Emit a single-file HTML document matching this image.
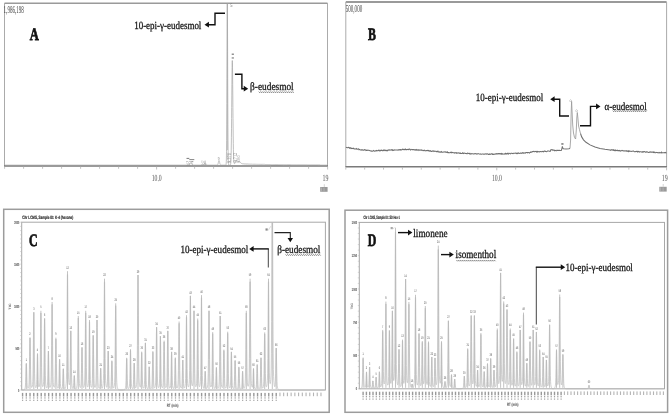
<!DOCTYPE html>
<html><head><meta charset="utf-8"><style>
html,body{margin:0;padding:0;background:#fff;}
body{width:669px;height:415px;overflow:hidden;}
svg{display:block;will-change:transform;text-rendering:geometricPrecision;}
</style></head><body>
<svg width="669" height="415" viewBox="0 0 669 415">
<rect width="669" height="415" fill="#fff"/>
<g id="A">
<line x1="4.50" y1="3.30" x2="327.50" y2="3.30" stroke="#9a9a9a" stroke-width="1.5"/>
<line x1="4.50" y1="3.00" x2="4.50" y2="166.00" stroke="#ababab" stroke-width="1.0"/>
<line x1="327.50" y1="3.00" x2="327.50" y2="166.00" stroke="#ababab" stroke-width="1.0"/>
<line x1="4.00" y1="165.90" x2="328.00" y2="165.90" stroke="#7a7a7a" stroke-width="1.5"/>
<line x1="4.60" y1="166.20" x2="4.60" y2="168.80" stroke="#a8a8a8" stroke-width="0.7"/>
<line x1="23.60" y1="166.20" x2="23.60" y2="168.80" stroke="#a8a8a8" stroke-width="0.7"/>
<line x1="42.60" y1="166.20" x2="42.60" y2="168.80" stroke="#a8a8a8" stroke-width="0.7"/>
<line x1="61.60" y1="166.20" x2="61.60" y2="168.80" stroke="#a8a8a8" stroke-width="0.7"/>
<line x1="80.60" y1="166.20" x2="80.60" y2="168.80" stroke="#a8a8a8" stroke-width="0.7"/>
<line x1="99.60" y1="166.20" x2="99.60" y2="168.80" stroke="#a8a8a8" stroke-width="0.7"/>
<line x1="118.60" y1="166.20" x2="118.60" y2="168.80" stroke="#a8a8a8" stroke-width="0.7"/>
<line x1="137.60" y1="166.20" x2="137.60" y2="168.80" stroke="#a8a8a8" stroke-width="0.7"/>
<line x1="156.60" y1="166.20" x2="156.60" y2="169.50" stroke="#a8a8a8" stroke-width="0.7"/>
<line x1="175.60" y1="166.20" x2="175.60" y2="168.80" stroke="#a8a8a8" stroke-width="0.7"/>
<line x1="194.60" y1="166.20" x2="194.60" y2="168.80" stroke="#a8a8a8" stroke-width="0.7"/>
<line x1="213.60" y1="166.20" x2="213.60" y2="168.80" stroke="#a8a8a8" stroke-width="0.7"/>
<line x1="232.60" y1="166.20" x2="232.60" y2="168.80" stroke="#a8a8a8" stroke-width="0.7"/>
<line x1="251.60" y1="166.20" x2="251.60" y2="168.80" stroke="#a8a8a8" stroke-width="0.7"/>
<line x1="270.60" y1="166.20" x2="270.60" y2="168.80" stroke="#a8a8a8" stroke-width="0.7"/>
<line x1="289.60" y1="166.20" x2="289.60" y2="168.80" stroke="#a8a8a8" stroke-width="0.7"/>
<line x1="308.60" y1="166.20" x2="308.60" y2="168.80" stroke="#a8a8a8" stroke-width="0.7"/>
<line x1="327.60" y1="166.20" x2="327.60" y2="169.50" stroke="#a8a8a8" stroke-width="0.7"/>
<text x="0" y="0" transform="translate(3.60,12.60) scale(0.12000,0.25)" font-family="'Liberation Serif', serif" font-size="42" font-weight="normal" fill="#444" text-anchor="start" >1,986,198</text>
<text x="0" y="0" transform="translate(29.80,40.00) scale(0.18000,0.25)" font-family="'Liberation Serif', serif" font-size="70" font-weight="bold" fill="#111" text-anchor="start" stroke="#111" stroke-width="3">A</text>
<text x="0" y="0" transform="translate(151.70,180.80) scale(0.15000,0.25)" font-family="'Liberation Serif', serif" font-size="38" font-weight="normal" fill="#555" text-anchor="start" >10.0</text>
<text x="0" y="0" transform="translate(322.50,180.80) scale(0.15500,0.25)" font-family="'Liberation Serif', serif" font-size="38" font-weight="normal" fill="#555" text-anchor="start" >19</text>
<rect x="320.2" y="187.0" width="7.4" height="4.8" fill="#9a9a9a"/>
<line x1="324.30" y1="184.20" x2="324.30" y2="187.00" stroke="#c4c4c4" stroke-width="0.7"/>
<line x1="321.50" y1="187.60" x2="321.50" y2="191.40" stroke="#c8c8c8" stroke-width="0.5"/>
<line x1="324.00" y1="187.60" x2="324.00" y2="191.40" stroke="#c8c8c8" stroke-width="0.5"/>
<path d="M5.00,165.10 L5.10,165.10 L5.20,165.10 L5.30,165.10 L5.40,165.10 L5.50,165.10 L5.60,165.10 L5.70,165.10 L5.80,165.10 L5.90,165.10 L6.00,165.10 L6.10,165.10 L6.20,165.10 L6.30,165.10 L6.40,165.10 L6.50,165.10 L6.60,165.10 L6.70,165.10 L6.80,165.10 L6.90,165.10 L7.00,165.10 L7.10,165.10 L7.20,165.10 L7.30,165.10 L7.40,165.10 L7.50,165.10 L7.60,165.10 L7.70,165.10 L7.80,165.10 L7.90,165.10 L8.00,165.10 L8.10,165.10 L8.20,165.10 L8.30,165.10 L8.40,165.10 L8.50,165.10 L8.60,165.10 L8.70,165.10 L8.80,165.10 L8.90,165.10 L9.00,165.10 L9.10,165.10 L9.20,165.10 L9.30,165.10 L9.40,165.10 L9.50,165.10 L9.60,165.10 L9.70,165.10 L9.80,165.10 L9.90,165.10 L10.00,165.10 L10.10,165.10 L10.20,165.10 L10.30,165.10 L10.40,165.10 L10.50,165.10 L10.60,165.10 L10.70,165.10 L10.80,165.10 L10.90,165.10 L11.00,165.10 L11.10,165.10 L11.20,165.10 L11.30,165.10 L11.40,165.10 L11.50,165.10 L11.60,165.10 L11.70,165.10 L11.80,165.10 L11.90,165.10 L12.00,165.10 L12.10,165.10 L12.20,165.10 L12.30,165.10 L12.40,165.10 L12.50,165.10 L12.60,165.10 L12.70,165.10 L12.80,165.10 L12.90,165.10 L13.00,165.10 L13.10,165.10 L13.20,165.10 L13.30,165.10 L13.40,165.10 L13.50,165.10 L13.60,165.10 L13.70,165.10 L13.80,165.10 L13.90,165.10 L14.00,165.10 L14.10,165.10 L14.20,165.10 L14.30,165.10 L14.40,165.10 L14.50,165.10 L14.60,165.10 L14.70,165.10 L14.80,165.10 L14.90,165.10 L15.00,165.10 L15.10,165.10 L15.20,165.10 L15.30,165.10 L15.40,165.10 L15.50,165.10 L15.60,165.10 L15.70,165.10 L15.80,165.10 L15.90,165.10 L16.00,165.10 L16.10,165.10 L16.20,165.10 L16.30,165.10 L16.40,165.10 L16.50,165.10 L16.60,165.10 L16.70,165.10 L16.80,165.10 L16.90,165.10 L17.00,165.10 L17.10,165.10 L17.20,165.10 L17.30,165.10 L17.40,165.10 L17.50,165.10 L17.60,165.10 L17.70,165.10 L17.80,165.10 L17.90,165.10 L18.00,165.10 L18.10,165.10 L18.20,165.10 L18.30,165.10 L18.40,165.10 L18.50,165.10 L18.60,165.10 L18.70,165.10 L18.80,165.10 L18.90,165.10 L19.00,165.10 L19.10,165.10 L19.20,165.10 L19.30,165.10 L19.40,165.10 L19.50,165.10 L19.60,165.10 L19.70,165.10 L19.80,165.10 L19.90,165.10 L20.00,165.10 L20.10,165.10 L20.20,165.10 L20.30,165.10 L20.40,165.10 L20.50,165.10 L20.60,165.10 L20.70,165.10 L20.80,165.10 L20.90,165.10 L21.00,165.10 L21.10,165.10 L21.20,165.10 L21.30,165.10 L21.40,165.10 L21.50,165.10 L21.60,165.10 L21.70,165.10 L21.80,165.10 L21.90,165.10 L22.00,165.10 L22.10,165.10 L22.20,165.10 L22.30,165.10 L22.40,165.10 L22.50,165.10 L22.60,165.10 L22.70,165.10 L22.80,165.10 L22.90,165.10 L23.00,165.10 L23.10,165.10 L23.20,165.10 L23.30,165.10 L23.40,165.10 L23.50,165.10 L23.60,165.10 L23.70,165.10 L23.80,165.10 L23.90,165.10 L24.00,165.10 L24.10,165.10 L24.20,165.10 L24.30,165.10 L24.40,165.10 L24.50,165.10 L24.60,165.10 L24.70,165.10 L24.80,165.10 L24.90,165.10 L25.00,165.10 L25.10,165.10 L25.20,165.10 L25.30,165.10 L25.40,165.10 L25.50,165.10 L25.60,165.10 L25.70,165.10 L25.80,165.10 L25.90,165.10 L26.00,165.10 L26.10,165.10 L26.20,165.10 L26.30,165.10 L26.40,165.10 L26.50,165.10 L26.60,165.10 L26.70,165.10 L26.80,165.10 L26.90,165.10 L27.00,165.10 L27.10,165.10 L27.20,165.10 L27.30,165.10 L27.40,165.10 L27.50,165.10 L27.60,165.10 L27.70,165.10 L27.80,165.10 L27.90,165.10 L28.00,165.10 L28.10,165.10 L28.20,165.10 L28.30,165.10 L28.40,165.10 L28.50,165.10 L28.60,165.10 L28.70,165.10 L28.80,165.10 L28.90,165.10 L29.00,165.10 L29.10,165.10 L29.20,165.10 L29.30,165.10 L29.40,165.10 L29.50,165.10 L29.60,165.10 L29.70,165.10 L29.80,165.10 L29.90,165.10 L30.00,165.10 L30.10,165.10 L30.20,165.10 L30.30,165.10 L30.40,165.10 L30.50,165.10 L30.60,165.10 L30.70,165.10 L30.80,165.10 L30.90,165.10 L31.00,165.10 L31.10,165.10 L31.20,165.10 L31.30,165.10 L31.40,165.10 L31.50,165.10 L31.60,165.10 L31.70,165.10 L31.80,165.10 L31.90,165.10 L32.00,165.10 L32.10,165.10 L32.20,165.10 L32.30,165.10 L32.40,165.10 L32.50,165.10 L32.60,165.10 L32.70,165.10 L32.80,165.10 L32.90,165.10 L33.00,165.10 L33.10,165.10 L33.20,165.10 L33.30,165.10 L33.40,165.10 L33.50,165.10 L33.60,165.10 L33.70,165.10 L33.80,165.10 L33.90,165.10 L34.00,165.10 L34.10,165.10 L34.20,165.10 L34.30,165.10 L34.40,165.10 L34.50,165.10 L34.60,165.10 L34.70,165.10 L34.80,165.10 L34.90,165.10 L35.00,165.10 L35.10,165.10 L35.20,165.10 L35.30,165.10 L35.40,165.10 L35.50,165.10 L35.60,165.10 L35.70,165.10 L35.80,165.10 L35.90,165.10 L36.00,165.10 L36.10,165.10 L36.20,165.10 L36.30,165.10 L36.40,165.10 L36.50,165.10 L36.60,165.10 L36.70,165.10 L36.80,165.10 L36.90,165.10 L37.00,165.10 L37.10,165.10 L37.20,165.10 L37.30,165.10 L37.40,165.10 L37.50,165.10 L37.60,165.10 L37.70,165.10 L37.80,165.10 L37.90,165.10 L38.00,165.10 L38.10,165.10 L38.20,165.10 L38.30,165.10 L38.40,165.10 L38.50,165.10 L38.60,165.10 L38.70,165.10 L38.80,165.10 L38.90,165.10 L39.00,165.10 L39.10,165.10 L39.20,165.10 L39.30,165.10 L39.40,165.10 L39.50,165.10 L39.60,165.10 L39.70,165.10 L39.80,165.10 L39.90,165.10 L40.00,165.10 L40.10,165.10 L40.20,165.10 L40.30,165.10 L40.40,165.10 L40.50,165.10 L40.60,165.10 L40.70,165.10 L40.80,165.10 L40.90,165.10 L41.00,165.10 L41.10,165.10 L41.20,165.10 L41.30,165.10 L41.40,165.10 L41.50,165.10 L41.60,165.10 L41.70,165.10 L41.80,165.10 L41.90,165.10 L42.00,165.10 L42.10,165.10 L42.20,165.10 L42.30,165.10 L42.40,165.10 L42.50,165.10 L42.60,165.10 L42.70,165.10 L42.80,165.10 L42.90,165.10 L43.00,165.10 L43.10,165.10 L43.20,165.10 L43.30,165.10 L43.40,165.10 L43.50,165.10 L43.60,165.10 L43.70,165.10 L43.80,165.10 L43.90,165.10 L44.00,165.10 L44.10,165.10 L44.20,165.10 L44.30,165.10 L44.40,165.10 L44.50,165.10 L44.60,165.10 L44.70,165.10 L44.80,165.10 L44.90,165.10 L45.00,165.10 L45.10,165.10 L45.20,165.10 L45.30,165.10 L45.40,165.10 L45.50,165.10 L45.60,165.10 L45.70,165.10 L45.80,165.10 L45.90,165.10 L46.00,165.10 L46.10,165.10 L46.20,165.10 L46.30,165.10 L46.40,165.10 L46.50,165.10 L46.60,165.10 L46.70,165.10 L46.80,165.10 L46.90,165.10 L47.00,165.10 L47.10,165.10 L47.20,165.10 L47.30,165.10 L47.40,165.10 L47.50,165.10 L47.60,165.10 L47.70,165.10 L47.80,165.10 L47.90,165.10 L48.00,165.10 L48.10,165.10 L48.20,165.10 L48.30,165.10 L48.40,165.10 L48.50,165.10 L48.60,165.10 L48.70,165.10 L48.80,165.10 L48.90,165.10 L49.00,165.10 L49.10,165.10 L49.20,165.10 L49.30,165.10 L49.40,165.10 L49.50,165.10 L49.60,165.10 L49.70,165.10 L49.80,165.10 L49.90,165.10 L50.00,165.10 L50.10,165.10 L50.20,165.10 L50.30,165.10 L50.40,165.10 L50.50,165.10 L50.60,165.10 L50.70,165.10 L50.80,165.10 L50.90,165.10 L51.00,165.10 L51.10,165.10 L51.20,165.10 L51.30,165.10 L51.40,165.10 L51.50,165.10 L51.60,165.10 L51.70,165.10 L51.80,165.10 L51.90,165.10 L52.00,165.10 L52.10,165.10 L52.20,165.10 L52.30,165.10 L52.40,165.10 L52.50,165.10 L52.60,165.10 L52.70,165.10 L52.80,165.10 L52.90,165.10 L53.00,165.10 L53.10,165.10 L53.20,165.10 L53.30,165.10 L53.40,165.10 L53.50,165.10 L53.60,165.10 L53.70,165.10 L53.80,165.10 L53.90,165.10 L54.00,165.10 L54.10,165.10 L54.20,165.10 L54.30,165.10 L54.40,165.10 L54.50,165.10 L54.60,165.10 L54.70,165.10 L54.80,165.10 L54.90,165.10 L55.00,165.10 L55.10,165.10 L55.20,165.10 L55.30,165.10 L55.40,165.10 L55.50,165.10 L55.60,165.10 L55.70,165.10 L55.80,165.10 L55.90,165.10 L56.00,165.10 L56.10,165.10 L56.20,165.10 L56.30,165.10 L56.40,165.10 L56.50,165.10 L56.60,165.10 L56.70,165.10 L56.80,165.10 L56.90,165.10 L57.00,165.10 L57.10,165.10 L57.20,165.10 L57.30,165.10 L57.40,165.10 L57.50,165.10 L57.60,165.10 L57.70,165.10 L57.80,165.10 L57.90,165.10 L58.00,165.10 L58.10,165.10 L58.20,165.10 L58.30,165.10 L58.40,165.10 L58.50,165.10 L58.60,165.10 L58.70,165.10 L58.80,165.10 L58.90,165.10 L59.00,165.10 L59.10,165.10 L59.20,165.10 L59.30,165.10 L59.40,165.10 L59.50,165.10 L59.60,165.10 L59.70,165.10 L59.80,165.10 L59.90,165.10 L60.00,165.10 L60.10,165.10 L60.20,165.10 L60.30,165.10 L60.40,165.10 L60.50,165.10 L60.60,165.10 L60.70,165.10 L60.80,165.10 L60.90,165.10 L61.00,165.10 L61.10,165.10 L61.20,165.10 L61.30,165.10 L61.40,165.10 L61.50,165.10 L61.60,165.10 L61.70,165.10 L61.80,165.10 L61.90,165.10 L62.00,165.10 L62.10,165.10 L62.20,165.10 L62.30,165.10 L62.40,165.10 L62.50,165.10 L62.60,165.10 L62.70,165.10 L62.80,165.10 L62.90,165.10 L63.00,165.10 L63.10,165.10 L63.20,165.10 L63.30,165.10 L63.40,165.10 L63.50,165.10 L63.60,165.10 L63.70,165.10 L63.80,165.10 L63.90,165.10 L64.00,165.10 L64.10,165.10 L64.20,165.10 L64.30,165.10 L64.40,165.10 L64.50,165.10 L64.60,165.10 L64.70,165.10 L64.80,165.10 L64.90,165.10 L65.00,165.10 L65.10,165.10 L65.20,165.10 L65.30,165.10 L65.40,165.10 L65.50,165.10 L65.60,165.10 L65.70,165.10 L65.80,165.10 L65.90,165.10 L66.00,165.10 L66.10,165.10 L66.20,165.10 L66.30,165.10 L66.40,165.10 L66.50,165.10 L66.60,165.10 L66.70,165.10 L66.80,165.10 L66.90,165.10 L67.00,165.10 L67.10,165.10 L67.20,165.10 L67.30,165.10 L67.40,165.10 L67.50,165.10 L67.60,165.10 L67.70,165.10 L67.80,165.10 L67.90,165.10 L68.00,165.10 L68.10,165.10 L68.20,165.10 L68.30,165.10 L68.40,165.10 L68.50,165.10 L68.60,165.10 L68.70,165.10 L68.80,165.10 L68.90,165.10 L69.00,165.10 L69.10,165.10 L69.20,165.10 L69.30,165.10 L69.40,165.10 L69.50,165.10 L69.60,165.10 L69.70,165.10 L69.80,165.10 L69.90,165.10 L70.00,165.10 L70.10,165.10 L70.20,165.10 L70.30,165.10 L70.40,165.10 L70.50,165.10 L70.60,165.10 L70.70,165.10 L70.80,165.10 L70.90,165.10 L71.00,165.10 L71.10,165.10 L71.20,165.10 L71.30,165.10 L71.40,165.10 L71.50,165.10 L71.60,165.10 L71.70,165.10 L71.80,165.10 L71.90,165.10 L72.00,165.10 L72.10,165.10 L72.20,165.10 L72.30,165.10 L72.40,165.10 L72.50,165.10 L72.60,165.10 L72.70,165.10 L72.80,165.10 L72.90,165.10 L73.00,165.10 L73.10,165.10 L73.20,165.10 L73.30,165.10 L73.40,165.10 L73.50,165.10 L73.60,165.10 L73.70,165.10 L73.80,165.10 L73.90,165.10 L74.00,165.10 L74.10,165.10 L74.20,165.10 L74.30,165.10 L74.40,165.10 L74.50,165.10 L74.60,165.10 L74.70,165.10 L74.80,165.10 L74.90,165.10 L75.00,165.10 L75.10,165.10 L75.20,165.10 L75.30,165.10 L75.40,165.10 L75.50,165.10 L75.60,165.10 L75.70,165.10 L75.80,165.10 L75.90,165.10 L76.00,165.10 L76.10,165.10 L76.20,165.10 L76.30,165.10 L76.40,165.10 L76.50,165.10 L76.60,165.10 L76.70,165.10 L76.80,165.10 L76.90,165.10 L77.00,165.10 L77.10,165.10 L77.20,165.10 L77.30,165.10 L77.40,165.10 L77.50,165.10 L77.60,165.10 L77.70,165.10 L77.80,165.10 L77.90,165.10 L78.00,165.10 L78.10,165.10 L78.20,165.10 L78.30,165.10 L78.40,165.10 L78.50,165.10 L78.60,165.10 L78.70,165.10 L78.80,165.10 L78.90,165.10 L79.00,165.10 L79.10,165.10 L79.20,165.10 L79.30,165.10 L79.40,165.10 L79.50,165.10 L79.60,165.10 L79.70,165.10 L79.80,165.10 L79.90,165.10 L80.00,165.10 L80.10,165.10 L80.20,165.10 L80.30,165.10 L80.40,165.10 L80.50,165.10 L80.60,165.10 L80.70,165.10 L80.80,165.10 L80.90,165.10 L81.00,165.10 L81.10,165.10 L81.20,165.10 L81.30,165.10 L81.40,165.10 L81.50,165.10 L81.60,165.10 L81.70,165.10 L81.80,165.10 L81.90,165.10 L82.00,165.10 L82.10,165.10 L82.20,165.10 L82.30,165.10 L82.40,165.10 L82.50,165.10 L82.60,165.10 L82.70,165.10 L82.80,165.10 L82.90,165.10 L83.00,165.10 L83.10,165.10 L83.20,165.10 L83.30,165.10 L83.40,165.10 L83.50,165.10 L83.60,165.10 L83.70,165.10 L83.80,165.10 L83.90,165.10 L84.00,165.10 L84.10,165.10 L84.20,165.10 L84.30,165.10 L84.40,165.10 L84.50,165.10 L84.60,165.10 L84.70,165.10 L84.80,165.10 L84.90,165.10 L85.00,165.10 L85.10,165.10 L85.20,165.10 L85.30,165.10 L85.40,165.10 L85.50,165.10 L85.60,165.10 L85.70,165.10 L85.80,165.10 L85.90,165.10 L86.00,165.10 L86.10,165.10 L86.20,165.10 L86.30,165.10 L86.40,165.10 L86.50,165.10 L86.60,165.10 L86.70,165.10 L86.80,165.10 L86.90,165.10 L87.00,165.10 L87.10,165.10 L87.20,165.10 L87.30,165.10 L87.40,165.10 L87.50,165.10 L87.60,165.10 L87.70,165.10 L87.80,165.10 L87.90,165.10 L88.00,165.10 L88.10,165.10 L88.20,165.10 L88.30,165.10 L88.40,165.10 L88.50,165.10 L88.60,165.10 L88.70,165.10 L88.80,165.10 L88.90,165.10 L89.00,165.10 L89.10,165.10 L89.20,165.10 L89.30,165.10 L89.40,165.10 L89.50,165.10 L89.60,165.10 L89.70,165.10 L89.80,165.10 L89.90,165.10 L90.00,165.10 L90.10,165.10 L90.20,165.10 L90.30,165.10 L90.40,165.10 L90.50,165.10 L90.60,165.10 L90.70,165.10 L90.80,165.10 L90.90,165.10 L91.00,165.10 L91.10,165.10 L91.20,165.10 L91.30,165.10 L91.40,165.10 L91.50,165.10 L91.60,165.10 L91.70,165.10 L91.80,165.10 L91.90,165.10 L92.00,165.10 L92.10,165.10 L92.20,165.10 L92.30,165.10 L92.40,165.10 L92.50,165.10 L92.60,165.10 L92.70,165.10 L92.80,165.10 L92.90,165.10 L93.00,165.10 L93.10,165.10 L93.20,165.10 L93.30,165.10 L93.40,165.10 L93.50,165.10 L93.60,165.10 L93.70,165.10 L93.80,165.10 L93.90,165.10 L94.00,165.10 L94.10,165.10 L94.20,165.10 L94.30,165.10 L94.40,165.10 L94.50,165.10 L94.60,165.10 L94.70,165.10 L94.80,165.10 L94.90,165.10 L95.00,165.10 L95.10,165.10 L95.20,165.10 L95.30,165.10 L95.40,165.10 L95.50,165.10 L95.60,165.10 L95.70,165.10 L95.80,165.10 L95.90,165.10 L96.00,165.10 L96.10,165.10 L96.20,165.10 L96.30,165.10 L96.40,165.10 L96.50,165.10 L96.60,165.10 L96.70,165.10 L96.80,165.10 L96.90,165.10 L97.00,165.10 L97.10,165.10 L97.20,165.10 L97.30,165.10 L97.40,165.10 L97.50,165.10 L97.60,165.10 L97.70,165.10 L97.80,165.10 L97.90,165.10 L98.00,165.10 L98.10,165.10 L98.20,165.10 L98.30,165.10 L98.40,165.10 L98.50,165.10 L98.60,165.10 L98.70,165.10 L98.80,165.10 L98.90,165.10 L99.00,165.10 L99.10,165.10 L99.20,165.10 L99.30,165.10 L99.40,165.10 L99.50,165.10 L99.60,165.10 L99.70,165.10 L99.80,165.10 L99.90,165.10 L100.00,165.10 L100.10,165.10 L100.20,165.10 L100.30,165.10 L100.40,165.10 L100.50,165.10 L100.60,165.10 L100.70,165.10 L100.80,165.10 L100.90,165.10 L101.00,165.10 L101.10,165.10 L101.20,165.10 L101.30,165.10 L101.40,165.10 L101.50,165.10 L101.60,165.10 L101.70,165.10 L101.80,165.10 L101.90,165.10 L102.00,165.10 L102.10,165.10 L102.20,165.10 L102.30,165.10 L102.40,165.10 L102.50,165.10 L102.60,165.10 L102.70,165.10 L102.80,165.10 L102.90,165.10 L103.00,165.10 L103.10,165.10 L103.20,165.10 L103.30,165.10 L103.40,165.10 L103.50,165.10 L103.60,165.10 L103.70,165.10 L103.80,165.10 L103.90,165.10 L104.00,165.10 L104.10,165.10 L104.20,165.10 L104.30,165.10 L104.40,165.10 L104.50,165.10 L104.60,165.10 L104.70,165.10 L104.80,165.10 L104.90,165.10 L105.00,165.10 L105.10,165.10 L105.20,165.10 L105.30,165.10 L105.40,165.10 L105.50,165.10 L105.60,165.10 L105.70,165.10 L105.80,165.10 L105.90,165.10 L106.00,165.10 L106.10,165.10 L106.20,165.10 L106.30,165.10 L106.40,165.10 L106.50,165.10 L106.60,165.10 L106.70,165.10 L106.80,165.10 L106.90,165.10 L107.00,165.10 L107.10,165.10 L107.20,165.10 L107.30,165.10 L107.40,165.10 L107.50,165.10 L107.60,165.10 L107.70,165.10 L107.80,165.10 L107.90,165.10 L108.00,165.10 L108.10,165.10 L108.20,165.10 L108.30,165.10 L108.40,165.10 L108.50,165.10 L108.60,165.10 L108.70,165.10 L108.80,165.10 L108.90,165.10 L109.00,165.10 L109.10,165.10 L109.20,165.10 L109.30,165.10 L109.40,165.10 L109.50,165.10 L109.60,165.10 L109.70,165.10 L109.80,165.10 L109.90,165.10 L110.00,165.10 L110.10,165.10 L110.20,165.10 L110.30,165.10 L110.40,165.10 L110.50,165.10 L110.60,165.10 L110.70,165.10 L110.80,165.10 L110.90,165.10 L111.00,165.10 L111.10,165.10 L111.20,165.10 L111.30,165.10 L111.40,165.10 L111.50,165.10 L111.60,165.10 L111.70,165.10 L111.80,165.10 L111.90,165.10 L112.00,165.10 L112.10,165.10 L112.20,165.10 L112.30,165.10 L112.40,165.10 L112.50,165.10 L112.60,165.10 L112.70,165.10 L112.80,165.10 L112.90,165.10 L113.00,165.10 L113.10,165.10 L113.20,165.10 L113.30,165.10 L113.40,165.10 L113.50,165.10 L113.60,165.10 L113.70,165.10 L113.80,165.10 L113.90,165.10 L114.00,165.10 L114.10,165.10 L114.20,165.10 L114.30,165.10 L114.40,165.10 L114.50,165.10 L114.60,165.10 L114.70,165.10 L114.80,165.10 L114.90,165.10 L115.00,165.10 L115.10,165.10 L115.20,165.10 L115.30,165.10 L115.40,165.10 L115.50,165.10 L115.60,165.10 L115.70,165.10 L115.80,165.10 L115.90,165.10 L116.00,165.10 L116.10,165.10 L116.20,165.10 L116.30,165.10 L116.40,165.10 L116.50,165.10 L116.60,165.10 L116.70,165.10 L116.80,165.10 L116.90,165.10 L117.00,165.10 L117.10,165.10 L117.20,165.10 L117.30,165.10 L117.40,165.10 L117.50,165.10 L117.60,165.10 L117.70,165.10 L117.80,165.10 L117.90,165.10 L118.00,165.10 L118.10,165.10 L118.20,165.10 L118.30,165.10 L118.40,165.10 L118.50,165.10 L118.60,165.10 L118.70,165.10 L118.80,165.10 L118.90,165.10 L119.00,165.10 L119.10,165.10 L119.20,165.10 L119.30,165.10 L119.40,165.10 L119.50,165.10 L119.60,165.10 L119.70,165.10 L119.80,165.10 L119.90,165.10 L120.00,165.10 L120.10,165.10 L120.20,165.10 L120.30,165.10 L120.40,165.10 L120.50,165.10 L120.60,165.10 L120.70,165.10 L120.80,165.10 L120.90,165.10 L121.00,165.10 L121.10,165.10 L121.20,165.10 L121.30,165.10 L121.40,165.10 L121.50,165.10 L121.60,165.10 L121.70,165.10 L121.80,165.10 L121.90,165.10 L122.00,165.10 L122.10,165.10 L122.20,165.10 L122.30,165.10 L122.40,165.10 L122.50,165.10 L122.60,165.10 L122.70,165.10 L122.80,165.10 L122.90,165.10 L123.00,165.10 L123.10,165.10 L123.20,165.10 L123.30,165.10 L123.40,165.10 L123.50,165.10 L123.60,165.10 L123.70,165.10 L123.80,165.10 L123.90,165.10 L124.00,165.10 L124.10,165.10 L124.20,165.10 L124.30,165.10 L124.40,165.10 L124.50,165.10 L124.60,165.10 L124.70,165.10 L124.80,165.10 L124.90,165.10 L125.00,165.10 L125.10,165.10 L125.20,165.10 L125.30,165.10 L125.40,165.10 L125.50,165.10 L125.60,165.10 L125.70,165.10 L125.80,165.10 L125.90,165.10 L126.00,165.10 L126.10,165.10 L126.20,165.10 L126.30,165.10 L126.40,165.10 L126.50,165.10 L126.60,165.10 L126.70,165.10 L126.80,165.10 L126.90,165.10 L127.00,165.10 L127.10,165.10 L127.20,165.10 L127.30,165.10 L127.40,165.10 L127.50,165.10 L127.60,165.10 L127.70,165.10 L127.80,165.10 L127.90,165.10 L128.00,165.10 L128.10,165.10 L128.20,165.10 L128.30,165.10 L128.40,165.10 L128.50,165.10 L128.60,165.10 L128.70,165.10 L128.80,165.10 L128.90,165.10 L129.00,165.10 L129.10,165.10 L129.20,165.10 L129.30,165.10 L129.40,165.10 L129.50,165.10 L129.60,165.10 L129.70,165.10 L129.80,165.10 L129.90,165.10 L130.00,165.10 L130.10,165.10 L130.20,165.10 L130.30,165.10 L130.40,165.10 L130.50,165.10 L130.60,165.10 L130.70,165.10 L130.80,165.10 L130.90,165.10 L131.00,165.10 L131.10,165.10 L131.20,165.10 L131.30,165.10 L131.40,165.10 L131.50,165.10 L131.60,165.10 L131.70,165.10 L131.80,165.10 L131.90,165.10 L132.00,165.10 L132.10,165.10 L132.20,165.10 L132.30,165.10 L132.40,165.10 L132.50,165.10 L132.60,165.10 L132.70,165.10 L132.80,165.10 L132.90,165.10 L133.00,165.10 L133.10,165.10 L133.20,165.10 L133.30,165.10 L133.40,165.10 L133.50,165.10 L133.60,165.10 L133.70,165.10 L133.80,165.10 L133.90,165.10 L134.00,165.10 L134.10,165.10 L134.20,165.10 L134.30,165.10 L134.40,165.10 L134.50,165.10 L134.60,165.10 L134.70,165.10 L134.80,165.10 L134.90,165.10 L135.00,165.10 L135.10,165.10 L135.20,165.10 L135.30,165.10 L135.40,165.10 L135.50,165.10 L135.60,165.10 L135.70,165.10 L135.80,165.10 L135.90,165.10 L136.00,165.10 L136.10,165.10 L136.20,165.10 L136.30,165.10 L136.40,165.10 L136.50,165.10 L136.60,165.10 L136.70,165.10 L136.80,165.10 L136.90,165.10 L137.00,165.10 L137.10,165.10 L137.20,165.10 L137.30,165.10 L137.40,165.10 L137.50,165.10 L137.60,165.10 L137.70,165.10 L137.80,165.10 L137.90,165.10 L138.00,165.10 L138.10,165.10 L138.20,165.10 L138.30,165.10 L138.40,165.10 L138.50,165.10 L138.60,165.10 L138.70,165.10 L138.80,165.10 L138.90,165.10 L139.00,165.10 L139.10,165.10 L139.20,165.10 L139.30,165.10 L139.40,165.10 L139.50,165.10 L139.60,165.10 L139.70,165.10 L139.80,165.10 L139.90,165.10 L140.00,165.10 L140.10,165.10 L140.20,165.10 L140.30,165.10 L140.40,165.10 L140.50,165.10 L140.60,165.10 L140.70,165.10 L140.80,165.10 L140.90,165.10 L141.00,165.10 L141.10,165.10 L141.20,165.10 L141.30,165.10 L141.40,165.10 L141.50,165.10 L141.60,165.10 L141.70,165.10 L141.80,165.10 L141.90,165.10 L142.00,165.10 L142.10,165.10 L142.20,165.10 L142.30,165.10 L142.40,165.10 L142.50,165.10 L142.60,165.10 L142.70,165.10 L142.80,165.10 L142.90,165.10 L143.00,165.10 L143.10,165.10 L143.20,165.10 L143.30,165.10 L143.40,165.10 L143.50,165.10 L143.60,165.10 L143.70,165.10 L143.80,165.10 L143.90,165.10 L144.00,165.10 L144.10,165.10 L144.20,165.10 L144.30,165.10 L144.40,165.10 L144.50,165.10 L144.60,165.10 L144.70,165.10 L144.80,165.10 L144.90,165.10 L145.00,165.10 L145.10,165.10 L145.20,165.10 L145.30,165.10 L145.40,165.10 L145.50,165.10 L145.60,165.10 L145.70,165.10 L145.80,165.10 L145.90,165.10 L146.00,165.10 L146.10,165.10 L146.20,165.10 L146.30,165.10 L146.40,165.10 L146.50,165.10 L146.60,165.10 L146.70,165.10 L146.80,165.10 L146.90,165.10 L147.00,165.10 L147.10,165.10 L147.20,165.10 L147.30,165.10 L147.40,165.10 L147.50,165.10 L147.60,165.10 L147.70,165.10 L147.80,165.10 L147.90,165.10 L148.00,165.10 L148.10,165.10 L148.20,165.10 L148.30,165.10 L148.40,165.10 L148.50,165.10 L148.60,165.10 L148.70,165.10 L148.80,165.10 L148.90,165.10 L149.00,165.10 L149.10,165.10 L149.20,165.10 L149.30,165.10 L149.40,165.10 L149.50,165.10 L149.60,165.10 L149.70,165.10 L149.80,165.10 L149.90,165.10 L150.00,165.10 L150.10,165.10 L150.20,165.10 L150.30,165.10 L150.40,165.10 L150.50,165.10 L150.60,165.10 L150.70,165.10 L150.80,165.10 L150.90,165.10 L151.00,165.10 L151.10,165.10 L151.20,165.10 L151.30,165.10 L151.40,165.10 L151.50,165.10 L151.60,165.10 L151.70,165.10 L151.80,165.10 L151.90,165.10 L152.00,165.10 L152.10,165.10 L152.20,165.10 L152.30,165.10 L152.40,165.10 L152.50,165.10 L152.60,165.10 L152.70,165.10 L152.80,165.10 L152.90,165.10 L153.00,165.10 L153.10,165.10 L153.20,165.10 L153.30,165.10 L153.40,165.10 L153.50,165.10 L153.60,165.10 L153.70,165.10 L153.80,165.10 L153.90,165.10 L154.00,165.10 L154.10,165.10 L154.20,165.10 L154.30,165.10 L154.40,165.10 L154.50,165.10 L154.60,165.10 L154.70,165.10 L154.80,165.10 L154.90,165.10 L155.00,165.10 L155.10,165.10 L155.20,165.10 L155.30,165.10 L155.40,165.10 L155.50,165.10 L155.60,165.10 L155.70,165.10 L155.80,165.10 L155.90,165.10 L156.00,165.10 L156.10,165.10 L156.20,165.10 L156.30,165.10 L156.40,165.10 L156.50,165.10 L156.60,165.10 L156.70,165.10 L156.80,165.10 L156.90,165.10 L157.00,165.10 L157.10,165.10 L157.20,165.10 L157.30,165.10 L157.40,165.10 L157.50,165.10 L157.60,165.10 L157.70,165.10 L157.80,165.10 L157.90,165.10 L158.00,165.10 L158.10,165.10 L158.20,165.10 L158.30,165.10 L158.40,165.10 L158.50,165.10 L158.60,165.10 L158.70,165.10 L158.80,165.10 L158.90,165.10 L159.00,165.10 L159.10,165.10 L159.20,165.10 L159.30,165.10 L159.40,165.10 L159.50,165.10 L159.60,165.10 L159.70,165.10 L159.80,165.10 L159.90,165.10 L160.00,165.10 L160.10,165.10 L160.20,165.10 L160.30,165.10 L160.40,165.10 L160.50,165.10 L160.60,165.10 L160.70,165.10 L160.80,165.10 L160.90,165.10 L161.00,165.10 L161.10,165.10 L161.20,165.10 L161.30,165.10 L161.40,165.10 L161.50,165.10 L161.60,165.10 L161.70,165.10 L161.80,165.10 L161.90,165.10 L162.00,165.10 L162.10,165.10 L162.20,165.10 L162.30,165.10 L162.40,165.10 L162.50,165.10 L162.60,165.10 L162.70,165.10 L162.80,165.10 L162.90,165.10 L163.00,165.10 L163.10,165.10 L163.20,165.10 L163.30,165.10 L163.40,165.10 L163.50,165.10 L163.60,165.10 L163.70,165.10 L163.80,165.10 L163.90,165.10 L164.00,165.10 L164.10,165.10 L164.20,165.10 L164.30,165.10 L164.40,165.10 L164.50,165.10 L164.60,165.10 L164.70,165.10 L164.80,165.10 L164.90,165.10 L165.00,165.10 L165.10,165.10 L165.20,165.10 L165.30,165.10 L165.40,165.10 L165.50,165.10 L165.60,165.10 L165.70,165.10 L165.80,165.10 L165.90,165.10 L166.00,165.10 L166.10,165.10 L166.20,165.10 L166.30,165.10 L166.40,165.10 L166.50,165.10 L166.60,165.10 L166.70,165.10 L166.80,165.10 L166.90,165.10 L167.00,165.10 L167.10,165.10 L167.20,165.10 L167.30,165.10 L167.40,165.10 L167.50,165.10 L167.60,165.10 L167.70,165.10 L167.80,165.10 L167.90,165.10 L168.00,165.10 L168.10,165.10 L168.20,165.10 L168.30,165.10 L168.40,165.10 L168.50,165.10 L168.60,165.10 L168.70,165.10 L168.80,165.10 L168.90,165.10 L169.00,165.10 L169.10,165.10 L169.20,165.10 L169.30,165.10 L169.40,165.10 L169.50,165.10 L169.60,165.10 L169.70,165.10 L169.80,165.10 L169.90,165.10 L170.00,165.10 L170.10,165.10 L170.20,165.10 L170.30,165.10 L170.40,165.10 L170.50,165.10 L170.60,165.10 L170.70,165.10 L170.80,165.10 L170.90,165.10 L171.00,165.10 L171.10,165.10 L171.20,165.10 L171.30,165.10 L171.40,165.10 L171.50,165.10 L171.60,165.10 L171.70,165.10 L171.80,165.10 L171.90,165.10 L172.00,165.10 L172.10,165.10 L172.20,165.10 L172.30,165.10 L172.40,165.10 L172.50,165.10 L172.60,165.10 L172.70,165.10 L172.80,165.10 L172.90,165.10 L173.00,165.10 L173.10,165.10 L173.20,165.10 L173.30,165.10 L173.40,165.10 L173.50,165.10 L173.60,165.10 L173.70,165.10 L173.80,165.10 L173.90,165.10 L174.00,165.10 L174.10,165.10 L174.20,165.10 L174.30,165.10 L174.40,165.10 L174.50,165.10 L174.60,165.10 L174.70,165.10 L174.80,165.10 L174.90,165.10 L175.00,165.10 L175.10,165.10 L175.20,165.10 L175.30,165.10 L175.40,165.10 L175.50,165.10 L175.60,165.10 L175.70,165.10 L175.80,165.10 L175.90,165.10 L176.00,165.10 L176.10,165.10 L176.20,165.10 L176.30,165.10 L176.40,165.10 L176.50,165.10 L176.60,165.10 L176.70,165.10 L176.80,165.10 L176.90,165.10 L177.00,165.10 L177.10,165.10 L177.20,165.10 L177.30,165.10 L177.40,165.10 L177.50,165.10 L177.60,165.10 L177.70,165.10 L177.80,165.10 L177.90,165.10 L178.00,165.10 L178.10,165.10 L178.20,165.10 L178.30,165.10 L178.40,165.10 L178.50,165.10 L178.60,165.10 L178.70,165.10 L178.80,165.10 L178.90,165.10 L179.00,165.10 L179.10,165.10 L179.20,165.10 L179.30,165.10 L179.40,165.10 L179.50,165.10 L179.60,165.10 L179.70,165.10 L179.80,165.10 L179.90,165.10 L180.00,165.10 L180.10,165.10 L180.20,165.10 L180.30,165.10 L180.40,165.10 L180.50,165.10 L180.60,165.10 L180.70,165.10 L180.80,165.10 L180.90,165.10 L181.00,165.10 L181.10,165.10 L181.20,165.10 L181.30,165.10 L181.40,165.10 L181.50,165.10 L181.60,165.10 L181.70,165.10 L181.80,165.10 L181.90,165.10 L182.00,165.10 L182.10,165.10 L182.20,165.10 L182.30,165.10 L182.40,165.10 L182.50,165.10 L182.60,165.10 L182.70,165.10 L182.80,165.10 L182.90,165.10 L183.00,165.10 L183.10,165.10 L183.20,165.10 L183.30,165.10 L183.40,165.10 L183.50,165.10 L183.60,165.10 L183.70,165.10 L183.80,165.10 L183.90,165.10 L184.00,165.10 L184.10,165.10 L184.20,165.10 L184.30,165.10 L184.40,165.10 L184.50,165.10 L184.60,165.10 L184.70,165.10 L184.80,165.10 L184.90,165.10 L185.00,165.10 L185.10,165.10 L185.20,165.10 L185.30,165.10 L185.40,165.10 L185.50,165.10 L185.60,165.10 L185.70,165.10 L185.80,165.10 L185.90,165.10 L186.00,165.10 L186.10,165.10 L186.20,165.10 L186.30,165.10 L186.40,165.10 L186.50,165.10 L186.60,165.10 L186.70,165.10 L186.80,165.10 L186.90,165.10 L187.00,165.10 L187.10,165.10 L187.20,165.10 L187.30,165.10 L187.40,165.10 L187.50,165.10 L187.60,165.10 L187.70,165.10 L187.80,165.10 L187.90,165.10 L188.00,165.10 L188.10,165.10 L188.20,165.09 L188.30,165.09 L188.40,165.09 L188.50,165.08 L188.60,165.07 L188.70,165.06 L188.80,165.04 L188.90,165.02 L189.00,164.99 L189.10,164.95 L189.20,164.89 L189.30,164.83 L189.40,164.75 L189.50,164.65 L189.60,164.54 L189.70,164.41 L189.80,164.26 L189.90,164.09 L190.00,163.91 L190.10,163.72 L190.20,163.52 L190.30,163.33 L190.40,163.14 L190.50,162.96 L190.60,162.81 L190.70,162.68 L190.80,162.58 L190.90,162.52 L191.00,162.50 L191.10,162.52 L191.20,162.58 L191.30,162.68 L191.40,162.81 L191.50,162.96 L191.60,163.14 L191.70,163.33 L191.80,163.52 L191.90,163.72 L192.00,163.91 L192.10,164.09 L192.20,164.26 L192.30,164.41 L192.40,164.54 L192.50,164.65 L192.60,164.75 L192.70,164.83 L192.80,164.89 L192.90,164.95 L193.00,164.99 L193.10,165.02 L193.20,165.04 L193.30,165.06 L193.40,165.07 L193.50,165.08 L193.60,165.09 L193.70,165.09 L193.80,165.09 L193.90,165.10 L194.00,165.10 L194.10,165.10 L194.20,165.10 L194.30,165.10 L194.40,165.10 L194.50,165.10 L194.60,165.10 L194.70,165.10 L194.80,165.10 L194.90,165.10 L195.00,165.10 L195.10,165.10 L195.20,165.10 L195.30,165.10 L195.40,165.10 L195.50,165.10 L195.60,165.10 L195.70,165.10 L195.80,165.10 L195.90,165.10 L196.00,165.10 L196.10,165.10 L196.20,165.10 L196.30,165.10 L196.40,165.10 L196.50,165.10 L196.60,165.10 L196.70,165.10 L196.80,165.10 L196.90,165.10 L197.00,165.10 L197.10,165.10 L197.20,165.10 L197.30,165.10 L197.40,165.10 L197.50,165.10 L197.60,165.10 L197.70,165.10 L197.80,165.10 L197.90,165.10 L198.00,165.10 L198.10,165.10 L198.20,165.10 L198.30,165.10 L198.40,165.10 L198.50,165.10 L198.60,165.10 L198.70,165.10 L198.80,165.10 L198.90,165.10 L199.00,165.10 L199.10,165.10 L199.20,165.10 L199.30,165.10 L199.40,165.10 L199.50,165.10 L199.60,165.10 L199.70,165.10 L199.80,165.10 L199.90,165.10 L200.00,165.10 L200.10,165.10 L200.20,165.10 L200.30,165.10 L200.40,165.10 L200.50,165.10 L200.60,165.10 L200.70,165.10 L200.80,165.10 L200.90,165.10 L201.00,165.10 L201.10,165.10 L201.20,165.10 L201.30,165.10 L201.40,165.10 L201.50,165.10 L201.60,165.10 L201.70,165.10 L201.80,165.10 L201.90,165.10 L202.00,165.10 L202.10,165.10 L202.20,165.10 L202.30,165.09 L202.40,165.09 L202.50,165.09 L202.60,165.08 L202.70,165.07 L202.80,165.06 L202.90,165.05 L203.00,165.03 L203.10,165.00 L203.20,164.97 L203.30,164.93 L203.40,164.88 L203.50,164.82 L203.60,164.75 L203.70,164.67 L203.80,164.58 L203.90,164.48 L204.00,164.37 L204.10,164.25 L204.20,164.13 L204.30,164.01 L204.40,163.89 L204.50,163.78 L204.60,163.69 L204.70,163.61 L204.80,163.55 L204.90,163.51 L205.00,163.50 L205.10,163.51 L205.20,163.55 L205.30,163.61 L205.40,163.69 L205.50,163.78 L205.60,163.89 L205.70,164.01 L205.80,164.13 L205.90,164.25 L206.00,164.37 L206.10,164.48 L206.20,164.58 L206.30,164.67 L206.40,164.75 L206.50,164.82 L206.60,164.88 L206.70,164.93 L206.80,164.97 L206.90,165.00 L207.00,165.03 L207.10,165.05 L207.20,165.06 L207.30,165.07 L207.40,165.08 L207.50,165.09 L207.60,165.09 L207.70,165.09 L207.80,165.10 L207.90,165.10 L208.00,165.10 L208.10,165.10 L208.20,165.10 L208.30,165.10 L208.40,165.10 L208.50,165.10 L208.60,165.10 L208.70,165.10 L208.80,165.10 L208.90,165.10 L209.00,165.10 L209.10,165.10 L209.20,165.10 L209.30,165.10 L209.40,165.10 L209.50,165.10 L209.60,165.10 L209.70,165.10 L209.80,165.10 L209.90,165.10 L210.00,165.10 L210.10,165.10 L210.20,165.10 L210.30,165.10 L210.40,165.10 L210.50,165.10 L210.60,165.10 L210.70,165.10 L210.80,165.10 L210.90,165.10 L211.00,165.10 L211.10,165.10 L211.20,165.10 L211.30,165.10 L211.40,165.10 L211.50,165.10 L211.60,165.10 L211.70,165.10 L211.80,165.10 L211.90,165.10 L212.00,165.10 L212.10,165.10 L212.20,165.10 L212.30,165.10 L212.40,165.10 L212.50,165.10 L212.60,165.10 L212.70,165.10 L212.80,165.10 L212.90,165.10 L213.00,165.10 L213.10,165.10 L213.20,165.10 L213.30,165.10 L213.40,165.10 L213.50,165.10 L213.60,165.10 L213.70,165.10 L213.80,165.10 L213.90,165.10 L214.00,165.10 L214.10,165.10 L214.20,165.10 L214.30,165.10 L214.40,165.10 L214.50,165.10 L214.60,165.10 L214.70,165.10 L214.80,165.10 L214.90,165.10 L215.00,165.10 L215.10,165.10 L215.20,165.10 L215.30,165.10 L215.40,165.10 L215.50,165.10 L215.60,165.10 L215.70,165.10 L215.80,165.10 L215.90,165.10 L216.00,165.10 L216.10,165.10 L216.20,165.10 L216.30,165.10 L216.40,165.10 L216.50,165.10 L216.60,165.10 L216.70,165.10 L216.80,165.09 L216.90,165.09 L217.00,165.08 L217.10,165.07 L217.20,165.05 L217.30,165.02 L217.40,164.97 L217.50,164.90 L217.60,164.80 L217.70,164.66 L217.80,164.48 L217.90,164.24 L218.00,163.95 L218.10,163.61 L218.20,163.21 L218.30,162.77 L218.40,162.31 L218.50,161.85 L218.60,161.42 L218.70,161.04 L218.80,160.75 L218.90,160.56 L219.00,160.50 L219.10,160.56 L219.20,160.75 L219.30,161.04 L219.40,161.42 L219.50,161.85 L219.60,162.31 L219.70,162.77 L219.80,163.21 L219.90,163.61 L220.00,163.95 L220.10,164.24 L220.20,164.48 L220.30,164.66 L220.40,164.80 L220.50,164.90 L220.60,164.97 L220.70,165.02 L220.80,165.05 L220.90,165.07 L221.00,165.08 L221.10,165.09 L221.20,165.09 L221.30,165.10 L221.40,165.10 L221.50,165.10 L221.60,165.10 L221.70,165.10 L221.80,165.10 L221.90,165.10 L222.00,165.10 L222.10,165.10 L222.20,165.10 L222.30,165.10 L222.40,165.10 L222.50,165.10 L222.60,165.10 L222.70,165.10 L222.80,165.10 L222.90,165.10 L223.00,165.10 L223.10,165.10 L223.20,165.10 L223.30,165.10 L223.40,165.10 L223.50,165.10 L223.60,165.10 L223.70,165.10 L223.80,165.10 L223.90,165.10 L224.00,165.10 L224.10,165.10 L224.20,165.10 L224.30,165.10 L224.40,165.10 L224.50,165.10 L224.60,165.10 L224.70,165.10 L224.80,165.10 L224.90,165.10 L225.00,165.10 L225.10,165.10 L225.20,165.10 L225.30,165.10 L225.40,165.10 L225.50,165.10 L225.60,165.10 L225.70,165.09 L225.80,165.07 L225.90,165.02 L226.00,164.86 L226.10,164.48 L226.20,163.59 L226.30,161.70 L226.40,158.02 L226.50,151.46 L226.60,140.77 L226.70,124.93 L226.80,103.69 L226.90,78.20 L227.00,51.26 L227.10,27.04 L227.20,10.10 L227.30,4.00 L227.40,10.10 L227.50,27.04 L227.60,51.26 L227.70,78.20 L227.80,103.69 L227.90,124.93 L228.00,140.77 L228.10,151.46 L228.20,158.02 L228.30,161.70 L228.40,163.59 L228.50,164.48 L228.60,164.86 L228.70,165.02 L228.80,165.07 L228.90,165.09 L229.00,165.10 L229.10,165.10 L229.20,165.10 L229.30,165.10 L229.40,165.10 L229.50,165.10 L229.60,165.10 L229.70,165.10 L229.80,165.10 L229.90,165.09 L230.00,165.08 L230.10,165.06 L230.20,165.03 L230.30,164.96 L230.40,164.83 L230.50,164.61 L230.60,164.22 L230.70,163.58 L230.80,162.56 L230.90,161.00 L231.00,158.70 L231.10,155.42 L231.20,150.94 L231.30,145.07 L231.40,137.68 L231.50,128.78 L231.60,118.56 L231.70,107.41 L231.80,95.91 L231.90,84.81 L232.00,74.96 L232.10,67.19 L232.20,62.21 L232.30,60.50 L232.40,62.21 L232.50,67.19 L232.60,74.96 L232.70,84.81 L232.80,95.91 L232.90,107.41 L233.00,118.56 L233.10,127.02 L233.20,135.95 L233.30,143.37 L233.40,149.28 L233.50,153.79 L233.60,157.10 L233.70,159.43 L233.80,161.02 L233.90,162.06 L234.00,162.72 L234.10,163.12 L234.20,163.36 L234.30,163.49 L234.40,163.55 L234.50,163.57 L234.60,163.56 L234.70,163.52 L234.80,163.46 L234.90,163.37 L235.00,163.26 L235.10,163.13 L235.20,162.96 L235.30,162.78 L235.40,162.56 L235.50,162.33 L235.60,162.08 L235.70,161.82 L235.80,161.55 L235.90,161.29 L236.00,161.05 L236.10,160.79 L236.20,160.56 L236.30,160.38 L236.40,160.24 L236.50,160.15 L236.60,160.10 L236.70,160.11 L236.80,160.16 L236.90,160.25 L237.00,160.36 L237.10,160.50 L237.20,160.65 L237.30,160.81 L237.40,160.95 L237.50,161.09 L237.60,161.20 L237.70,161.29 L237.80,161.36 L237.90,161.40 L238.00,161.43 L238.10,161.42 L238.20,161.41 L238.30,161.37 L238.40,161.33 L238.50,161.29 L238.60,161.24 L238.70,161.19 L238.80,161.16 L238.90,161.13 L239.00,161.11 L239.10,161.14 L239.20,161.18 L239.30,161.24 L239.40,161.30 L239.50,161.39 L239.60,161.48 L239.70,161.58 L239.80,161.69 L239.90,161.81 L240.00,161.93 L240.10,162.06 L240.20,162.18 L240.30,162.31 L240.40,162.44 L240.50,162.56 L240.60,162.68 L240.70,162.79 L240.80,162.89 L240.90,162.99 L241.00,163.09 L241.10,163.17 L241.20,163.25 L241.30,163.32 L241.40,163.39 L241.50,163.44 L241.60,163.50 L241.70,163.54 L241.80,163.58 L241.90,163.62 L242.00,163.65 L242.10,163.68 L242.20,163.70 L242.30,163.72 L242.40,163.74 L242.50,163.76 L242.60,163.77 L242.70,163.79 L242.80,163.80 L242.90,163.81 L243.00,163.82 L243.10,163.83 L243.20,163.84 L243.30,163.84 L243.40,163.85 L243.50,163.86 L243.60,163.87 L243.70,163.87 L243.80,163.88 L243.90,163.89 L244.00,163.89 L244.10,163.90 L244.20,163.91 L244.30,163.91 L244.40,163.92 L244.50,163.92 L244.60,163.93 L244.70,163.94 L244.80,163.94 L244.90,163.95 L245.00,163.95 L245.10,163.96 L245.20,163.96 L245.30,163.97 L245.40,163.97 L245.50,163.98 L245.60,163.98 L245.70,163.99 L245.80,163.99 L245.90,164.00 L246.00,164.00 L246.10,164.01 L246.20,164.01 L246.30,164.02 L246.40,164.02 L246.50,164.03 L246.60,164.03 L246.70,164.04 L246.80,164.04 L246.90,164.04 L247.00,164.05 L247.10,164.05 L247.20,164.06 L247.30,164.06 L247.40,164.07 L247.50,164.07 L247.60,164.07 L247.70,164.08 L247.80,164.08 L247.90,164.09 L248.00,164.09 L248.10,164.09 L248.20,164.10 L248.30,164.10 L248.40,164.10 L248.50,164.11 L248.60,164.11 L248.70,164.12 L248.80,164.12 L248.90,164.12 L249.00,164.13 L249.10,164.13 L249.20,164.13 L249.30,164.14 L249.40,164.14 L249.50,164.14 L249.60,164.15 L249.70,164.15 L249.80,164.15 L249.90,164.16 L250.00,164.16 L250.10,164.16 L250.20,164.17 L250.30,164.17 L250.40,164.17 L250.50,164.17 L250.60,164.18 L250.70,164.18 L250.80,164.18 L250.90,164.19 L251.00,164.19 L251.10,164.19 L251.20,164.20 L251.30,164.20 L251.40,164.20 L251.50,164.20 L251.60,164.21 L251.70,164.21 L251.80,164.21 L251.90,164.21 L252.00,164.22 L252.10,164.22 L252.20,164.22 L252.30,164.23 L252.40,164.23 L252.50,164.23 L252.60,164.23 L252.70,164.24 L252.80,164.24 L252.90,164.24 L253.00,164.24 L253.10,164.25 L253.20,164.25 L253.30,164.25 L253.40,164.25 L253.50,164.26 L253.60,164.26 L253.70,164.26 L253.80,164.26 L253.90,164.26 L254.00,164.27 L254.10,164.27 L254.20,164.27 L254.30,164.27 L254.40,164.28 L254.50,164.28 L254.60,164.28 L254.70,164.28 L254.80,164.29 L254.90,164.29 L255.00,164.29 L255.10,164.29 L255.20,164.29 L255.30,164.30 L255.40,164.30 L255.50,164.30 L255.60,164.30 L255.70,164.30 L255.80,164.31 L255.90,164.31 L256.00,164.31 L256.10,164.31 L256.20,164.32 L256.30,164.32 L256.40,164.32 L256.50,164.32 L256.60,164.32 L256.70,164.33 L256.80,164.33 L256.90,164.33 L257.00,164.33 L257.10,164.33 L257.20,164.34 L257.30,164.34 L257.40,164.34 L257.50,164.34 L257.60,164.34 L257.70,164.34 L257.80,164.35 L257.90,164.35 L258.00,164.35 L258.10,164.35 L258.20,164.35 L258.30,164.36 L258.40,164.36 L258.50,164.36 L258.60,164.36 L258.70,164.36 L258.80,164.37 L258.90,164.37 L259.00,164.37 L259.10,164.37 L259.20,164.37 L259.30,164.37 L259.40,164.38 L259.50,164.38 L259.60,164.38 L259.70,164.38 L259.80,164.38 L259.90,164.38 L260.00,164.39 L260.10,164.39 L260.20,164.39 L260.30,164.39 L260.40,164.39 L260.50,164.40 L260.60,164.40 L260.70,164.40 L260.80,164.40 L260.90,164.40 L261.00,164.40 L261.10,164.41 L261.20,164.41 L261.30,164.41 L261.40,164.41 L261.50,164.41 L261.60,164.41 L261.70,164.42 L261.80,164.42 L261.90,164.42 L262.00,164.42 L262.10,164.42 L262.20,164.42 L262.30,164.42 L262.40,164.43 L262.50,164.43 L262.60,164.43 L262.70,164.43 L262.80,164.43 L262.90,164.43 L263.00,164.44 L263.10,164.44 L263.20,164.44 L263.30,164.44 L263.40,164.44 L263.50,164.44 L263.60,164.44 L263.70,164.45 L263.80,164.45 L263.90,164.45 L264.00,164.45 L264.10,164.45 L264.20,164.45 L264.30,164.46 L264.40,164.46 L264.50,164.46 L264.60,164.46 L264.70,164.46 L264.80,164.46 L264.90,164.46 L265.00,164.47 L265.10,164.47 L265.20,164.47 L265.30,164.47 L265.40,164.47 L265.50,164.47 L265.60,164.47 L265.70,164.48 L265.80,164.48 L265.90,164.48 L266.00,164.48 L266.10,164.48 L266.20,164.48 L266.30,164.48 L266.40,164.49 L266.50,164.49 L266.60,164.49 L266.70,164.49 L266.80,164.49 L266.90,164.49 L267.00,164.49 L267.10,164.50 L267.20,164.50 L267.30,164.50 L267.40,164.50 L267.50,164.50 L267.60,164.50 L267.70,164.50 L267.80,164.51 L267.90,164.51 L268.00,164.51 L268.10,164.51 L268.20,164.51 L268.30,164.51 L268.40,164.51 L268.50,164.51 L268.60,164.52 L268.70,164.52 L268.80,164.52 L268.90,164.52 L269.00,164.52 L269.10,164.52 L269.20,164.52 L269.30,164.53 L269.40,164.53 L269.50,164.53 L269.60,164.53 L269.70,164.53 L269.80,164.53 L269.90,164.53 L270.00,164.53 L270.10,164.54 L270.20,164.54 L270.30,164.54 L270.40,164.54 L270.50,164.54 L270.60,164.54 L270.70,164.54 L270.80,164.54 L270.90,164.55 L271.00,164.55 L271.10,164.55 L271.20,164.55 L271.30,164.55 L271.40,164.55 L271.50,164.55 L271.60,164.55 L271.70,164.56 L271.80,164.56 L271.90,164.56 L272.00,164.56 L272.10,164.56 L272.20,164.56 L272.30,164.56 L272.40,164.56 L272.50,164.57 L272.60,164.57 L272.70,164.57 L272.80,164.57 L272.90,164.57 L273.00,164.57 L273.10,164.57 L273.20,164.57 L273.30,164.57 L273.40,164.58 L273.50,164.58 L273.60,164.58 L273.70,164.58 L273.80,164.58 L273.90,164.58 L274.00,164.58 L274.10,164.58 L274.20,164.59 L274.30,164.59 L274.40,164.59 L274.50,164.59 L274.60,164.59 L274.70,164.59 L274.80,164.59 L274.90,164.59 L275.00,164.59 L275.10,164.60 L275.20,164.60 L275.30,164.60 L275.40,164.60 L275.50,164.60 L275.60,164.60 L275.70,164.60 L275.80,164.60 L275.90,164.60 L276.00,164.61 L276.10,164.61 L276.20,164.61 L276.30,164.61 L276.40,164.61 L276.50,164.61 L276.60,164.61 L276.70,164.61 L276.80,164.61 L276.90,164.62 L277.00,164.62 L277.10,164.62 L277.20,164.62 L277.30,164.62 L277.40,164.62 L277.50,164.62 L277.60,164.62 L277.70,164.62 L277.80,164.62 L277.90,164.63 L278.00,164.63 L278.10,164.63 L278.20,164.63 L278.30,164.63 L278.40,164.63 L278.50,164.63 L278.60,164.63 L278.70,164.63 L278.80,164.64 L278.90,164.64 L279.00,164.64 L279.10,164.64 L279.20,164.64 L279.30,164.64 L279.40,164.64 L279.50,164.64 L279.60,164.64 L279.70,164.64 L279.80,164.65 L279.90,164.65 L280.00,164.65 L280.10,164.65 L280.20,164.65 L280.30,164.65 L280.40,164.65 L280.50,164.65 L280.60,164.65 L280.70,164.65 L280.80,164.66 L280.90,164.66 L281.00,164.66 L281.10,164.66 L281.20,164.66 L281.30,164.66 L281.40,164.66 L281.50,164.66 L281.60,164.66 L281.70,164.66 L281.80,164.67 L281.90,164.67 L282.00,164.67 L282.10,164.67 L282.20,164.67 L282.30,164.67 L282.40,164.67 L282.50,164.67 L282.60,164.67 L282.70,164.67 L282.80,164.67 L282.90,164.68 L283.00,164.68 L283.10,164.68 L283.20,164.68 L283.30,164.68 L283.40,164.68 L283.50,164.68 L283.60,164.68 L283.70,164.68 L283.80,164.68 L283.90,164.69 L284.00,164.69 L284.10,164.69 L284.20,164.69 L284.30,164.69 L284.40,164.69 L284.50,164.69 L284.60,164.69 L284.70,164.69 L284.80,164.69 L284.90,164.69 L285.00,164.70 L285.10,164.70 L285.20,164.70 L285.30,164.70 L285.40,164.70 L285.50,164.70 L285.60,164.70 L285.70,164.70 L285.80,164.70 L285.90,164.70 L286.00,164.70 L286.10,164.71 L286.20,164.71 L286.30,164.71 L286.40,164.71 L286.50,164.71 L286.60,164.71 L286.70,164.71 L286.80,164.71 L286.90,164.71 L287.00,164.71 L287.10,164.71 L287.20,164.71 L287.30,164.72 L287.40,164.72 L287.50,164.72 L287.60,164.72 L287.70,164.72 L287.80,164.72 L287.90,164.72 L288.00,164.72 L288.10,164.72 L288.20,164.72 L288.30,164.72 L288.40,164.72 L288.50,164.73 L288.60,164.73 L288.70,164.73 L288.80,164.73 L288.90,164.73 L289.00,164.73 L289.10,164.73 L289.20,164.73 L289.30,164.73 L289.40,164.73 L289.50,164.73 L289.60,164.73 L289.70,164.74 L289.80,164.74 L289.90,164.74 L290.00,164.74 L290.10,164.74 L290.20,164.74 L290.30,164.74 L290.40,164.74 L290.50,164.74 L290.60,164.74 L290.70,164.74 L290.80,164.74 L290.90,164.75 L291.00,164.75 L291.10,164.75 L291.20,164.75 L291.30,164.75 L291.40,164.75 L291.50,164.75 L291.60,164.75 L291.70,164.75 L291.80,164.75 L291.90,164.75 L292.00,164.75 L292.10,164.75 L292.20,164.76 L292.30,164.76 L292.40,164.76 L292.50,164.76 L292.60,164.76 L292.70,164.76 L292.80,164.76 L292.90,164.76 L293.00,164.76 L293.10,164.76 L293.20,164.76 L293.30,164.76 L293.40,164.76 L293.50,164.76 L293.60,164.77 L293.70,164.77 L293.80,164.77 L293.90,164.77 L294.00,164.77 L294.10,164.77 L294.20,164.77 L294.30,164.77 L294.40,164.77 L294.50,164.77 L294.60,164.77 L294.70,164.77 L294.80,164.77 L294.90,164.78 L295.00,164.78 L295.10,164.78 L295.20,164.78 L295.30,164.78 L295.40,164.78 L295.50,164.78 L295.60,164.78 L295.70,164.78 L295.80,164.78 L295.90,164.78 L296.00,164.78 L296.10,164.78 L296.20,164.78 L296.30,164.79 L296.40,164.79 L296.50,164.79 L296.60,164.79 L296.70,164.79 L296.80,164.79 L296.90,164.79 L297.00,164.79 L297.10,164.79 L297.20,164.79 L297.30,164.79 L297.40,164.79 L297.50,164.79 L297.60,164.79 L297.70,164.79 L297.80,164.80 L297.90,164.80 L298.00,164.80 L298.10,164.80 L298.20,164.80 L298.30,164.80 L298.40,164.80 L298.50,164.80 L298.60,164.80 L298.70,164.80 L298.80,164.80 L298.90,164.80 L299.00,164.80 L299.10,164.80 L299.20,164.80 L299.30,164.81 L299.40,164.81 L299.50,164.81 L299.60,164.81 L299.70,164.81 L299.80,164.81 L299.90,164.81 L300.00,164.81 L300.10,164.81 L300.20,164.81 L300.30,164.81 L300.40,164.81 L300.50,164.81 L300.60,164.81 L300.70,164.81 L300.80,164.82 L300.90,164.82 L301.00,164.82 L301.10,164.82 L301.20,164.82 L301.30,164.82 L301.40,164.82 L301.50,164.82 L301.60,164.82 L301.70,164.82 L301.80,164.82 L301.90,164.82 L302.00,164.82 L302.10,164.82 L302.20,164.82 L302.30,164.82 L302.40,164.83 L302.50,164.83 L302.60,164.83 L302.70,164.83 L302.80,164.83 L302.90,164.83 L303.00,164.83 L303.10,164.83 L303.20,164.83 L303.30,164.83 L303.40,164.83 L303.50,164.83 L303.60,164.83 L303.70,164.83 L303.80,164.83 L303.90,164.83 L304.00,164.83 L304.10,164.84 L304.20,164.84 L304.30,164.84 L304.40,164.84 L304.50,164.84 L304.60,164.84 L304.70,164.84 L304.80,164.84 L304.90,164.84 L305.00,164.84 L305.10,164.84 L305.20,164.84 L305.30,164.84 L305.40,164.84 L305.50,164.84 L305.60,164.84 L305.70,164.84 L305.80,164.85 L305.90,164.85 L306.00,164.85 L306.10,164.85 L306.20,164.85 L306.30,164.85 L306.40,164.85 L306.50,164.85 L306.60,164.85 L306.70,164.85 L306.80,164.85 L306.90,164.85 L307.00,164.85 L307.10,164.85 L307.20,164.85 L307.30,164.85 L307.40,164.85 L307.50,164.85 L307.60,164.86 L307.70,164.86 L307.80,164.86 L307.90,164.86 L308.00,164.86 L308.10,164.86 L308.20,164.86 L308.30,164.86 L308.40,164.86 L308.50,164.86 L308.60,164.86 L308.70,164.86 L308.80,164.86 L308.90,164.86 L309.00,164.86 L309.10,164.86 L309.20,164.86 L309.30,164.86 L309.40,164.86 L309.50,164.87 L309.60,164.87 L309.70,164.87 L309.80,164.87 L309.90,164.87 L310.00,164.87 L310.10,164.87 L310.20,164.87 L310.30,164.87 L310.40,164.87 L310.50,164.87 L310.60,164.87 L310.70,164.87 L310.80,164.87 L310.90,164.87 L311.00,164.87 L311.10,164.87 L311.20,164.87 L311.30,164.87 L311.40,164.87 L311.50,164.88 L311.60,164.88 L311.70,164.88 L311.80,164.88 L311.90,164.88 L312.00,164.88 L312.10,164.88 L312.20,164.88 L312.30,164.88 L312.40,164.88 L312.50,164.88 L312.60,164.88 L312.70,164.88 L312.80,164.88 L312.90,164.88 L313.00,164.88 L313.10,164.88 L313.20,164.88 L313.30,164.88 L313.40,164.88 L313.50,164.89 L313.60,164.89 L313.70,164.89 L313.80,164.89 L313.90,164.89 L314.00,164.89 L314.10,164.89 L314.20,164.89 L314.30,164.89 L314.40,164.89 L314.50,164.89 L314.60,164.89 L314.70,164.89 L314.80,164.89 L314.90,164.89 L315.00,164.89 L315.10,164.89 L315.20,164.89 L315.30,164.89 L315.40,164.89 L315.50,164.89 L315.60,164.89 L315.70,164.90 L315.80,164.90 L315.90,164.90 L316.00,164.90 L316.10,164.90 L316.20,164.90 L316.30,164.90 L316.40,164.90 L316.50,164.90 L316.60,164.90 L316.70,164.90 L316.80,164.90 L316.90,164.90 L317.00,164.90 L317.10,164.90 L317.20,164.90 L317.30,164.90 L317.40,164.90 L317.50,164.90 L317.60,164.90 L317.70,164.90 L317.80,164.90 L317.90,164.91 L318.00,164.91 L318.10,164.91 L318.20,164.91 L318.30,164.91 L318.40,164.91 L318.50,164.91 L318.60,164.91 L318.70,164.91 L318.80,164.91 L318.90,164.91 L319.00,164.91 L319.10,164.91 L319.20,164.91 L319.30,164.91 L319.40,164.91 L319.50,164.91 L319.60,164.91 L319.70,164.91 L319.80,164.91 L319.90,164.91 L320.00,165.10 L320.10,165.10 L320.20,165.10 L320.30,165.10 L320.40,165.10 L320.50,165.10 L320.60,165.10 L320.70,165.10 L320.80,165.10 L320.90,165.10 L321.00,165.10 L321.10,165.10 L321.20,165.10 L321.30,165.10 L321.40,165.10 L321.50,165.10 L321.60,165.10 L321.70,165.10 L321.80,165.10 L321.90,165.10 L322.00,165.10 L322.10,165.10 L322.20,165.10 L322.30,165.10 L322.40,165.10 L322.50,165.10 L322.60,165.10 L322.70,165.10 L322.80,165.10 L322.90,165.10 L323.00,165.10 L323.10,165.10 L323.20,165.10 L323.30,165.10 L323.40,165.10 L323.50,165.10 L323.60,165.10 L323.70,165.10 L323.80,165.10 L323.90,165.10 L324.00,165.10 L324.10,165.10 L324.20,165.10 L324.30,165.10 L324.40,165.10 L324.50,165.10 L324.60,165.10 L324.70,165.10 L324.80,165.10 L324.90,165.10 L325.00,165.10 L325.10,165.10 L325.20,165.10 L325.30,165.10 L325.40,165.10 L325.50,165.10 L325.60,165.10 L325.70,165.10 L325.80,165.10 L325.90,165.10 L326.00,165.10 L326.10,165.10 L326.20,165.10 L326.30,165.10 L326.40,165.10 L326.50,165.10 L326.60,165.10 L326.70,165.10 L326.80,165.10 L326.90,165.10 L327.00,165.10" fill="none" stroke="#a4a4a4" stroke-width="0.7"/>
<line x1="227.45" y1="3.50" x2="227.45" y2="150.00" stroke="#a6a6a6" stroke-width="0.6"/>
<text x="0" y="0" transform="translate(230.30,7.20) scale(0.20000,0.25)" font-family="'Liberation Serif', serif" font-size="22" font-weight="normal" fill="#555" text-anchor="start" >5</text>
<text x="0" y="0" transform="translate(186.20,165.60) scale(0.10500,0.25)" font-family="'Liberation Serif', serif" font-size="30" font-weight="normal" fill="#8a8a8a" text-anchor="start" >5.677</text>
<line x1="186.50" y1="158.40" x2="189.30" y2="158.40" stroke="#666" stroke-width="0.9"/>
<line x1="189.30" y1="159.60" x2="194.30" y2="159.60" stroke="#777" stroke-width="0.9"/>
<text x="0" y="0" transform="translate(201.20,165.40) scale(0.11250,0.25)" font-family="'Liberation Serif', serif" font-size="26" font-weight="normal" fill="#8a8a8a" text-anchor="start" >5.96</text>
<text x="0" y="0" transform="translate(217.70,160.40) scale(0.20000,0.25)" font-family="'Liberation Serif', serif" font-size="18" font-weight="normal" fill="#777" text-anchor="start" >9</text>
<text x="0" y="0" transform="translate(231.10,163.00) rotate(-90) scale(1,1.3)" font-family="'Liberation Serif', serif" font-size="4.4" fill="#808080">9.370</text>
<text x="0" y="0" transform="translate(237.20,162.60) rotate(-90) scale(1,1.3)" font-family="'Liberation Serif', serif" font-size="4.4" fill="#8a8a8a">9.712</text>
<text x="0" y="0" transform="translate(239.60,163.00) rotate(-90) scale(1,1.0)" font-family="'Liberation Serif', serif" font-size="4.4" fill="#999">9.80</text>
<rect x="231.7" y="53.6" width="2.2" height="1.2" fill="#777"/>
<rect x="231.7" y="57.3" width="2.2" height="1.3" fill="#888"/>
<text x="0" y="0" transform="translate(134.17,28.50) scale(0.20375,0.25)" font-family="'Liberation Serif', serif" font-size="44" font-weight="normal" fill="#111" text-anchor="start" stroke="#222" stroke-width="1.2">10-epi-γ-eudesmol</text>
<polyline points="225.00,13.20 215.00,13.20 215.00,24.70 207.50,24.70" fill="none" stroke="#111" stroke-width="1.4" />
<polygon points="204.50,24.70 208.92,21.81 208.92,27.59" fill="#111"/>
<text x="0" y="0" transform="translate(250.05,90.40) scale(0.21225,0.25)" font-family="'Liberation Serif', serif" font-size="44" font-weight="normal" fill="#111" text-anchor="start" stroke="#222" stroke-width="1.2">β-eudesmol</text>
<polyline points="258.70,91.70 259.70,92.70 260.70,91.70 261.70,92.70 262.70,91.70 263.70,92.70 264.70,91.70 265.70,92.70 266.70,91.70 267.70,92.70 268.70,91.70 269.70,92.70 270.70,91.70 271.70,92.70 272.70,91.70 273.70,92.70 274.70,91.70 275.70,92.70 276.70,91.70 277.70,92.70 278.70,91.70 279.70,92.70 280.70,91.70 281.70,92.70 282.70,91.70 283.70,92.70 284.70,91.70 285.70,92.70 286.70,91.70 287.70,92.70 288.70,91.70 289.70,92.70 290.70,91.70 291.70,92.70 292.70,91.70 293.70,92.70" fill="none" stroke="#7a7a7a" stroke-width="0.95" />
<polyline points="234.90,74.20 241.90,74.20 241.90,88.70 245.50,88.70" fill="none" stroke="#111" stroke-width="1.4" />
<polygon points="248.20,88.70 243.78,85.81 243.78,91.59" fill="#111"/>
</g>
<g id="B">
<line x1="345.80" y1="2.00" x2="666.60" y2="2.00" stroke="#9a9a9a" stroke-width="1.8"/>
<line x1="345.80" y1="2.00" x2="345.80" y2="167.00" stroke="#ababab" stroke-width="1.0"/>
<line x1="666.60" y1="2.00" x2="666.60" y2="167.00" stroke="#ababab" stroke-width="1.0"/>
<line x1="345.50" y1="166.80" x2="667.00" y2="166.80" stroke="#7a7a7a" stroke-width="1.5"/>
<line x1="345.80" y1="167.40" x2="345.80" y2="169.60" stroke="#a8a8a8" stroke-width="0.7"/>
<line x1="364.67" y1="167.40" x2="364.67" y2="169.60" stroke="#a8a8a8" stroke-width="0.7"/>
<line x1="383.54" y1="167.40" x2="383.54" y2="169.60" stroke="#a8a8a8" stroke-width="0.7"/>
<line x1="402.41" y1="167.40" x2="402.41" y2="169.60" stroke="#a8a8a8" stroke-width="0.7"/>
<line x1="421.28" y1="167.40" x2="421.28" y2="169.60" stroke="#a8a8a8" stroke-width="0.7"/>
<line x1="440.15" y1="167.40" x2="440.15" y2="169.60" stroke="#a8a8a8" stroke-width="0.7"/>
<line x1="459.02" y1="167.40" x2="459.02" y2="169.60" stroke="#a8a8a8" stroke-width="0.7"/>
<line x1="477.89" y1="167.40" x2="477.89" y2="169.60" stroke="#a8a8a8" stroke-width="0.7"/>
<line x1="496.76" y1="167.40" x2="496.76" y2="170.30" stroke="#a8a8a8" stroke-width="0.7"/>
<line x1="515.63" y1="167.40" x2="515.63" y2="169.60" stroke="#a8a8a8" stroke-width="0.7"/>
<line x1="534.50" y1="167.40" x2="534.50" y2="169.60" stroke="#a8a8a8" stroke-width="0.7"/>
<line x1="553.37" y1="167.40" x2="553.37" y2="169.60" stroke="#a8a8a8" stroke-width="0.7"/>
<line x1="572.24" y1="167.40" x2="572.24" y2="169.60" stroke="#a8a8a8" stroke-width="0.7"/>
<line x1="591.11" y1="167.40" x2="591.11" y2="169.60" stroke="#a8a8a8" stroke-width="0.7"/>
<line x1="609.98" y1="167.40" x2="609.98" y2="169.60" stroke="#a8a8a8" stroke-width="0.7"/>
<line x1="628.85" y1="167.40" x2="628.85" y2="169.60" stroke="#a8a8a8" stroke-width="0.7"/>
<line x1="647.72" y1="167.40" x2="647.72" y2="169.60" stroke="#a8a8a8" stroke-width="0.7"/>
<line x1="666.59" y1="167.40" x2="666.59" y2="170.30" stroke="#a8a8a8" stroke-width="0.7"/>
<text x="0" y="0" transform="translate(345.80,11.80) scale(0.12000,0.25)" font-family="'Liberation Serif', serif" font-size="42" font-weight="normal" fill="#444" text-anchor="start" >500,000</text>
<text x="0" y="0" transform="translate(368.00,39.70) scale(0.17000,0.25)" font-family="'Liberation Serif', serif" font-size="70" font-weight="bold" fill="#111" text-anchor="start" stroke="#111" stroke-width="3">B</text>
<text x="0" y="0" transform="translate(491.90,181.00) scale(0.15000,0.25)" font-family="'Liberation Serif', serif" font-size="38" font-weight="normal" fill="#555" text-anchor="start" >10.0</text>
<text x="0" y="0" transform="translate(661.70,181.20) scale(0.15500,0.25)" font-family="'Liberation Serif', serif" font-size="38" font-weight="normal" fill="#555" text-anchor="start" >19</text>
<rect x="659.3" y="186.8" width="7.4" height="4.8" fill="#9a9a9a"/>
<line x1="663.20" y1="184.00" x2="663.20" y2="186.80" stroke="#c4c4c4" stroke-width="0.7"/>
<line x1="660.60" y1="187.40" x2="660.60" y2="191.20" stroke="#c8c8c8" stroke-width="0.5"/>
<line x1="663.10" y1="187.40" x2="663.10" y2="191.20" stroke="#c8c8c8" stroke-width="0.5"/>
<path d="M346.00,147.16 L346.50,147.51 L347.00,147.43 L347.50,147.72 L348.00,147.81 L348.50,147.38 L349.00,147.41 L349.50,148.23 L350.00,147.78 L350.50,147.84 L351.00,148.60 L351.50,148.20 L352.00,148.60 L352.50,148.35 L353.00,148.58 L353.50,148.21 L354.00,148.72 L354.50,149.01 L355.00,148.77 L355.50,149.04 L356.00,149.05 L356.50,148.58 L357.00,149.28 L357.50,149.21 L358.00,149.02 L358.50,148.85 L359.00,149.68 L359.50,149.40 L360.00,149.70 L360.50,149.90 L361.00,149.80 L361.50,150.04 L362.00,149.62 L362.50,150.04 L363.00,149.78 L363.50,150.27 L364.00,150.27 L364.50,149.63 L365.00,149.71 L365.50,149.84 L366.00,150.57 L366.50,150.15 L367.00,150.37 L367.50,150.13 L368.00,150.37 L368.50,150.32 L369.00,150.34 L369.50,150.61 L370.00,150.66 L370.50,151.00 L371.00,150.86 L371.50,151.13 L372.00,151.12 L372.50,151.23 L373.00,150.92 L373.50,150.45 L374.00,151.06 L374.50,151.13 L375.00,151.06 L375.50,150.75 L376.00,150.86 L376.50,150.39 L377.00,150.93 L377.50,150.68 L378.00,150.41 L378.50,150.19 L379.00,150.89 L379.50,150.99 L380.00,150.16 L380.50,150.79 L381.00,150.42 L381.50,150.17 L382.00,150.28 L382.50,150.69 L383.00,150.77 L383.50,150.01 L384.00,150.50 L384.50,149.97 L385.00,150.56 L385.50,150.20 L386.00,150.68 L386.50,150.75 L387.00,150.30 L387.50,150.73 L388.00,150.10 L388.50,149.87 L389.00,150.32 L389.50,149.79 L390.00,149.93 L390.50,150.09 L391.00,150.25 L391.50,149.82 L392.00,149.70 L392.50,150.42 L393.00,149.90 L393.50,150.46 L394.00,150.38 L394.50,149.89 L395.00,149.94 L395.50,149.97 L396.00,150.06 L396.50,150.00 L397.00,149.94 L397.50,149.97 L398.00,150.24 L398.50,149.83 L399.00,149.74 L399.50,149.98 L400.00,149.52 L400.50,149.55 L401.00,150.14 L401.50,149.71 L402.00,149.71 L402.50,149.20 L403.00,149.55 L403.50,149.67 L404.00,149.15 L404.50,149.66 L405.00,149.65 L405.50,149.12 L406.00,149.60 L406.50,149.44 L407.00,149.61 L407.50,149.29 L408.00,149.59 L408.50,149.65 L409.00,149.03 L409.50,149.10 L410.00,149.69 L410.50,149.98 L411.00,149.37 L411.50,149.59 L412.00,149.74 L412.50,149.53 L413.00,149.60 L413.50,149.59 L414.00,149.67 L414.50,149.91 L415.00,149.67 L415.50,149.77 L416.00,150.16 L416.50,149.52 L417.00,150.04 L417.50,150.23 L418.00,149.88 L418.50,149.83 L419.00,150.39 L419.50,149.91 L420.00,149.90 L420.50,150.15 L421.00,150.42 L421.50,149.92 L422.00,150.15 L422.50,150.19 L423.00,150.67 L423.50,150.35 L424.00,150.76 L424.50,150.17 L425.00,150.35 L425.50,150.68 L426.00,150.93 L426.50,150.59 L427.00,150.43 L427.50,150.38 L428.00,150.79 L428.50,150.53 L429.00,151.12 L429.50,151.19 L430.00,150.65 L430.50,150.78 L431.00,151.30 L431.50,151.19 L432.00,151.38 L432.50,151.01 L433.00,150.86 L433.50,151.05 L434.00,151.54 L434.50,151.12 L435.00,151.23 L435.50,151.34 L436.00,151.38 L436.50,151.42 L437.00,151.92 L437.50,151.27 L438.00,151.18 L438.50,152.07 L439.00,152.06 L439.50,152.19 L440.00,151.74 L440.50,152.24 L441.00,152.25 L441.50,151.65 L442.00,152.15 L442.50,152.27 L443.00,152.15 L443.50,152.05 L444.00,151.88 L444.50,151.96 L445.00,151.89 L445.50,151.78 L446.00,152.28 L446.50,152.04 L447.00,152.55 L447.50,151.89 L448.00,152.70 L448.50,152.54 L449.00,152.78 L449.50,152.79 L450.00,152.83 L450.50,152.57 L451.00,152.10 L451.50,152.79 L452.00,152.30 L452.50,152.45 L453.00,152.81 L453.50,152.72 L454.00,152.66 L454.50,153.16 L455.00,152.90 L455.50,152.69 L456.00,152.64 L456.50,153.23 L457.00,152.91 L457.50,153.22 L458.00,152.87 L458.50,152.76 L459.00,153.10 L459.50,153.39 L460.00,152.84 L460.50,153.43 L461.00,153.58 L461.50,153.51 L462.00,153.56 L462.50,152.86 L463.00,153.45 L463.50,153.69 L464.00,152.99 L464.50,153.23 L465.00,153.26 L465.50,153.52 L466.00,153.46 L466.50,153.54 L467.00,153.85 L467.50,153.18 L468.00,153.27 L468.50,153.36 L469.00,153.40 L469.50,153.38 L470.00,154.23 L470.50,154.13 L471.00,153.45 L471.50,153.83 L472.00,153.67 L472.50,153.68 L473.00,153.73 L473.50,154.00 L474.00,153.96 L474.50,153.76 L475.00,153.62 L475.50,153.76 L476.00,153.58 L476.50,153.98 L477.00,154.13 L477.50,153.84 L478.00,153.58 L478.50,153.68 L479.00,153.87 L479.50,154.08 L480.00,154.25 L480.50,153.90 L481.00,154.29 L481.50,154.14 L482.00,153.98 L482.50,153.94 L483.00,154.06 L483.50,154.25 L484.00,154.01 L484.50,154.26 L485.00,154.06 L485.50,153.86 L486.00,154.12 L486.50,154.26 L487.00,153.69 L487.50,154.00 L488.00,153.99 L488.50,154.40 L489.00,154.44 L489.50,153.93 L490.00,154.39 L490.50,154.29 L491.00,153.81 L491.50,153.98 L492.00,153.67 L492.50,154.28 L493.00,154.14 L493.50,154.34 L494.00,154.24 L494.50,154.12 L495.00,154.18 L495.50,154.02 L496.00,153.60 L496.50,154.03 L497.00,153.49 L497.50,153.61 L498.00,154.17 L498.50,153.51 L499.00,153.55 L499.50,153.55 L500.00,154.24 L500.50,153.59 L501.00,153.44 L501.50,154.16 L502.00,153.49 L502.50,154.13 L503.00,153.96 L503.50,154.09 L504.00,154.17 L504.50,153.82 L505.00,154.00 L505.50,153.30 L506.00,153.94 L506.50,153.69 L507.00,153.86 L507.50,153.30 L508.00,153.86 L508.50,154.01 L509.00,153.21 L509.50,153.43 L510.00,153.62 L510.50,153.85 L511.00,153.30 L511.50,153.23 L512.00,153.27 L512.50,153.59 L513.00,153.69 L513.50,153.35 L514.00,153.31 L514.50,153.32 L515.00,153.27 L515.50,153.30 L516.00,152.97 L516.50,153.32 L517.00,153.72 L517.50,153.19 L518.00,153.46 L518.50,152.91 L519.00,153.36 L519.50,153.39 L520.00,153.29 L520.50,153.12 L521.00,153.07 L521.50,153.18 L522.00,153.38 L522.50,152.68 L523.00,152.61 L523.50,153.17 L524.00,153.29 L524.50,152.91 L525.00,152.82 L525.50,153.04 L526.00,152.53 L526.50,152.58 L527.00,152.49 L527.50,152.81 L528.00,152.54 L528.50,152.44 L529.00,152.83 L529.50,153.03 L530.00,152.42 L530.50,152.43 L531.00,151.82 L531.50,152.20 L532.00,151.93 L532.50,151.63 L533.00,151.56 L533.50,151.36 L534.00,151.75 L534.50,151.64 L535.00,151.43 L535.50,151.58 L536.00,151.53 L536.50,151.91 L537.00,151.32 L537.50,152.06 L538.00,151.58 L538.50,151.67 L539.00,151.53 L539.50,151.84 L540.00,151.80 L540.50,151.54 L541.00,151.45 L541.50,151.65 L542.00,151.75 L542.50,151.32 L543.00,151.60 L543.50,151.78 L544.00,151.31 L544.50,151.08 L545.00,151.06 L545.50,151.49 L546.00,151.44 L546.50,151.68 L547.00,151.58 L547.50,151.02 L548.00,150.96 L548.50,151.01 L549.00,150.94 L549.50,151.39 L550.00,151.52 L550.50,150.88 L551.00,149.62 L551.50,149.69 L552.00,149.51 L552.50,149.92 L553.00,150.51 L553.50,149.98 L554.00,150.03 L554.50,150.75 L555.00,150.31 L555.50,150.42 L556.00,150.67 L556.50,150.73 L557.00,150.11 L557.50,150.38 L558.00,150.44 L558.50,150.46 L559.00,150.19 L559.50,150.50 L560.00,150.40 L561.50,150.20 L562.00,148.00 L562.35,146.30 L562.70,147.90 L563.40,148.80 L566.00,148.90 L569.00,148.80 L570.00,148.30" fill="none" stroke="#707070" stroke-width="1.05"/>
<path d="M570.00,148.30 L570.60,140.00 L571.10,115.00 L571.60,101.50 L572.10,112.00 L572.70,125.00 L573.50,133.00 L574.50,137.50 L575.60,139.00 L576.30,130.00 L576.80,118.00 L577.30,112.50 L577.90,118.00 L578.60,126.00 L579.50,129.70 L580.50,133.50" fill="none" stroke="#9a9a9a" stroke-width="0.85"/>
<path d="M580.50,133.50 L581.70,136.90 L583.50,139.80 L586.00,142.30 L590.00,144.90 L595.00,147.00 L600.00,148.50 L605.00,149.30 L610.00,149.90 L610.50,150.34 L611.00,149.87 L611.50,150.04 L612.00,149.70 L612.50,149.87 L613.00,150.26 L613.50,149.80 L614.00,150.53 L614.50,150.58 L615.00,149.89 L615.50,150.68 L616.00,150.21 L616.50,150.60 L617.00,150.62 L617.50,150.24 L618.00,150.62 L618.50,150.63 L619.00,150.81 L619.50,150.35 L620.00,150.83 L620.50,151.05 L621.00,150.82 L621.50,150.72 L622.00,150.37 L622.50,150.74 L623.00,150.65 L623.50,151.01 L624.00,151.00 L624.50,150.93 L625.00,150.61 L625.50,151.06 L626.00,151.08 L626.50,150.70 L627.00,151.37 L627.50,151.19 L628.00,150.74 L628.50,151.50 L629.00,150.82 L629.50,151.02 L630.00,151.40 L630.50,151.32 L631.00,151.31 L631.50,151.42 L632.00,151.28 L632.50,151.18 L633.00,151.09 L633.50,151.02 L634.00,151.63 L634.50,151.70 L635.00,151.54 L635.50,151.75 L636.00,151.43 L636.50,151.38 L637.00,151.52 L637.50,151.99 L638.00,151.27 L638.50,151.71 L639.00,151.51 L639.50,152.01 L640.00,151.67 L640.50,151.67 L641.00,151.75 L641.50,151.90 L642.00,152.12 L642.50,151.76 L643.00,152.23 L643.50,151.59 L644.00,151.75 L644.50,151.61 L645.00,151.64 L645.50,152.26 L646.00,152.24 L646.50,151.77 L647.00,151.79 L647.50,152.01 L648.00,152.33 L648.50,152.41 L649.00,152.37 L649.50,152.25 L650.00,151.87 L650.50,152.11 L651.00,151.95 L651.50,152.27 L652.00,152.32 L652.50,152.01 L653.00,152.08 L653.50,152.57 L654.00,151.92 L654.50,152.63 L655.00,152.73 L655.50,152.80 L656.00,152.31 L656.50,152.48 L657.00,152.53 L657.50,152.59 L658.00,152.92 L658.50,152.68 L659.00,152.35 L659.50,152.87 L660.00,152.55 L660.50,152.68 L661.00,152.81 L661.50,152.18 L662.00,152.89 L662.50,152.81 L663.00,152.68 L663.50,152.73 L664.00,152.69 L664.50,152.47 L665.00,152.79 L665.50,152.36 L666.00,152.80 L666.50,152.93" fill="none" stroke="#707070" stroke-width="1.05"/>
<text x="0" y="0" transform="translate(569.50,102.30) scale(0.22500,0.25)" font-family="'Liberation Serif', serif" font-size="20" font-weight="normal" fill="#888" text-anchor="start" >o</text>
<rect x="561.3" y="143.2" width="2.2" height="1.5" fill="#777"/>
<text x="0" y="0" transform="translate(575.50,112.30) scale(0.22500,0.25)" font-family="'Liberation Serif', serif" font-size="20" font-weight="normal" fill="#888" text-anchor="start" >o</text>
<text x="0" y="0" transform="translate(475.87,101.00) scale(0.20405,0.25)" font-family="'Liberation Serif', serif" font-size="44" font-weight="normal" fill="#111" text-anchor="start" stroke="#222" stroke-width="1.2">10-epi-γ-eudesmol</text>
<polyline points="569.00,116.00 559.70,116.00 559.70,99.20 553.00,99.20" fill="none" stroke="#111" stroke-width="1.4" />
<polygon points="550.20,99.20 554.62,96.31 554.62,102.09" fill="#111"/>
<text x="0" y="0" transform="translate(604.40,109.50) scale(0.20588,0.25)" font-family="'Liberation Serif', serif" font-size="44" font-weight="normal" fill="#111" text-anchor="start" stroke="#222" stroke-width="1.2">α-eudesmol</text>
<polyline points="612.70,110.70 613.70,111.70 614.70,110.70 615.70,111.70 616.70,110.70 617.70,111.70 618.70,110.70 619.70,111.70 620.70,110.70 621.70,111.70 622.70,110.70 623.70,111.70 624.70,110.70 625.70,111.70 626.70,110.70 627.70,111.70 628.70,110.70 629.70,111.70 630.70,110.70 631.70,111.70 632.70,110.70 633.70,111.70 634.70,110.70 635.70,111.70 636.70,110.70 637.70,111.70 638.70,110.70 639.70,111.70 640.70,110.70 641.70,111.70 642.70,110.70 643.70,111.70 644.70,110.70 645.70,111.70 646.70,110.70" fill="none" stroke="#7a7a7a" stroke-width="0.95" />
<polyline points="580.00,125.80 590.50,125.80 590.50,106.40 597.50,106.40" fill="none" stroke="#111" stroke-width="1.4" />
<polygon points="600.50,106.40 596.08,103.51 596.08,109.29" fill="#111"/>
</g>
<g id="C">
<rect x="3.7" y="209.3" width="325.5" height="203.0" fill="none" stroke="#9c9c9c" stroke-width="1.5"/>
<rect x="21.7" y="222.2" width="303.7" height="167.8" fill="none" stroke="#a8a8a8" stroke-width="1"/>
<text x="0" y="0" transform="translate(22.30,219.20) scale(0.15750,0.25)" font-family="'Liberation Sans', sans-serif" font-size="19.2" font-weight="bold" fill="#222" text-anchor="start" stroke="#222" stroke-width="0.6">Chr LCMS, Sample ID: K-4 (hexane)</text>
<text x="0" y="0" transform="translate(19.40,223.70) scale(0.13750,0.25)" font-family="'Liberation Sans', sans-serif" font-size="16.8" font-weight="bold" fill="#666" text-anchor="end" stroke="#666" stroke-width="0.5">2000</text>
<text x="0" y="0" transform="translate(19.40,265.70) scale(0.13750,0.25)" font-family="'Liberation Sans', sans-serif" font-size="16.8" font-weight="bold" fill="#666" text-anchor="end" stroke="#666" stroke-width="0.5">1500</text>
<text x="0" y="0" transform="translate(19.40,307.60) scale(0.13750,0.25)" font-family="'Liberation Sans', sans-serif" font-size="16.8" font-weight="bold" fill="#666" text-anchor="end" stroke="#666" stroke-width="0.5">1000</text>
<text x="0" y="0" transform="translate(19.40,349.50) scale(0.13750,0.25)" font-family="'Liberation Sans', sans-serif" font-size="16.8" font-weight="bold" fill="#666" text-anchor="end" stroke="#666" stroke-width="0.5">500</text>
<text x="0" y="0" transform="translate(19.40,391.50) scale(0.13750,0.25)" font-family="'Liberation Sans', sans-serif" font-size="16.8" font-weight="bold" fill="#666" text-anchor="end" stroke="#666" stroke-width="0.5">0</text>
<line x1="20.20" y1="390.00" x2="21.70" y2="390.00" stroke="#bbbbbb" stroke-width="0.6"/>
<line x1="20.20" y1="385.81" x2="21.70" y2="385.81" stroke="#bbbbbb" stroke-width="0.6"/>
<line x1="20.20" y1="381.61" x2="21.70" y2="381.61" stroke="#bbbbbb" stroke-width="0.6"/>
<line x1="20.20" y1="377.42" x2="21.70" y2="377.42" stroke="#bbbbbb" stroke-width="0.6"/>
<line x1="20.20" y1="373.22" x2="21.70" y2="373.22" stroke="#bbbbbb" stroke-width="0.6"/>
<line x1="20.20" y1="369.02" x2="21.70" y2="369.02" stroke="#bbbbbb" stroke-width="0.6"/>
<line x1="20.20" y1="364.83" x2="21.70" y2="364.83" stroke="#bbbbbb" stroke-width="0.6"/>
<line x1="20.20" y1="360.63" x2="21.70" y2="360.63" stroke="#bbbbbb" stroke-width="0.6"/>
<line x1="20.20" y1="356.44" x2="21.70" y2="356.44" stroke="#bbbbbb" stroke-width="0.6"/>
<line x1="20.20" y1="352.25" x2="21.70" y2="352.25" stroke="#bbbbbb" stroke-width="0.6"/>
<line x1="20.20" y1="348.05" x2="21.70" y2="348.05" stroke="#bbbbbb" stroke-width="0.6"/>
<line x1="20.20" y1="343.86" x2="21.70" y2="343.86" stroke="#bbbbbb" stroke-width="0.6"/>
<line x1="20.20" y1="339.66" x2="21.70" y2="339.66" stroke="#bbbbbb" stroke-width="0.6"/>
<line x1="20.20" y1="335.46" x2="21.70" y2="335.46" stroke="#bbbbbb" stroke-width="0.6"/>
<line x1="20.20" y1="331.27" x2="21.70" y2="331.27" stroke="#bbbbbb" stroke-width="0.6"/>
<line x1="20.20" y1="327.07" x2="21.70" y2="327.07" stroke="#bbbbbb" stroke-width="0.6"/>
<line x1="20.20" y1="322.88" x2="21.70" y2="322.88" stroke="#bbbbbb" stroke-width="0.6"/>
<line x1="20.20" y1="318.69" x2="21.70" y2="318.69" stroke="#bbbbbb" stroke-width="0.6"/>
<line x1="20.20" y1="314.49" x2="21.70" y2="314.49" stroke="#bbbbbb" stroke-width="0.6"/>
<line x1="20.20" y1="310.29" x2="21.70" y2="310.29" stroke="#bbbbbb" stroke-width="0.6"/>
<line x1="20.20" y1="306.10" x2="21.70" y2="306.10" stroke="#bbbbbb" stroke-width="0.6"/>
<line x1="20.20" y1="301.90" x2="21.70" y2="301.90" stroke="#bbbbbb" stroke-width="0.6"/>
<line x1="20.20" y1="297.71" x2="21.70" y2="297.71" stroke="#bbbbbb" stroke-width="0.6"/>
<line x1="20.20" y1="293.51" x2="21.70" y2="293.51" stroke="#bbbbbb" stroke-width="0.6"/>
<line x1="20.20" y1="289.32" x2="21.70" y2="289.32" stroke="#bbbbbb" stroke-width="0.6"/>
<line x1="20.20" y1="285.12" x2="21.70" y2="285.12" stroke="#bbbbbb" stroke-width="0.6"/>
<line x1="20.20" y1="280.93" x2="21.70" y2="280.93" stroke="#bbbbbb" stroke-width="0.6"/>
<line x1="20.20" y1="276.74" x2="21.70" y2="276.74" stroke="#bbbbbb" stroke-width="0.6"/>
<line x1="20.20" y1="272.54" x2="21.70" y2="272.54" stroke="#bbbbbb" stroke-width="0.6"/>
<line x1="20.20" y1="268.34" x2="21.70" y2="268.34" stroke="#bbbbbb" stroke-width="0.6"/>
<line x1="20.20" y1="264.15" x2="21.70" y2="264.15" stroke="#bbbbbb" stroke-width="0.6"/>
<line x1="20.20" y1="259.95" x2="21.70" y2="259.95" stroke="#bbbbbb" stroke-width="0.6"/>
<line x1="20.20" y1="255.76" x2="21.70" y2="255.76" stroke="#bbbbbb" stroke-width="0.6"/>
<line x1="20.20" y1="251.56" x2="21.70" y2="251.56" stroke="#bbbbbb" stroke-width="0.6"/>
<line x1="20.20" y1="247.37" x2="21.70" y2="247.37" stroke="#bbbbbb" stroke-width="0.6"/>
<line x1="20.20" y1="243.18" x2="21.70" y2="243.18" stroke="#bbbbbb" stroke-width="0.6"/>
<line x1="20.20" y1="238.98" x2="21.70" y2="238.98" stroke="#bbbbbb" stroke-width="0.6"/>
<line x1="20.20" y1="234.78" x2="21.70" y2="234.78" stroke="#bbbbbb" stroke-width="0.6"/>
<line x1="20.20" y1="230.59" x2="21.70" y2="230.59" stroke="#bbbbbb" stroke-width="0.6"/>
<line x1="20.20" y1="226.39" x2="21.70" y2="226.39" stroke="#bbbbbb" stroke-width="0.6"/>
<line x1="20.20" y1="222.20" x2="21.70" y2="222.20" stroke="#bbbbbb" stroke-width="0.6"/>
<rect x="21.87" y="392.90" width="1.4" height="3.6" fill="#999"/>
<rect x="21.97" y="397.40" width="1.2" height="1.1" fill="#8c8c8c"/>
<rect x="21.97" y="399.70" width="1.2" height="1.2" fill="#a0a0a0"/>
<rect x="25.60" y="392.90" width="1.4" height="3.6" fill="#999"/>
<rect x="25.70" y="397.40" width="1.2" height="1.1" fill="#8c8c8c"/>
<rect x="25.70" y="399.70" width="1.2" height="1.2" fill="#a0a0a0"/>
<rect x="29.33" y="392.90" width="1.4" height="3.6" fill="#999"/>
<rect x="29.43" y="397.40" width="1.2" height="1.1" fill="#8c8c8c"/>
<rect x="29.43" y="399.70" width="1.2" height="1.2" fill="#a0a0a0"/>
<rect x="33.06" y="392.90" width="1.4" height="3.6" fill="#999"/>
<rect x="33.16" y="397.40" width="1.2" height="1.1" fill="#8c8c8c"/>
<rect x="33.16" y="399.70" width="1.2" height="1.2" fill="#a0a0a0"/>
<rect x="36.79" y="392.90" width="1.4" height="3.6" fill="#999"/>
<rect x="36.89" y="397.40" width="1.2" height="1.1" fill="#8c8c8c"/>
<rect x="36.89" y="399.70" width="1.2" height="1.2" fill="#a0a0a0"/>
<rect x="40.52" y="392.90" width="1.4" height="3.6" fill="#999"/>
<rect x="40.62" y="397.40" width="1.2" height="1.1" fill="#8c8c8c"/>
<rect x="40.62" y="399.70" width="1.2" height="1.2" fill="#a0a0a0"/>
<rect x="44.25" y="392.90" width="1.4" height="3.6" fill="#999"/>
<rect x="44.35" y="397.40" width="1.2" height="1.1" fill="#8c8c8c"/>
<rect x="44.35" y="399.70" width="1.2" height="1.2" fill="#a0a0a0"/>
<rect x="47.98" y="392.90" width="1.4" height="3.6" fill="#999"/>
<rect x="48.08" y="397.40" width="1.2" height="1.1" fill="#8c8c8c"/>
<rect x="48.08" y="399.70" width="1.2" height="1.2" fill="#a0a0a0"/>
<rect x="51.71" y="392.90" width="1.4" height="3.6" fill="#999"/>
<rect x="51.81" y="397.40" width="1.2" height="1.1" fill="#8c8c8c"/>
<rect x="51.81" y="399.70" width="1.2" height="1.2" fill="#a0a0a0"/>
<rect x="55.44" y="392.90" width="1.4" height="3.6" fill="#999"/>
<rect x="55.54" y="397.40" width="1.2" height="1.1" fill="#8c8c8c"/>
<rect x="55.54" y="399.70" width="1.2" height="1.2" fill="#a0a0a0"/>
<rect x="59.17" y="392.90" width="1.4" height="3.6" fill="#999"/>
<rect x="59.27" y="397.40" width="1.2" height="1.1" fill="#8c8c8c"/>
<rect x="59.27" y="399.70" width="1.2" height="1.2" fill="#a0a0a0"/>
<rect x="62.90" y="392.90" width="1.4" height="3.6" fill="#999"/>
<rect x="63.00" y="397.40" width="1.2" height="1.1" fill="#8c8c8c"/>
<rect x="63.00" y="399.70" width="1.2" height="1.2" fill="#a0a0a0"/>
<rect x="66.63" y="392.90" width="1.4" height="3.6" fill="#999"/>
<rect x="66.73" y="397.40" width="1.2" height="1.1" fill="#8c8c8c"/>
<rect x="66.73" y="399.70" width="1.2" height="1.2" fill="#a0a0a0"/>
<rect x="70.36" y="392.90" width="1.4" height="3.6" fill="#999"/>
<rect x="70.46" y="397.40" width="1.2" height="1.1" fill="#8c8c8c"/>
<rect x="70.46" y="399.70" width="1.2" height="1.2" fill="#a0a0a0"/>
<rect x="74.09" y="392.90" width="1.4" height="3.6" fill="#999"/>
<rect x="74.19" y="397.40" width="1.2" height="1.1" fill="#8c8c8c"/>
<rect x="74.19" y="399.70" width="1.2" height="1.2" fill="#a0a0a0"/>
<rect x="77.82" y="392.90" width="1.4" height="3.6" fill="#999"/>
<rect x="77.92" y="397.40" width="1.2" height="1.1" fill="#8c8c8c"/>
<rect x="77.92" y="399.70" width="1.2" height="1.2" fill="#a0a0a0"/>
<rect x="81.55" y="392.90" width="1.4" height="3.6" fill="#999"/>
<rect x="81.65" y="397.40" width="1.2" height="1.1" fill="#8c8c8c"/>
<rect x="81.65" y="399.70" width="1.2" height="1.2" fill="#a0a0a0"/>
<rect x="85.28" y="392.90" width="1.4" height="3.6" fill="#999"/>
<rect x="85.38" y="397.40" width="1.2" height="1.1" fill="#8c8c8c"/>
<rect x="85.38" y="399.70" width="1.2" height="1.2" fill="#a0a0a0"/>
<rect x="89.01" y="392.90" width="1.4" height="3.6" fill="#999"/>
<rect x="89.11" y="397.40" width="1.2" height="1.1" fill="#8c8c8c"/>
<rect x="89.11" y="399.70" width="1.2" height="1.2" fill="#a0a0a0"/>
<rect x="92.74" y="392.90" width="1.4" height="3.6" fill="#999"/>
<rect x="92.84" y="397.40" width="1.2" height="1.1" fill="#8c8c8c"/>
<rect x="92.84" y="399.70" width="1.2" height="1.2" fill="#a0a0a0"/>
<rect x="96.47" y="392.90" width="1.4" height="3.6" fill="#999"/>
<rect x="96.57" y="397.40" width="1.2" height="1.1" fill="#8c8c8c"/>
<rect x="96.57" y="399.70" width="1.2" height="1.2" fill="#a0a0a0"/>
<rect x="100.20" y="392.90" width="1.4" height="3.6" fill="#999"/>
<rect x="100.30" y="397.40" width="1.2" height="1.1" fill="#8c8c8c"/>
<rect x="100.30" y="399.70" width="1.2" height="1.2" fill="#a0a0a0"/>
<rect x="103.93" y="392.90" width="1.4" height="3.6" fill="#999"/>
<rect x="104.03" y="397.40" width="1.2" height="1.1" fill="#8c8c8c"/>
<rect x="104.03" y="399.70" width="1.2" height="1.2" fill="#a0a0a0"/>
<rect x="107.66" y="392.90" width="1.4" height="3.6" fill="#999"/>
<rect x="107.76" y="397.40" width="1.2" height="1.1" fill="#8c8c8c"/>
<rect x="107.76" y="399.70" width="1.2" height="1.2" fill="#a0a0a0"/>
<rect x="111.39" y="392.90" width="1.4" height="3.6" fill="#999"/>
<rect x="111.49" y="397.40" width="1.2" height="1.1" fill="#8c8c8c"/>
<rect x="111.49" y="399.70" width="1.2" height="1.2" fill="#a0a0a0"/>
<rect x="115.12" y="392.90" width="1.4" height="3.6" fill="#999"/>
<rect x="115.22" y="397.40" width="1.2" height="1.1" fill="#8c8c8c"/>
<rect x="115.22" y="399.70" width="1.2" height="1.2" fill="#a0a0a0"/>
<rect x="118.85" y="392.90" width="1.4" height="3.6" fill="#999"/>
<rect x="118.95" y="397.40" width="1.2" height="1.1" fill="#8c8c8c"/>
<rect x="118.95" y="399.70" width="1.2" height="1.2" fill="#a0a0a0"/>
<rect x="122.58" y="392.90" width="1.4" height="3.6" fill="#999"/>
<rect x="122.68" y="397.40" width="1.2" height="1.1" fill="#8c8c8c"/>
<rect x="122.68" y="399.70" width="1.2" height="1.2" fill="#a0a0a0"/>
<rect x="126.31" y="392.90" width="1.4" height="3.6" fill="#999"/>
<rect x="126.41" y="397.40" width="1.2" height="1.1" fill="#8c8c8c"/>
<rect x="126.41" y="399.70" width="1.2" height="1.2" fill="#a0a0a0"/>
<rect x="130.04" y="392.90" width="1.4" height="3.6" fill="#999"/>
<rect x="130.14" y="397.40" width="1.2" height="1.1" fill="#8c8c8c"/>
<rect x="130.14" y="399.70" width="1.2" height="1.2" fill="#a0a0a0"/>
<rect x="133.77" y="392.90" width="1.4" height="3.6" fill="#999"/>
<rect x="133.87" y="397.40" width="1.2" height="1.1" fill="#8c8c8c"/>
<rect x="133.87" y="399.70" width="1.2" height="1.2" fill="#a0a0a0"/>
<rect x="137.50" y="392.90" width="1.4" height="3.6" fill="#999"/>
<rect x="137.60" y="397.40" width="1.2" height="1.1" fill="#8c8c8c"/>
<rect x="137.60" y="399.70" width="1.2" height="1.2" fill="#a0a0a0"/>
<rect x="141.23" y="392.90" width="1.4" height="3.6" fill="#999"/>
<rect x="141.33" y="397.40" width="1.2" height="1.1" fill="#8c8c8c"/>
<rect x="141.33" y="399.70" width="1.2" height="1.2" fill="#a0a0a0"/>
<rect x="144.96" y="392.90" width="1.4" height="3.6" fill="#999"/>
<rect x="145.06" y="397.40" width="1.2" height="1.1" fill="#8c8c8c"/>
<rect x="145.06" y="399.70" width="1.2" height="1.2" fill="#a0a0a0"/>
<rect x="148.69" y="392.90" width="1.4" height="3.6" fill="#999"/>
<rect x="148.79" y="397.40" width="1.2" height="1.1" fill="#8c8c8c"/>
<rect x="148.79" y="399.70" width="1.2" height="1.2" fill="#a0a0a0"/>
<rect x="152.42" y="392.90" width="1.4" height="3.6" fill="#999"/>
<rect x="152.52" y="397.40" width="1.2" height="1.1" fill="#8c8c8c"/>
<rect x="152.52" y="399.70" width="1.2" height="1.2" fill="#a0a0a0"/>
<rect x="156.15" y="392.90" width="1.4" height="3.6" fill="#999"/>
<rect x="156.25" y="397.40" width="1.2" height="1.1" fill="#8c8c8c"/>
<rect x="156.25" y="399.70" width="1.2" height="1.2" fill="#a0a0a0"/>
<rect x="159.88" y="392.90" width="1.4" height="3.6" fill="#999"/>
<rect x="159.98" y="397.40" width="1.2" height="1.1" fill="#8c8c8c"/>
<rect x="159.98" y="399.70" width="1.2" height="1.2" fill="#a0a0a0"/>
<rect x="163.61" y="392.90" width="1.4" height="3.6" fill="#999"/>
<rect x="163.71" y="397.40" width="1.2" height="1.1" fill="#8c8c8c"/>
<rect x="163.71" y="399.70" width="1.2" height="1.2" fill="#a0a0a0"/>
<rect x="167.34" y="392.90" width="1.4" height="3.6" fill="#999"/>
<rect x="167.44" y="397.40" width="1.2" height="1.1" fill="#8c8c8c"/>
<rect x="167.44" y="399.70" width="1.2" height="1.2" fill="#a0a0a0"/>
<rect x="171.07" y="392.90" width="1.4" height="3.6" fill="#999"/>
<rect x="171.17" y="397.40" width="1.2" height="1.1" fill="#8c8c8c"/>
<rect x="171.17" y="399.70" width="1.2" height="1.2" fill="#a0a0a0"/>
<rect x="174.80" y="392.90" width="1.4" height="3.6" fill="#999"/>
<rect x="174.90" y="397.40" width="1.2" height="1.1" fill="#8c8c8c"/>
<rect x="174.90" y="399.70" width="1.2" height="1.2" fill="#a0a0a0"/>
<rect x="178.53" y="392.90" width="1.4" height="3.6" fill="#999"/>
<rect x="178.63" y="397.40" width="1.2" height="1.1" fill="#8c8c8c"/>
<rect x="178.63" y="399.70" width="1.2" height="1.2" fill="#a0a0a0"/>
<rect x="182.26" y="392.90" width="1.4" height="3.6" fill="#999"/>
<rect x="182.36" y="397.40" width="1.2" height="1.1" fill="#8c8c8c"/>
<rect x="182.36" y="399.70" width="1.2" height="1.2" fill="#a0a0a0"/>
<rect x="185.99" y="392.90" width="1.4" height="3.6" fill="#999"/>
<rect x="186.09" y="397.40" width="1.2" height="1.1" fill="#8c8c8c"/>
<rect x="186.09" y="399.70" width="1.2" height="1.2" fill="#a0a0a0"/>
<rect x="189.72" y="392.90" width="1.4" height="3.6" fill="#999"/>
<rect x="189.82" y="397.40" width="1.2" height="1.1" fill="#8c8c8c"/>
<rect x="189.82" y="399.70" width="1.2" height="1.2" fill="#a0a0a0"/>
<rect x="193.45" y="392.90" width="1.4" height="3.6" fill="#999"/>
<rect x="193.55" y="397.40" width="1.2" height="1.1" fill="#8c8c8c"/>
<rect x="193.55" y="399.70" width="1.2" height="1.2" fill="#a0a0a0"/>
<rect x="197.18" y="392.90" width="1.4" height="3.6" fill="#999"/>
<rect x="197.28" y="397.40" width="1.2" height="1.1" fill="#8c8c8c"/>
<rect x="197.28" y="399.70" width="1.2" height="1.2" fill="#a0a0a0"/>
<rect x="200.91" y="392.90" width="1.4" height="3.6" fill="#999"/>
<rect x="201.01" y="397.40" width="1.2" height="1.1" fill="#8c8c8c"/>
<rect x="201.01" y="399.70" width="1.2" height="1.2" fill="#a0a0a0"/>
<rect x="204.64" y="392.90" width="1.4" height="3.6" fill="#999"/>
<rect x="204.74" y="397.40" width="1.2" height="1.1" fill="#8c8c8c"/>
<rect x="204.74" y="399.70" width="1.2" height="1.2" fill="#a0a0a0"/>
<rect x="208.37" y="392.90" width="1.4" height="3.6" fill="#999"/>
<rect x="208.47" y="397.40" width="1.2" height="1.1" fill="#8c8c8c"/>
<rect x="208.47" y="399.70" width="1.2" height="1.2" fill="#a0a0a0"/>
<rect x="212.10" y="392.90" width="1.4" height="3.6" fill="#999"/>
<rect x="212.20" y="397.40" width="1.2" height="1.1" fill="#8c8c8c"/>
<rect x="212.20" y="399.70" width="1.2" height="1.2" fill="#a0a0a0"/>
<rect x="215.83" y="392.90" width="1.4" height="3.6" fill="#999"/>
<rect x="215.93" y="397.40" width="1.2" height="1.1" fill="#8c8c8c"/>
<rect x="215.93" y="399.70" width="1.2" height="1.2" fill="#a0a0a0"/>
<rect x="219.56" y="392.90" width="1.4" height="3.6" fill="#999"/>
<rect x="219.66" y="397.40" width="1.2" height="1.1" fill="#8c8c8c"/>
<rect x="219.66" y="399.70" width="1.2" height="1.2" fill="#a0a0a0"/>
<rect x="223.29" y="392.90" width="1.4" height="3.6" fill="#999"/>
<rect x="223.39" y="397.40" width="1.2" height="1.1" fill="#8c8c8c"/>
<rect x="223.39" y="399.70" width="1.2" height="1.2" fill="#a0a0a0"/>
<rect x="227.02" y="392.90" width="1.4" height="3.6" fill="#999"/>
<rect x="227.12" y="397.40" width="1.2" height="1.1" fill="#8c8c8c"/>
<rect x="227.12" y="399.70" width="1.2" height="1.2" fill="#a0a0a0"/>
<rect x="230.75" y="392.90" width="1.4" height="3.6" fill="#999"/>
<rect x="230.85" y="397.40" width="1.2" height="1.1" fill="#8c8c8c"/>
<rect x="230.85" y="399.70" width="1.2" height="1.2" fill="#a0a0a0"/>
<rect x="234.48" y="392.90" width="1.4" height="3.6" fill="#999"/>
<rect x="234.58" y="397.40" width="1.2" height="1.1" fill="#8c8c8c"/>
<rect x="234.58" y="399.70" width="1.2" height="1.2" fill="#a0a0a0"/>
<rect x="238.21" y="392.90" width="1.4" height="3.6" fill="#999"/>
<rect x="238.31" y="397.40" width="1.2" height="1.1" fill="#8c8c8c"/>
<rect x="238.31" y="399.70" width="1.2" height="1.2" fill="#a0a0a0"/>
<rect x="241.94" y="392.90" width="1.4" height="3.6" fill="#999"/>
<rect x="242.04" y="397.40" width="1.2" height="1.1" fill="#8c8c8c"/>
<rect x="242.04" y="399.70" width="1.2" height="1.2" fill="#a0a0a0"/>
<rect x="245.67" y="392.90" width="1.4" height="3.6" fill="#999"/>
<rect x="245.77" y="397.40" width="1.2" height="1.1" fill="#8c8c8c"/>
<rect x="245.77" y="399.70" width="1.2" height="1.2" fill="#a0a0a0"/>
<rect x="249.40" y="392.90" width="1.4" height="3.6" fill="#999"/>
<rect x="249.50" y="397.40" width="1.2" height="1.1" fill="#8c8c8c"/>
<rect x="249.50" y="399.70" width="1.2" height="1.2" fill="#a0a0a0"/>
<rect x="253.13" y="392.90" width="1.4" height="3.6" fill="#999"/>
<rect x="253.23" y="397.40" width="1.2" height="1.1" fill="#8c8c8c"/>
<rect x="253.23" y="399.70" width="1.2" height="1.2" fill="#a0a0a0"/>
<rect x="256.86" y="392.90" width="1.4" height="3.6" fill="#999"/>
<rect x="256.96" y="397.40" width="1.2" height="1.1" fill="#8c8c8c"/>
<rect x="256.96" y="399.70" width="1.2" height="1.2" fill="#a0a0a0"/>
<rect x="260.59" y="392.90" width="1.4" height="3.6" fill="#999"/>
<rect x="260.69" y="397.40" width="1.2" height="1.1" fill="#8c8c8c"/>
<rect x="260.69" y="399.70" width="1.2" height="1.2" fill="#a0a0a0"/>
<rect x="264.32" y="392.90" width="1.4" height="3.6" fill="#999"/>
<rect x="264.42" y="397.40" width="1.2" height="1.1" fill="#8c8c8c"/>
<rect x="264.42" y="399.70" width="1.2" height="1.2" fill="#a0a0a0"/>
<rect x="268.05" y="392.90" width="1.4" height="3.6" fill="#999"/>
<rect x="268.15" y="397.40" width="1.2" height="1.1" fill="#8c8c8c"/>
<rect x="268.15" y="399.70" width="1.2" height="1.2" fill="#a0a0a0"/>
<rect x="271.78" y="392.90" width="1.4" height="3.6" fill="#999"/>
<rect x="271.88" y="397.40" width="1.2" height="1.1" fill="#8c8c8c"/>
<rect x="271.88" y="399.70" width="1.2" height="1.2" fill="#a0a0a0"/>
<rect x="275.51" y="392.90" width="1.4" height="3.6" fill="#999"/>
<rect x="275.61" y="397.40" width="1.2" height="1.1" fill="#8c8c8c"/>
<rect x="275.61" y="399.70" width="1.2" height="1.2" fill="#a0a0a0"/>
<rect x="279.39" y="392.60" width="1.1" height="3.6" fill="#b4b4b4"/>
<rect x="283.12" y="392.60" width="1.1" height="3.6" fill="#b4b4b4"/>
<rect x="286.85" y="392.60" width="1.1" height="3.6" fill="#b4b4b4"/>
<rect x="290.58" y="392.60" width="1.1" height="3.6" fill="#b4b4b4"/>
<rect x="294.31" y="392.60" width="1.1" height="3.6" fill="#b4b4b4"/>
<rect x="298.04" y="392.60" width="1.1" height="3.6" fill="#b4b4b4"/>
<rect x="301.77" y="392.60" width="1.1" height="3.6" fill="#b4b4b4"/>
<rect x="305.50" y="392.60" width="1.1" height="3.6" fill="#b4b4b4"/>
<rect x="309.23" y="392.60" width="1.1" height="3.6" fill="#b4b4b4"/>
<rect x="312.96" y="392.60" width="1.1" height="3.6" fill="#b4b4b4"/>
<rect x="316.69" y="392.60" width="1.1" height="3.6" fill="#b4b4b4"/>
<rect x="320.42" y="392.60" width="1.1" height="3.6" fill="#b4b4b4"/>
<text x="0" y="0" transform="translate(11.20,303.30) rotate(-90) scale(1.1,0.9)" font-family="'Liberation Sans', sans-serif" font-size="3.6" font-weight="bold" fill="#666" text-anchor="end">TIC</text>
<text x="0" y="0" transform="translate(166.80,407.00) scale(0.15500,0.25)" font-family="'Liberation Sans', sans-serif" font-size="18.4" font-weight="bold" fill="#444" text-anchor="start" >RT (min)</text>
<path d="M22.20,390.00 L22.40,390.00 L22.60,390.00 L22.80,389.99 L23.00,389.99 L23.20,389.97 L23.40,389.95 L23.60,389.92 L23.80,389.86 L24.00,389.77 L24.20,389.64 L24.40,389.47 L24.60,389.24 L24.80,388.93 L25.00,388.49 L25.20,387.70 L25.40,385.96 L25.60,382.35 L25.80,376.31 L26.00,369.04 L26.20,363.84 L26.40,363.83 L26.60,369.03 L26.80,376.28 L27.00,382.28 L27.20,385.84 L27.40,387.48 L27.60,388.14 L27.80,388.37 L28.00,388.39 L28.20,388.22 L28.40,387.88 L28.60,387.31 L28.80,386.29 L29.00,384.09 L29.20,379.17 L29.40,369.79 L29.60,356.28 L29.80,343.22 L30.00,337.69 L30.20,343.22 L30.40,356.26 L30.60,369.76 L30.80,379.11 L31.00,383.99 L31.20,386.12 L31.40,387.02 L31.60,387.41 L31.80,387.49 L32.00,387.30 L32.20,386.83 L32.40,386.00 L32.60,384.49 L32.80,381.22 L33.00,373.91 L33.20,359.98 L33.40,339.90 L33.60,320.51 L33.80,312.29 L34.00,320.51 L34.20,339.90 L34.40,359.98 L34.60,373.91 L34.80,381.23 L35.00,384.51 L35.20,386.04 L35.40,386.90 L35.60,387.43 L35.80,387.70 L36.00,387.71 L36.20,387.42 L36.40,386.54 L36.60,384.31 L36.80,379.46 L37.00,371.27 L37.20,361.37 L37.40,354.28 L37.60,354.27 L37.80,361.33 L38.00,371.18 L38.20,379.32 L38.40,384.08 L38.60,386.18 L38.80,386.90 L39.00,386.98 L39.20,386.71 L39.40,386.13 L39.60,385.08 L39.80,382.91 L40.00,377.92 L40.20,367.37 L40.40,349.64 L40.60,328.27 L40.80,312.97 L41.00,312.97 L41.20,328.27 L41.40,349.65 L41.60,367.39 L41.80,377.95 L42.00,382.93 L42.20,385.08 L42.40,386.09 L42.60,386.59 L42.80,386.74 L43.00,386.55 L43.20,385.97 L43.40,384.71 L43.60,381.78 L43.80,375.11 L44.00,362.33 L44.20,343.88 L44.40,326.04 L44.60,318.49 L44.80,326.05 L45.00,343.90 L45.20,362.38 L45.40,375.20 L45.60,381.94 L45.80,384.97 L46.00,386.38 L46.20,387.18 L46.40,387.67 L46.60,387.91 L46.80,387.93 L47.00,387.69 L47.20,387.06 L47.40,385.49 L47.60,381.88 L47.80,374.94 L48.00,364.90 L48.20,355.20 L48.40,351.08 L48.60,355.19 L48.80,364.88 L49.00,374.90 L49.20,381.82 L49.40,385.39 L49.60,386.88 L49.80,387.42 L50.00,387.53 L50.20,387.34 L50.40,386.87 L50.60,386.09 L50.80,384.81 L51.00,382.31 L51.20,376.70 L51.40,364.93 L51.60,345.20 L51.80,321.43 L52.00,304.42 L52.20,304.43 L52.40,321.43 L52.60,345.20 L52.80,364.94 L53.00,376.70 L53.20,382.30 L53.40,384.79 L53.60,386.06 L53.80,386.81 L54.00,387.23 L54.20,387.35 L54.40,387.17 L54.60,386.61 L54.80,385.25 L55.00,381.99 L55.20,375.05 L55.40,363.34 L55.60,349.24 L55.80,339.13 L56.00,339.14 L56.20,349.25 L56.40,363.37 L56.60,375.09 L56.80,382.08 L57.00,385.40 L57.20,386.86 L57.40,387.59 L57.60,388.02 L57.80,388.24 L58.00,388.27 L58.20,388.11 L58.40,387.63 L58.60,386.41 L58.80,383.57 L59.00,378.10 L59.20,370.19 L59.40,362.53 L59.60,359.29 L59.80,362.54 L60.00,370.20 L60.20,378.13 L60.40,383.63 L60.60,386.51 L60.80,387.79 L61.00,388.38 L61.20,388.68 L61.40,388.85 L61.60,388.89 L61.80,388.82 L62.00,388.59 L62.20,388.03 L62.40,386.70 L62.60,383.85 L62.80,379.04 L63.00,373.24 L63.20,369.09 L63.40,369.09 L63.60,373.24 L63.80,379.05 L64.00,383.86 L64.20,386.71 L64.40,388.04 L64.60,388.58 L64.80,388.77 L65.00,388.76 L65.20,388.56 L65.40,388.14 L65.60,387.47 L65.80,386.51 L66.00,385.21 L66.20,383.31 L66.40,379.81 L66.60,372.16 L66.80,356.22 L67.00,329.55 L67.20,297.45 L67.40,274.47 L67.60,274.44 L67.80,297.38 L68.00,329.41 L68.20,355.99 L68.40,371.78 L68.60,379.20 L68.80,382.38 L69.00,383.87 L69.20,384.64 L69.40,384.88 L69.60,384.40 L69.80,382.40 L70.00,377.19 L70.20,366.82 L70.40,351.70 L70.60,337.03 L70.80,330.83 L71.00,337.11 L71.20,351.88 L71.40,367.16 L71.60,377.76 L71.80,383.34 L72.00,385.85 L72.20,387.03 L72.40,387.72 L72.60,388.18 L72.80,388.46 L73.00,388.55 L73.20,388.35 L73.40,387.57 L73.60,385.71 L73.80,382.49 L74.00,378.58 L74.20,375.78 L74.40,375.79 L74.60,378.61 L74.80,382.55 L75.00,385.81 L75.20,387.74 L75.40,388.62 L75.60,388.95 L75.80,389.03 L76.00,388.95 L76.20,388.73 L76.40,388.35 L76.60,387.77 L76.80,386.98 L77.00,385.81 L77.20,383.64 L77.40,378.88 L77.60,368.96 L77.80,352.34 L78.00,332.35 L78.20,318.04 L78.40,318.04 L78.60,332.34 L78.80,352.32 L79.00,368.91 L79.20,378.79 L79.40,383.49 L79.60,385.57 L79.80,386.60 L80.00,387.21 L80.20,387.53 L80.40,387.59 L80.60,387.37 L80.80,386.71 L81.00,385.02 L81.20,381.08 L81.40,373.49 L81.60,362.50 L81.80,351.88 L82.00,347.38 L82.20,351.88 L82.40,362.50 L82.60,373.48 L82.80,381.07 L83.00,385.00 L83.20,386.68 L83.40,387.32 L83.60,387.52 L83.80,387.42 L84.00,387.06 L84.20,386.40 L84.40,385.28 L84.60,383.05 L84.80,378.01 L85.00,367.43 L85.20,349.67 L85.40,328.29 L85.60,312.98 L85.80,312.98 L86.00,328.28 L86.20,349.67 L86.40,367.42 L86.60,377.99 L86.80,383.00 L87.00,385.19 L87.20,386.26 L87.40,386.82 L87.60,387.05 L87.80,386.96 L88.00,386.54 L88.20,385.66 L88.40,383.76 L88.60,379.35 L88.80,370.03 L89.00,354.34 L89.20,335.45 L89.40,321.92 L89.60,321.92 L89.80,335.45 L90.00,354.34 L90.20,370.03 L90.40,379.37 L90.60,383.79 L90.80,385.71 L91.00,386.64 L91.20,387.13 L91.40,387.32 L91.60,387.24 L91.80,386.84 L92.00,385.91 L92.20,383.70 L92.40,378.61 L92.60,368.86 L92.80,354.77 L93.00,341.15 L93.20,335.38 L93.40,341.16 L93.60,354.78 L93.80,368.88 L94.00,378.65 L94.20,383.75 L94.40,385.99 L94.60,386.96 L94.80,387.42 L95.00,387.56 L95.20,387.45 L95.40,387.06 L95.60,386.34 L95.80,385.00 L96.00,382.07 L96.20,375.49 L96.40,362.95 L96.60,344.86 L96.80,327.39 L97.00,319.99 L97.20,327.40 L97.40,344.87 L97.60,362.96 L97.80,375.52 L98.00,382.13 L98.20,385.11 L98.40,386.53 L98.60,387.35 L98.80,387.90 L99.00,388.24 L99.20,388.38 L99.40,388.30 L99.60,387.83 L99.80,386.53 L100.00,383.65 L100.20,378.76 L100.40,372.83 L100.60,368.59 L100.80,368.59 L101.00,372.83 L101.20,378.75 L101.40,383.64 L101.60,386.50 L101.80,387.77 L102.00,388.18 L102.20,388.18 L102.40,387.90 L102.60,387.37 L102.80,386.55 L103.00,385.39 L103.20,383.65 L103.40,380.41 L103.60,373.26 L103.80,358.34 L104.00,333.36 L104.20,303.29 L104.40,281.77 L104.60,281.77 L104.80,303.28 L105.00,333.34 L105.20,358.31 L105.40,373.21 L105.60,380.32 L105.80,383.50 L106.00,385.16 L106.20,386.21 L106.40,386.88 L106.60,387.22 L106.80,387.22 L107.00,386.76 L107.20,385.32 L107.40,381.78 L107.60,374.88 L107.80,364.87 L108.00,355.18 L108.20,351.08 L108.40,355.20 L108.60,364.91 L108.80,374.96 L109.00,381.92 L109.20,385.57 L109.40,387.19 L109.60,387.92 L109.80,388.30 L110.00,388.49 L110.20,388.53 L110.40,388.41 L110.60,388.09 L110.80,387.32 L111.00,385.48 L111.20,381.56 L111.40,374.96 L111.60,367.00 L111.80,361.30 L112.00,361.30 L112.20,367.00 L112.40,374.94 L112.60,381.53 L112.80,385.42 L113.00,387.20 L113.20,387.89 L113.40,388.09 L113.60,388.02 L113.80,387.71 L114.00,387.15 L114.20,386.30 L114.40,384.99 L114.60,382.49 L114.80,376.94 L115.00,365.33 L115.20,345.87 L115.40,322.45 L115.60,305.70 L115.80,305.70 L116.00,322.46 L116.20,345.89 L116.40,365.36 L116.60,376.99 L116.80,382.58 L117.00,385.14 L117.20,386.55 L117.40,387.54 L117.60,388.29 L117.80,388.85 L118.00,389.26 L118.20,389.54 L118.40,389.73 L118.60,389.84 L118.80,389.91 L119.00,389.96 L119.20,389.98 L119.40,389.99 L119.60,389.99 L119.80,390.00 L120.00,390.00 L120.20,390.00 L120.40,390.00 L120.60,390.00 L120.80,390.00 L121.00,390.00 L121.20,390.00 L121.40,390.00 L121.60,390.00 L121.80,390.00 L122.00,390.00 L122.20,390.00 L122.40,390.00 L122.60,390.00 L122.80,390.00 L123.00,390.00 L123.20,389.99 L123.40,389.98 L123.60,389.97 L123.80,389.94 L124.00,389.90 L124.20,389.83 L124.40,389.73 L124.60,389.57 L124.80,389.36 L125.00,389.09 L125.20,388.72 L125.40,388.20 L125.60,387.24 L125.80,385.17 L126.00,380.85 L126.20,373.62 L126.40,364.92 L126.60,358.69 L126.80,358.69 L127.00,364.91 L127.20,373.60 L127.40,380.81 L127.60,385.10 L127.80,387.12 L128.00,387.98 L128.20,388.37 L128.40,388.55 L128.60,388.56 L128.80,388.42 L129.00,388.10 L129.20,387.54 L129.40,386.41 L129.60,383.82 L129.80,378.37 L130.00,369.22 L130.20,358.21 L130.40,350.32 L130.60,350.32 L130.80,358.21 L131.00,369.22 L131.20,378.37 L131.40,383.81 L131.60,386.40 L131.80,387.53 L132.00,388.09 L132.20,388.40 L132.40,388.55 L132.60,388.55 L132.80,388.39 L133.00,387.95 L133.20,386.87 L133.40,384.38 L133.60,379.58 L133.80,372.64 L134.00,365.93 L134.20,363.08 L134.40,365.92 L134.60,372.62 L134.80,379.54 L135.00,384.30 L135.20,386.73 L135.40,387.70 L135.60,387.96 L135.80,387.87 L136.00,387.49 L136.20,386.83 L136.40,385.84 L136.60,384.42 L136.80,382.05 L137.00,377.12 L137.20,366.25 L137.40,345.60 L137.60,315.87 L137.80,287.16 L138.00,274.99 L138.20,287.15 L138.40,315.86 L138.60,345.58 L138.80,366.21 L139.00,377.06 L139.20,381.96 L139.40,384.27 L139.60,385.62 L139.80,386.51 L140.00,387.04 L140.20,387.25 L140.40,387.07 L140.60,386.24 L140.80,383.96 L141.00,378.93 L141.20,370.38 L141.40,360.04 L141.60,352.64 L141.80,352.64 L142.00,360.07 L142.20,370.43 L142.40,379.02 L142.60,384.13 L142.80,386.52 L143.00,387.53 L143.20,387.97 L143.40,388.14 L143.60,388.12 L143.80,387.91 L144.00,387.46 L144.20,386.59 L144.40,384.63 L144.60,380.22 L144.80,371.78 L145.00,359.62 L145.20,347.87 L145.40,342.89 L145.60,347.88 L145.80,359.63 L146.00,371.81 L146.20,380.26 L146.40,384.70 L146.60,386.69 L146.80,387.63 L147.00,388.17 L147.20,388.50 L147.40,388.68 L147.60,388.72 L147.80,388.59 L148.00,388.23 L148.20,387.30 L148.40,385.15 L148.60,381.01 L148.80,375.03 L149.00,369.24 L149.20,366.79 L149.40,369.24 L149.60,375.03 L149.80,381.01 L150.00,385.15 L150.20,387.29 L150.40,388.21 L150.60,388.58 L150.80,388.70 L151.00,388.68 L151.20,388.52 L151.40,388.21 L151.60,387.66 L151.80,386.58 L152.00,384.11 L152.20,378.91 L152.40,370.19 L152.60,359.69 L152.80,352.17 L153.00,352.16 L153.20,359.67 L153.40,370.16 L153.60,378.86 L153.80,384.01 L154.00,386.41 L154.20,387.40 L154.40,387.78 L154.60,387.88 L154.80,387.74 L155.00,387.37 L155.20,386.72 L155.40,385.51 L155.60,382.88 L155.80,376.98 L156.00,365.73 L156.20,349.50 L156.40,333.83 L156.60,327.19 L156.80,333.83 L157.00,349.50 L157.20,365.72 L157.40,376.98 L157.60,382.87 L157.80,385.50 L158.00,386.69 L158.20,387.31 L158.40,387.63 L158.60,387.70 L158.80,387.52 L159.00,387.05 L159.20,386.07 L159.40,383.85 L159.60,378.82 L159.80,369.19 L160.00,355.30 L160.20,341.88 L160.40,336.19 L160.60,341.88 L160.80,355.30 L161.00,369.19 L161.20,378.82 L161.40,383.85 L161.60,386.07 L161.80,387.05 L162.00,387.54 L162.20,387.74 L162.40,387.72 L162.60,387.46 L162.80,386.87 L163.00,385.55 L163.20,382.46 L163.40,375.89 L163.60,364.83 L163.80,351.50 L164.00,341.95 L164.20,341.95 L164.40,351.49 L164.60,364.82 L164.80,375.88 L165.00,382.45 L165.20,385.53 L165.40,386.83 L165.60,387.41 L165.80,387.64 L166.00,387.62 L166.20,387.36 L166.40,386.80 L166.60,385.71 L166.80,383.26 L167.00,377.72 L167.20,367.14 L167.40,351.88 L167.60,337.14 L167.80,330.89 L168.00,337.14 L168.20,351.89 L168.40,367.16 L168.60,377.76 L168.80,383.32 L169.00,385.81 L169.20,386.97 L169.40,387.60 L169.60,387.98 L169.80,388.13 L170.00,388.09 L170.20,387.81 L170.40,387.16 L170.60,385.61 L170.80,382.06 L171.00,375.25 L171.20,365.42 L171.40,355.92 L171.60,351.89 L171.80,355.92 L172.00,365.43 L172.20,375.26 L172.40,382.08 L172.60,385.65 L172.80,387.23 L173.00,387.93 L173.20,388.29 L173.40,388.45 L173.60,388.46 L173.80,388.30 L174.00,387.92 L174.20,387.06 L174.40,385.03 L174.60,380.71 L174.80,373.44 L175.00,364.67 L175.20,358.39 L175.40,358.39 L175.60,364.66 L175.80,373.43 L176.00,380.69 L176.20,385.00 L176.40,387.00 L176.60,387.82 L176.80,388.12 L177.00,388.17 L177.20,388.01 L177.40,387.62 L177.60,387.00 L177.80,385.99 L178.00,384.04 L178.20,379.66 L178.40,370.50 L178.60,355.13 L178.80,336.63 L179.00,323.39 L179.20,323.39 L179.40,336.63 L179.60,355.13 L179.80,370.49 L180.00,379.65 L180.20,384.02 L180.40,385.96 L180.60,386.96 L180.80,387.57 L181.00,387.94 L181.20,388.09 L181.40,388.01 L181.60,387.60 L181.80,386.45 L182.00,383.71 L182.20,378.39 L182.40,370.69 L182.60,363.24 L182.80,360.08 L183.00,363.24 L183.20,370.69 L183.40,378.39 L183.60,383.70 L183.80,386.43 L184.00,387.57 L184.20,387.96 L184.40,388.00 L184.60,387.81 L184.80,387.39 L185.00,386.71 L185.20,385.61 L185.40,383.48 L185.60,378.70 L185.80,368.70 L186.00,351.92 L186.20,331.72 L186.40,317.26 L186.60,317.26 L186.80,331.71 L187.00,351.91 L187.20,368.67 L187.40,378.65 L187.60,383.37 L187.80,385.43 L188.00,386.39 L188.20,386.87 L188.40,386.99 L188.60,386.77 L188.80,386.20 L189.00,385.19 L189.20,383.35 L189.40,379.38 L189.60,370.52 L189.80,353.64 L190.00,329.33 L190.20,305.84 L190.40,295.88 L190.60,305.82 L190.80,329.29 L191.00,353.58 L191.20,370.40 L191.40,379.19 L191.60,383.05 L191.80,384.74 L192.00,385.55 L192.20,385.88 L192.40,385.81 L192.60,385.28 L192.80,383.97 L193.00,380.79 L193.20,373.44 L193.40,359.31 L193.60,338.88 L193.80,319.14 L194.00,310.77 L194.20,319.15 L194.40,338.91 L194.60,359.36 L194.80,373.54 L195.00,380.95 L195.20,384.22 L195.40,385.67 L195.60,386.39 L195.80,386.70 L196.00,386.68 L196.20,386.31 L196.40,385.46 L196.60,383.56 L196.80,379.08 L197.00,369.57 L197.20,353.56 L197.40,334.27 L197.60,320.46 L197.80,320.46 L198.00,334.27 L198.20,353.57 L198.40,369.58 L198.60,379.10 L198.80,383.58 L199.00,385.49 L199.20,386.35 L199.40,386.71 L199.60,386.71 L199.80,386.36 L200.00,385.62 L200.20,384.31 L200.40,381.65 L200.60,375.63 L200.80,362.96 L201.00,341.68 L201.20,316.06 L201.40,297.72 L201.60,297.72 L201.80,316.07 L202.00,341.70 L202.20,363.00 L202.40,375.72 L202.60,381.80 L202.80,384.56 L203.00,386.03 L203.20,387.00 L203.40,387.68 L203.60,388.11 L203.80,388.31 L204.00,388.22 L204.20,387.62 L204.40,385.97 L204.60,382.69 L204.80,377.90 L205.00,373.25 L205.20,371.28 L205.40,373.26 L205.60,377.92 L205.80,382.73 L206.00,386.04 L206.20,387.73 L206.40,388.40 L206.60,388.59 L206.80,388.53 L207.00,388.27 L207.20,387.81 L207.40,387.13 L207.60,386.15 L207.80,384.52 L208.00,381.13 L208.20,373.64 L208.40,359.42 L208.60,338.95 L208.80,319.17 L209.00,310.79 L209.20,319.16 L209.40,338.92 L209.60,359.38 L209.80,373.56 L210.00,380.99 L210.20,384.29 L210.40,385.79 L210.60,386.57 L210.80,386.97 L211.00,387.07 L211.20,386.85 L211.40,386.22 L211.60,384.72 L211.80,381.12 L212.00,373.44 L212.20,360.48 L212.40,344.87 L212.60,333.69 L212.80,333.69 L213.00,344.89 L213.20,360.52 L213.40,373.51 L213.60,381.26 L213.80,384.95 L214.00,386.60 L214.20,387.46 L214.40,387.99 L214.60,388.32 L214.80,388.48 L215.00,388.45 L215.20,388.16 L215.40,387.31 L215.60,385.26 L215.80,381.26 L216.00,375.47 L216.20,369.86 L216.40,367.49 L216.60,369.86 L216.80,375.47 L217.00,381.26 L217.20,385.26 L217.40,387.32 L217.60,388.16 L217.80,388.44 L218.00,388.45 L218.20,388.26 L218.40,387.87 L218.60,387.27 L218.80,386.37 L219.00,384.86 L219.20,381.70 L219.40,374.71 L219.60,361.42 L219.80,342.30 L220.00,323.82 L220.20,315.99 L220.40,323.82 L220.60,342.28 L220.80,361.40 L221.00,374.67 L221.20,381.63 L221.40,384.74 L221.60,386.18 L221.80,386.97 L222.00,387.44 L222.20,387.65 L222.40,387.61 L222.60,387.24 L222.80,386.24 L223.00,383.76 L223.20,378.42 L223.40,369.39 L223.60,358.50 L223.80,350.70 L224.00,350.70 L224.20,358.51 L224.40,369.41 L224.60,378.46 L224.80,383.83 L225.00,386.36 L225.20,387.43 L225.40,387.90 L225.60,388.08 L225.80,388.05 L226.00,387.81 L226.20,387.34 L226.40,386.52 L226.60,384.88 L226.80,381.18 L227.00,373.39 L227.20,360.32 L227.40,344.57 L227.60,333.30 L227.80,333.30 L228.00,344.57 L228.20,360.31 L228.40,373.38 L228.60,381.16 L228.80,384.85 L229.00,386.48 L229.20,387.28 L229.40,387.73 L229.60,387.94 L229.80,387.95 L230.00,387.71 L230.20,387.09 L230.40,385.57 L230.60,382.04 L230.80,375.24 L231.00,365.41 L231.20,355.91 L231.40,351.89 L231.60,355.92 L231.80,365.43 L232.00,375.27 L232.20,382.09 L232.40,385.66 L232.60,387.24 L232.80,387.96 L233.00,388.32 L233.20,388.50 L233.40,388.53 L233.60,388.41 L233.80,388.07 L234.00,387.29 L234.20,385.42 L234.40,381.45 L234.60,374.76 L234.80,366.69 L235.00,360.92 L235.20,360.92 L235.40,366.70 L235.60,374.77 L235.80,381.48 L236.00,385.47 L236.20,387.37 L236.40,388.20 L236.60,388.61 L236.80,388.84 L237.00,388.95 L237.20,388.95 L237.40,388.82 L237.60,388.54 L237.80,387.92 L238.00,386.47 L238.20,383.38 L238.40,378.18 L238.60,371.92 L238.80,367.44 L239.00,367.44 L239.20,371.92 L239.40,378.18 L239.60,383.38 L239.80,386.47 L240.00,387.94 L240.20,388.57 L240.40,388.88 L240.60,389.04 L240.80,389.10 L241.00,389.06 L241.20,388.92 L241.40,388.60 L241.60,387.84 L241.80,386.10 L242.00,382.76 L242.20,377.93 L242.40,373.27 L242.60,371.29 L242.80,373.26 L243.00,377.91 L243.20,382.71 L243.40,386.00 L243.60,387.67 L243.80,388.31 L244.00,388.45 L244.20,388.32 L244.40,387.99 L244.60,387.45 L244.80,386.65 L245.00,385.44 L245.20,383.14 L245.40,378.07 L245.60,367.46 L245.80,349.69 L246.00,328.29 L246.20,312.98 L246.40,312.98 L246.60,328.27 L246.80,349.65 L247.00,367.38 L247.20,377.92 L247.40,382.87 L247.60,384.98 L247.80,385.90 L248.00,386.28 L248.20,386.24 L248.40,385.79 L248.60,384.90 L248.80,383.35 L249.00,380.23 L249.20,373.16 L249.40,358.29 L249.60,333.33 L249.80,303.28 L250.00,281.76 L250.20,281.76 L250.40,303.28 L250.60,333.33 L250.80,358.30 L251.00,373.18 L251.20,380.29 L251.40,383.48 L251.60,385.15 L251.80,386.22 L252.00,386.94 L252.20,387.31 L252.40,387.19 L252.60,386.16 L252.80,383.48 L253.00,378.76 L253.20,372.99 L253.40,368.84 L253.60,368.87 L253.80,373.07 L254.00,378.93 L254.20,383.80 L254.40,386.68 L254.60,388.04 L254.80,388.61 L255.00,388.87 L255.20,388.97 L255.40,388.97 L255.60,388.86 L255.80,388.62 L256.00,388.15 L256.20,387.10 L256.40,384.72 L256.60,380.18 L256.80,373.62 L257.00,367.28 L257.20,364.59 L257.40,367.28 L257.60,373.62 L257.80,380.17 L258.00,384.72 L258.20,387.09 L258.40,388.14 L258.60,388.59 L258.80,388.80 L259.00,388.87 L259.20,388.82 L259.40,388.65 L259.60,388.32 L259.80,387.70 L260.00,386.35 L260.20,383.33 L260.40,377.55 L260.60,369.24 L260.80,361.20 L261.00,357.79 L261.20,361.19 L261.40,369.22 L261.60,377.52 L261.80,383.26 L262.00,386.23 L262.20,387.50 L262.40,388.00 L262.60,388.15 L262.80,388.10 L263.00,387.84 L263.20,387.37 L263.40,386.56 L263.60,384.94 L263.80,381.28 L264.00,373.58 L264.20,360.67 L264.40,345.12 L264.60,333.98 L264.80,333.98 L265.00,345.10 L265.20,360.64 L265.40,373.52 L265.60,381.16 L265.80,384.72 L266.00,386.19 L266.20,386.76 L266.40,386.89 L266.60,386.66 L266.80,386.08 L267.00,385.09 L267.20,383.46 L267.40,380.29 L267.60,373.20 L267.80,358.31 L268.00,333.34 L268.20,303.28 L268.40,281.76 L268.60,281.75 L268.80,303.24 L269.00,333.25 L269.20,358.13 L269.40,372.87 L269.60,379.72 L269.80,382.50 L270.00,383.53 L270.20,383.66 L270.40,383.06 L270.60,381.71 L270.80,379.51 L271.00,375.97 L271.20,369.11 L271.40,353.79 L271.60,321.67 L271.80,267.83 L272.00,222.50 L272.20,222.50 L272.40,222.50 L272.60,222.50 L272.80,267.87 L273.00,321.75 L273.20,353.93 L273.40,369.36 L273.60,376.38 L273.80,380.18 L274.00,382.74 L274.20,384.58 L274.40,385.83 L274.60,386.54 L274.80,386.77 L275.00,386.39 L275.20,384.90 L275.40,381.12 L275.60,373.71 L275.80,362.93 L276.00,352.50 L276.20,348.09 L276.40,352.53 L276.60,362.99 L276.80,373.83 L277.00,381.36 L277.20,385.33 L277.40,387.14 L277.60,388.03 L277.80,388.59 L278.00,389.00 L278.20,389.32 L278.40,389.55 L278.60,389.72 L278.80,389.83 L279.00,389.90 L279.20,389.94 L279.40,389.97 L279.60,389.98 L279.80,389.99 L280.00,390.00 L280.20,390.00 L280.40,390.00 L280.60,390.00 L280.80,390.00 L281.00,390.00 L281.20,390.00 L281.40,390.00 L281.60,390.00 L281.80,390.00 L282.00,390.00 L282.20,390.00 L282.40,390.00 L282.60,390.00 L282.80,390.00 L283.00,390.00 L283.20,390.00 L283.40,390.00 L283.60,390.00 L283.80,390.00 L284.00,390.00 L284.20,390.00 L284.40,390.00 L284.60,390.00 L284.80,390.00 L285.00,390.00 L285.20,390.00 L285.40,390.00 L285.60,390.00 L285.80,390.00 L286.00,390.00 L286.20,390.00 L286.40,390.00 L286.60,390.00 L286.80,390.00 L287.00,390.00 L287.20,390.00 L287.40,390.00 L287.60,390.00 L287.80,390.00 L288.00,390.00 L288.20,390.00 L288.40,390.00 L288.60,390.00 L288.80,390.00 L289.00,390.00 L289.20,390.00 L289.40,390.00 L289.60,390.00 L289.80,390.00 L290.00,390.00 L290.20,390.00 L290.40,390.00 L290.60,390.00 L290.80,390.00 L291.00,390.00 L291.20,390.00 L291.40,390.00 L291.60,390.00 L291.80,390.00 L292.00,390.00 L292.20,390.00 L292.40,390.00 L292.60,390.00 L292.80,390.00 L293.00,390.00 L293.20,390.00 L293.40,390.00 L293.60,390.00 L293.80,390.00 L294.00,390.00 L294.20,390.00 L294.40,390.00 L294.60,390.00 L294.80,390.00 L295.00,390.00 L295.20,390.00 L295.40,390.00 L295.60,390.00 L295.80,390.00 L296.00,390.00 L296.20,390.00 L296.40,390.00 L296.60,390.00 L296.80,390.00 L297.00,390.00 L297.20,390.00 L297.40,390.00 L297.60,390.00 L297.80,390.00 L298.00,390.00 L298.20,390.00 L298.40,390.00 L298.60,390.00 L298.80,390.00 L299.00,390.00 L299.20,390.00 L299.40,390.00 L299.60,390.00 L299.80,390.00 L300.00,390.00 L300.20,390.00 L300.40,390.00 L300.60,390.00 L300.80,390.00 L301.00,390.00 L301.20,390.00 L301.40,390.00 L301.60,390.00 L301.80,390.00 L302.00,390.00 L302.20,390.00 L302.40,390.00 L302.60,390.00 L302.80,390.00 L303.00,390.00 L303.20,390.00 L303.40,390.00 L303.60,390.00 L303.80,390.00 L304.00,390.00 L304.20,390.00 L304.40,390.00 L304.60,390.00 L304.80,390.00 L305.00,390.00 L305.20,390.00 L305.40,390.00 L305.60,390.00 L305.80,390.00 L306.00,390.00 L306.20,390.00 L306.40,390.00 L306.60,390.00 L306.80,390.00 L307.00,390.00 L307.20,390.00 L307.40,390.00 L307.60,390.00 L307.80,390.00 L308.00,390.00 L308.20,390.00 L308.40,390.00 L308.60,390.00 L308.80,390.00 L309.00,390.00 L309.20,390.00 L309.40,390.00 L309.60,390.00 L309.80,390.00 L310.00,390.00 L310.20,390.00 L310.40,390.00 L310.60,390.00 L310.80,390.00 L311.00,390.00 L311.20,390.00 L311.40,390.00 L311.60,390.00 L311.80,390.00 L312.00,390.00 L312.20,390.00 L312.40,390.00 L312.60,390.00 L312.80,390.00 L313.00,390.00 L313.20,390.00 L313.40,390.00 L313.60,390.00 L313.80,390.00 L314.00,390.00 L314.20,390.00 L314.40,390.00 L314.60,390.00 L314.80,390.00 L315.00,390.00 L315.20,390.00 L315.40,390.00 L315.60,390.00 L315.80,390.00 L316.00,390.00 L316.20,390.00 L316.40,390.00 L316.60,390.00 L316.80,390.00 L317.00,390.00 L317.20,390.00 L317.40,390.00 L317.60,390.00 L317.80,390.00 L318.00,390.00 L318.20,390.00 L318.40,390.00 L318.60,390.00 L318.80,390.00 L319.00,390.00 L319.20,390.00 L319.40,390.00 L319.60,390.00 L319.80,390.00 L320.00,390.00 L320.20,390.00 L320.40,390.00 L320.60,390.00 L320.80,390.00 L321.00,390.00 L321.20,390.00 L321.40,390.00 L321.60,390.00 L321.80,390.00 L322.00,390.00 L322.20,390.00 L322.40,390.00 L322.60,390.00 L322.80,390.00 L323.00,390.00 L323.20,390.00 L323.40,390.00 L323.60,390.00 L323.80,390.00 L324.00,390.00 L324.20,390.00 L324.40,390.00 L324.60,390.00 L324.80,390.00" fill="none" stroke="#bcbcbc" stroke-width="0.7"/>
<line x1="26.30" y1="363.10" x2="26.30" y2="389.00" stroke="#b8b8b8" stroke-width="0.85"/>
<text x="0" y="0" transform="translate(26.30,360.70) scale(0.15000,0.25)" font-family="'Liberation Sans', sans-serif" font-size="15.2" font-weight="bold" fill="#8c8c8c" text-anchor="middle" >1</text>
<line x1="30.00" y1="337.70" x2="30.00" y2="389.00" stroke="#b8b8b8" stroke-width="0.85"/>
<text x="0" y="0" transform="translate(30.00,335.30) scale(0.15000,0.25)" font-family="'Liberation Sans', sans-serif" font-size="15.2" font-weight="bold" fill="#8c8c8c" text-anchor="middle" >2</text>
<line x1="33.80" y1="312.30" x2="33.80" y2="389.00" stroke="#b8b8b8" stroke-width="0.85"/>
<text x="0" y="0" transform="translate(33.80,309.90) scale(0.15000,0.25)" font-family="'Liberation Sans', sans-serif" font-size="15.2" font-weight="bold" fill="#8c8c8c" text-anchor="middle" >3</text>
<line x1="37.50" y1="353.30" x2="37.50" y2="389.00" stroke="#b8b8b8" stroke-width="0.85"/>
<text x="0" y="0" transform="translate(37.50,350.90) scale(0.15000,0.25)" font-family="'Liberation Sans', sans-serif" font-size="15.2" font-weight="bold" fill="#8c8c8c" text-anchor="middle" >4</text>
<line x1="40.90" y1="310.80" x2="40.90" y2="389.00" stroke="#b8b8b8" stroke-width="0.85"/>
<text x="0" y="0" transform="translate(40.90,308.40) scale(0.15000,0.25)" font-family="'Liberation Sans', sans-serif" font-size="15.2" font-weight="bold" fill="#8c8c8c" text-anchor="middle" >5</text>
<line x1="44.60" y1="318.50" x2="44.60" y2="389.00" stroke="#b8b8b8" stroke-width="0.85"/>
<text x="0" y="0" transform="translate(44.60,316.10) scale(0.15000,0.25)" font-family="'Liberation Sans', sans-serif" font-size="15.2" font-weight="bold" fill="#8c8c8c" text-anchor="middle" >6</text>
<line x1="48.40" y1="351.10" x2="48.40" y2="389.00" stroke="#b8b8b8" stroke-width="0.85"/>
<text x="0" y="0" transform="translate(48.40,348.70) scale(0.15000,0.25)" font-family="'Liberation Sans', sans-serif" font-size="15.2" font-weight="bold" fill="#8c8c8c" text-anchor="middle" >7</text>
<line x1="52.10" y1="302.00" x2="52.10" y2="389.00" stroke="#b8b8b8" stroke-width="0.85"/>
<text x="0" y="0" transform="translate(52.10,299.60) scale(0.15000,0.25)" font-family="'Liberation Sans', sans-serif" font-size="15.2" font-weight="bold" fill="#8c8c8c" text-anchor="middle" >8</text>
<line x1="55.90" y1="337.70" x2="55.90" y2="389.00" stroke="#b8b8b8" stroke-width="0.85"/>
<text x="0" y="0" transform="translate(55.90,335.30) scale(0.15000,0.25)" font-family="'Liberation Sans', sans-serif" font-size="15.2" font-weight="bold" fill="#8c8c8c" text-anchor="middle" >9</text>
<line x1="59.60" y1="359.30" x2="59.60" y2="389.00" stroke="#b8b8b8" stroke-width="0.85"/>
<text x="0" y="0" transform="translate(59.60,356.90) scale(0.15000,0.25)" font-family="'Liberation Sans', sans-serif" font-size="15.2" font-weight="bold" fill="#8c8c8c" text-anchor="middle" >10</text>
<line x1="63.30" y1="368.50" x2="63.30" y2="389.00" stroke="#b8b8b8" stroke-width="0.85"/>
<text x="0" y="0" transform="translate(63.30,366.10) scale(0.15000,0.25)" font-family="'Liberation Sans', sans-serif" font-size="15.2" font-weight="bold" fill="#8c8c8c" text-anchor="middle" >11</text>
<line x1="67.50" y1="271.20" x2="67.50" y2="389.00" stroke="#b8b8b8" stroke-width="0.85"/>
<text x="0" y="0" transform="translate(67.50,268.80) scale(0.15000,0.25)" font-family="'Liberation Sans', sans-serif" font-size="15.2" font-weight="bold" fill="#8c8c8c" text-anchor="middle" >12</text>
<line x1="70.80" y1="330.90" x2="70.80" y2="389.00" stroke="#b8b8b8" stroke-width="0.85"/>
<text x="0" y="0" transform="translate(70.80,328.50) scale(0.15000,0.25)" font-family="'Liberation Sans', sans-serif" font-size="15.2" font-weight="bold" fill="#8c8c8c" text-anchor="middle" >13</text>
<line x1="74.30" y1="375.40" x2="74.30" y2="389.00" stroke="#b8b8b8" stroke-width="0.85"/>
<text x="0" y="0" transform="translate(74.30,373.00) scale(0.15000,0.25)" font-family="'Liberation Sans', sans-serif" font-size="15.2" font-weight="bold" fill="#8c8c8c" text-anchor="middle" >14</text>
<line x1="78.30" y1="316.00" x2="78.30" y2="389.00" stroke="#b8b8b8" stroke-width="0.85"/>
<text x="0" y="0" transform="translate(78.30,313.60) scale(0.15000,0.25)" font-family="'Liberation Sans', sans-serif" font-size="15.2" font-weight="bold" fill="#8c8c8c" text-anchor="middle" >15</text>
<line x1="82.00" y1="347.40" x2="82.00" y2="389.00" stroke="#b8b8b8" stroke-width="0.85"/>
<text x="0" y="0" transform="translate(82.00,345.00) scale(0.15000,0.25)" font-family="'Liberation Sans', sans-serif" font-size="15.2" font-weight="bold" fill="#8c8c8c" text-anchor="middle" >16</text>
<line x1="85.70" y1="310.80" x2="85.70" y2="389.00" stroke="#b8b8b8" stroke-width="0.85"/>
<text x="0" y="0" transform="translate(85.70,308.40) scale(0.15000,0.25)" font-family="'Liberation Sans', sans-serif" font-size="15.2" font-weight="bold" fill="#8c8c8c" text-anchor="middle" >17</text>
<line x1="89.50" y1="320.00" x2="89.50" y2="389.00" stroke="#b8b8b8" stroke-width="0.85"/>
<text x="0" y="0" transform="translate(89.50,317.60) scale(0.15000,0.25)" font-family="'Liberation Sans', sans-serif" font-size="15.2" font-weight="bold" fill="#8c8c8c" text-anchor="middle" >18</text>
<line x1="93.20" y1="335.40" x2="93.20" y2="389.00" stroke="#b8b8b8" stroke-width="0.85"/>
<text x="0" y="0" transform="translate(93.20,333.00) scale(0.15000,0.25)" font-family="'Liberation Sans', sans-serif" font-size="15.2" font-weight="bold" fill="#8c8c8c" text-anchor="middle" >19</text>
<line x1="97.00" y1="320.00" x2="97.00" y2="389.00" stroke="#b8b8b8" stroke-width="0.85"/>
<text x="0" y="0" transform="translate(97.00,317.60) scale(0.15000,0.25)" font-family="'Liberation Sans', sans-serif" font-size="15.2" font-weight="bold" fill="#8c8c8c" text-anchor="middle" >20</text>
<line x1="100.70" y1="368.00" x2="100.70" y2="389.00" stroke="#b8b8b8" stroke-width="0.85"/>
<text x="0" y="0" transform="translate(100.70,365.60) scale(0.15000,0.25)" font-family="'Liberation Sans', sans-serif" font-size="15.2" font-weight="bold" fill="#8c8c8c" text-anchor="middle" >21</text>
<line x1="104.50" y1="278.70" x2="104.50" y2="389.00" stroke="#b8b8b8" stroke-width="0.85"/>
<text x="0" y="0" transform="translate(104.50,276.30) scale(0.15000,0.25)" font-family="'Liberation Sans', sans-serif" font-size="15.2" font-weight="bold" fill="#8c8c8c" text-anchor="middle" >22</text>
<line x1="108.20" y1="351.10" x2="108.20" y2="389.00" stroke="#b8b8b8" stroke-width="0.85"/>
<text x="0" y="0" transform="translate(108.20,348.70) scale(0.15000,0.25)" font-family="'Liberation Sans', sans-serif" font-size="15.2" font-weight="bold" fill="#8c8c8c" text-anchor="middle" >23</text>
<line x1="111.90" y1="360.50" x2="111.90" y2="389.00" stroke="#b8b8b8" stroke-width="0.85"/>
<text x="0" y="0" transform="translate(111.90,358.10) scale(0.15000,0.25)" font-family="'Liberation Sans', sans-serif" font-size="15.2" font-weight="bold" fill="#8c8c8c" text-anchor="middle" >24</text>
<line x1="115.70" y1="303.30" x2="115.70" y2="389.00" stroke="#b8b8b8" stroke-width="0.85"/>
<text x="0" y="0" transform="translate(115.70,300.90) scale(0.15000,0.25)" font-family="'Liberation Sans', sans-serif" font-size="15.2" font-weight="bold" fill="#8c8c8c" text-anchor="middle" >25</text>
<line x1="126.70" y1="357.80" x2="126.70" y2="389.00" stroke="#b8b8b8" stroke-width="0.85"/>
<text x="0" y="0" transform="translate(126.70,355.40) scale(0.15000,0.25)" font-family="'Liberation Sans', sans-serif" font-size="15.2" font-weight="bold" fill="#8c8c8c" text-anchor="middle" >26</text>
<line x1="130.50" y1="349.20" x2="130.50" y2="389.00" stroke="#b8b8b8" stroke-width="0.85"/>
<text x="0" y="0" transform="translate(130.50,346.80) scale(0.15000,0.25)" font-family="'Liberation Sans', sans-serif" font-size="15.2" font-weight="bold" fill="#8c8c8c" text-anchor="middle" >27</text>
<line x1="134.20" y1="363.10" x2="134.20" y2="389.00" stroke="#b8b8b8" stroke-width="0.85"/>
<text x="0" y="0" transform="translate(134.20,360.70) scale(0.15000,0.25)" font-family="'Liberation Sans', sans-serif" font-size="15.2" font-weight="bold" fill="#8c8c8c" text-anchor="middle" >28</text>
<line x1="138.00" y1="275.00" x2="138.00" y2="389.00" stroke="#b8b8b8" stroke-width="0.85"/>
<text x="0" y="0" transform="translate(138.00,272.60) scale(0.15000,0.25)" font-family="'Liberation Sans', sans-serif" font-size="15.2" font-weight="bold" fill="#8c8c8c" text-anchor="middle" >29</text>
<line x1="141.70" y1="351.60" x2="141.70" y2="389.00" stroke="#b8b8b8" stroke-width="0.85"/>
<text x="0" y="0" transform="translate(141.70,349.20) scale(0.15000,0.25)" font-family="'Liberation Sans', sans-serif" font-size="15.2" font-weight="bold" fill="#8c8c8c" text-anchor="middle" >30</text>
<line x1="145.40" y1="342.90" x2="145.40" y2="389.00" stroke="#b8b8b8" stroke-width="0.85"/>
<text x="0" y="0" transform="translate(145.40,340.50) scale(0.15000,0.25)" font-family="'Liberation Sans', sans-serif" font-size="15.2" font-weight="bold" fill="#8c8c8c" text-anchor="middle" >31</text>
<line x1="149.20" y1="366.80" x2="149.20" y2="389.00" stroke="#b8b8b8" stroke-width="0.85"/>
<text x="0" y="0" transform="translate(149.20,364.40) scale(0.15000,0.25)" font-family="'Liberation Sans', sans-serif" font-size="15.2" font-weight="bold" fill="#8c8c8c" text-anchor="middle" >32</text>
<line x1="152.90" y1="351.10" x2="152.90" y2="389.00" stroke="#b8b8b8" stroke-width="0.85"/>
<text x="0" y="0" transform="translate(152.90,348.70) scale(0.15000,0.25)" font-family="'Liberation Sans', sans-serif" font-size="15.2" font-weight="bold" fill="#8c8c8c" text-anchor="middle" >33</text>
<line x1="156.60" y1="327.20" x2="156.60" y2="389.00" stroke="#b8b8b8" stroke-width="0.85"/>
<text x="0" y="0" transform="translate(156.60,324.80) scale(0.15000,0.25)" font-family="'Liberation Sans', sans-serif" font-size="15.2" font-weight="bold" fill="#8c8c8c" text-anchor="middle" >34</text>
<line x1="160.40" y1="336.20" x2="160.40" y2="389.00" stroke="#b8b8b8" stroke-width="0.85"/>
<text x="0" y="0" transform="translate(160.40,333.80) scale(0.15000,0.25)" font-family="'Liberation Sans', sans-serif" font-size="15.2" font-weight="bold" fill="#8c8c8c" text-anchor="middle" >35</text>
<line x1="164.10" y1="340.60" x2="164.10" y2="389.00" stroke="#b8b8b8" stroke-width="0.85"/>
<text x="0" y="0" transform="translate(164.10,338.20) scale(0.15000,0.25)" font-family="'Liberation Sans', sans-serif" font-size="15.2" font-weight="bold" fill="#8c8c8c" text-anchor="middle" >36</text>
<line x1="167.80" y1="330.90" x2="167.80" y2="389.00" stroke="#b8b8b8" stroke-width="0.85"/>
<text x="0" y="0" transform="translate(167.80,328.50) scale(0.15000,0.25)" font-family="'Liberation Sans', sans-serif" font-size="15.2" font-weight="bold" fill="#8c8c8c" text-anchor="middle" >37</text>
<line x1="171.60" y1="351.90" x2="171.60" y2="389.00" stroke="#b8b8b8" stroke-width="0.85"/>
<text x="0" y="0" transform="translate(171.60,349.50) scale(0.15000,0.25)" font-family="'Liberation Sans', sans-serif" font-size="15.2" font-weight="bold" fill="#8c8c8c" text-anchor="middle" >38</text>
<line x1="175.30" y1="357.50" x2="175.30" y2="389.00" stroke="#b8b8b8" stroke-width="0.85"/>
<text x="0" y="0" transform="translate(175.30,355.10) scale(0.15000,0.25)" font-family="'Liberation Sans', sans-serif" font-size="15.2" font-weight="bold" fill="#8c8c8c" text-anchor="middle" >39</text>
<line x1="179.10" y1="321.50" x2="179.10" y2="389.00" stroke="#b8b8b8" stroke-width="0.85"/>
<text x="0" y="0" transform="translate(179.10,319.10) scale(0.15000,0.25)" font-family="'Liberation Sans', sans-serif" font-size="15.2" font-weight="bold" fill="#8c8c8c" text-anchor="middle" >40</text>
<line x1="182.80" y1="360.10" x2="182.80" y2="389.00" stroke="#b8b8b8" stroke-width="0.85"/>
<text x="0" y="0" transform="translate(182.80,357.70) scale(0.15000,0.25)" font-family="'Liberation Sans', sans-serif" font-size="15.2" font-weight="bold" fill="#8c8c8c" text-anchor="middle" >41</text>
<line x1="186.50" y1="315.20" x2="186.50" y2="389.00" stroke="#b8b8b8" stroke-width="0.85"/>
<text x="0" y="0" transform="translate(186.50,312.80) scale(0.15000,0.25)" font-family="'Liberation Sans', sans-serif" font-size="15.2" font-weight="bold" fill="#8c8c8c" text-anchor="middle" >42</text>
<line x1="190.40" y1="295.90" x2="190.40" y2="389.00" stroke="#b8b8b8" stroke-width="0.85"/>
<text x="0" y="0" transform="translate(190.40,293.50) scale(0.15000,0.25)" font-family="'Liberation Sans', sans-serif" font-size="15.2" font-weight="bold" fill="#8c8c8c" text-anchor="middle" >43</text>
<line x1="194.00" y1="310.80" x2="194.00" y2="389.00" stroke="#b8b8b8" stroke-width="0.85"/>
<text x="0" y="0" transform="translate(194.00,308.40) scale(0.15000,0.25)" font-family="'Liberation Sans', sans-serif" font-size="15.2" font-weight="bold" fill="#8c8c8c" text-anchor="middle" >44</text>
<line x1="197.70" y1="318.50" x2="197.70" y2="389.00" stroke="#b8b8b8" stroke-width="0.85"/>
<text x="0" y="0" transform="translate(197.70,316.10) scale(0.15000,0.25)" font-family="'Liberation Sans', sans-serif" font-size="15.2" font-weight="bold" fill="#8c8c8c" text-anchor="middle" >45</text>
<line x1="201.50" y1="295.10" x2="201.50" y2="389.00" stroke="#b8b8b8" stroke-width="0.85"/>
<text x="0" y="0" transform="translate(201.50,292.70) scale(0.15000,0.25)" font-family="'Liberation Sans', sans-serif" font-size="15.2" font-weight="bold" fill="#8c8c8c" text-anchor="middle" >46</text>
<line x1="205.20" y1="371.30" x2="205.20" y2="389.00" stroke="#b8b8b8" stroke-width="0.85"/>
<text x="0" y="0" transform="translate(205.20,368.90) scale(0.15000,0.25)" font-family="'Liberation Sans', sans-serif" font-size="15.2" font-weight="bold" fill="#8c8c8c" text-anchor="middle" >47</text>
<line x1="209.00" y1="310.80" x2="209.00" y2="389.00" stroke="#b8b8b8" stroke-width="0.85"/>
<text x="0" y="0" transform="translate(209.00,308.40) scale(0.15000,0.25)" font-family="'Liberation Sans', sans-serif" font-size="15.2" font-weight="bold" fill="#8c8c8c" text-anchor="middle" >48</text>
<line x1="212.70" y1="332.10" x2="212.70" y2="389.00" stroke="#b8b8b8" stroke-width="0.85"/>
<text x="0" y="0" transform="translate(212.70,329.70) scale(0.15000,0.25)" font-family="'Liberation Sans', sans-serif" font-size="15.2" font-weight="bold" fill="#8c8c8c" text-anchor="middle" >49</text>
<line x1="216.40" y1="367.50" x2="216.40" y2="389.00" stroke="#b8b8b8" stroke-width="0.85"/>
<text x="0" y="0" transform="translate(216.40,365.10) scale(0.15000,0.25)" font-family="'Liberation Sans', sans-serif" font-size="15.2" font-weight="bold" fill="#8c8c8c" text-anchor="middle" >50</text>
<line x1="220.20" y1="316.00" x2="220.20" y2="389.00" stroke="#b8b8b8" stroke-width="0.85"/>
<text x="0" y="0" transform="translate(220.20,313.60) scale(0.15000,0.25)" font-family="'Liberation Sans', sans-serif" font-size="15.2" font-weight="bold" fill="#8c8c8c" text-anchor="middle" >51</text>
<line x1="223.90" y1="349.60" x2="223.90" y2="389.00" stroke="#b8b8b8" stroke-width="0.85"/>
<text x="0" y="0" transform="translate(223.90,347.20) scale(0.15000,0.25)" font-family="'Liberation Sans', sans-serif" font-size="15.2" font-weight="bold" fill="#8c8c8c" text-anchor="middle" >52</text>
<line x1="227.70" y1="331.70" x2="227.70" y2="389.00" stroke="#b8b8b8" stroke-width="0.85"/>
<text x="0" y="0" transform="translate(227.70,329.30) scale(0.15000,0.25)" font-family="'Liberation Sans', sans-serif" font-size="15.2" font-weight="bold" fill="#8c8c8c" text-anchor="middle" >53</text>
<line x1="231.40" y1="351.90" x2="231.40" y2="389.00" stroke="#b8b8b8" stroke-width="0.85"/>
<text x="0" y="0" transform="translate(231.40,349.50) scale(0.15000,0.25)" font-family="'Liberation Sans', sans-serif" font-size="15.2" font-weight="bold" fill="#8c8c8c" text-anchor="middle" >54</text>
<line x1="235.10" y1="360.10" x2="235.10" y2="389.00" stroke="#b8b8b8" stroke-width="0.85"/>
<text x="0" y="0" transform="translate(235.10,357.70) scale(0.15000,0.25)" font-family="'Liberation Sans', sans-serif" font-size="15.2" font-weight="bold" fill="#8c8c8c" text-anchor="middle" >55</text>
<line x1="238.90" y1="366.80" x2="238.90" y2="389.00" stroke="#b8b8b8" stroke-width="0.85"/>
<text x="0" y="0" transform="translate(238.90,364.40) scale(0.15000,0.25)" font-family="'Liberation Sans', sans-serif" font-size="15.2" font-weight="bold" fill="#8c8c8c" text-anchor="middle" >56</text>
<line x1="242.60" y1="371.30" x2="242.60" y2="389.00" stroke="#b8b8b8" stroke-width="0.85"/>
<text x="0" y="0" transform="translate(242.60,368.90) scale(0.15000,0.25)" font-family="'Liberation Sans', sans-serif" font-size="15.2" font-weight="bold" fill="#8c8c8c" text-anchor="middle" >57</text>
<line x1="246.30" y1="310.80" x2="246.30" y2="389.00" stroke="#b8b8b8" stroke-width="0.85"/>
<text x="0" y="0" transform="translate(246.30,308.40) scale(0.15000,0.25)" font-family="'Liberation Sans', sans-serif" font-size="15.2" font-weight="bold" fill="#8c8c8c" text-anchor="middle" >58</text>
<line x1="250.10" y1="278.70" x2="250.10" y2="389.00" stroke="#b8b8b8" stroke-width="0.85"/>
<text x="0" y="0" transform="translate(250.10,276.30) scale(0.15000,0.25)" font-family="'Liberation Sans', sans-serif" font-size="15.2" font-weight="bold" fill="#8c8c8c" text-anchor="middle" >59</text>
<line x1="253.50" y1="368.30" x2="253.50" y2="389.00" stroke="#b8b8b8" stroke-width="0.85"/>
<text x="0" y="0" transform="translate(253.50,365.90) scale(0.15000,0.25)" font-family="'Liberation Sans', sans-serif" font-size="15.2" font-weight="bold" fill="#8c8c8c" text-anchor="middle" >60</text>
<line x1="257.20" y1="364.60" x2="257.20" y2="389.00" stroke="#b8b8b8" stroke-width="0.85"/>
<text x="0" y="0" transform="translate(257.20,362.20) scale(0.15000,0.25)" font-family="'Liberation Sans', sans-serif" font-size="15.2" font-weight="bold" fill="#8c8c8c" text-anchor="middle" >61</text>
<line x1="261.00" y1="357.80" x2="261.00" y2="389.00" stroke="#b8b8b8" stroke-width="0.85"/>
<text x="0" y="0" transform="translate(261.00,355.40) scale(0.15000,0.25)" font-family="'Liberation Sans', sans-serif" font-size="15.2" font-weight="bold" fill="#8c8c8c" text-anchor="middle" >62</text>
<line x1="264.70" y1="332.40" x2="264.70" y2="389.00" stroke="#b8b8b8" stroke-width="0.85"/>
<text x="0" y="0" transform="translate(264.70,330.00) scale(0.15000,0.25)" font-family="'Liberation Sans', sans-serif" font-size="15.2" font-weight="bold" fill="#8c8c8c" text-anchor="middle" >63</text>
<line x1="268.50" y1="278.70" x2="268.50" y2="389.00" stroke="#b8b8b8" stroke-width="0.85"/>
<text x="0" y="0" transform="translate(268.50,276.30) scale(0.15000,0.25)" font-family="'Liberation Sans', sans-serif" font-size="15.2" font-weight="bold" fill="#8c8c8c" text-anchor="middle" >64</text>
<line x1="272.30" y1="222.70" x2="272.30" y2="389.00" stroke="#b8b8b8" stroke-width="0.85"/>
<rect x="265.50" y="228.40" width="2.2" height="2.2" fill="#8a8a8a"/>
<line x1="268.10" y1="230.60" x2="270.80" y2="226.20" stroke="#c8c8c8" stroke-width="0.6"/>
<line x1="276.20" y1="348.10" x2="276.20" y2="389.00" stroke="#b8b8b8" stroke-width="0.85"/>
<text x="0" y="0" transform="translate(276.20,345.70) scale(0.15000,0.25)" font-family="'Liberation Sans', sans-serif" font-size="15.2" font-weight="bold" fill="#8c8c8c" text-anchor="middle" >66</text>
<text x="0" y="0" transform="translate(29.00,246.00) scale(0.17000,0.25)" font-family="'Liberation Serif', serif" font-size="70" font-weight="bold" fill="#111" text-anchor="start" stroke="#111" stroke-width="3">C</text>
</g>
<g id="D">
<rect x="345.0" y="210.2" width="322.6" height="202.10000000000002" fill="none" stroke="#9c9c9c" stroke-width="1.5"/>
<rect x="359.3" y="222.4" width="305.2" height="166.4" fill="none" stroke="#a8a8a8" stroke-width="1"/>
<text x="0" y="0" transform="translate(363.40,219.40) scale(0.12500,0.25)" font-family="'Liberation Sans', sans-serif" font-size="19.2" font-weight="bold" fill="#222" text-anchor="start" stroke="#222" stroke-width="0.6">Chr LCMS, Sample ID: SD Hex-1</text>
<text x="0" y="0" transform="translate(357.00,223.90) scale(0.13750,0.25)" font-family="'Liberation Sans', sans-serif" font-size="16.8" font-weight="bold" fill="#666" text-anchor="end" stroke="#666" stroke-width="0.5">1500</text>
<text x="0" y="0" transform="translate(357.00,257.20) scale(0.13750,0.25)" font-family="'Liberation Sans', sans-serif" font-size="16.8" font-weight="bold" fill="#666" text-anchor="end" stroke="#666" stroke-width="0.5">1250</text>
<text x="0" y="0" transform="translate(357.00,290.50) scale(0.13750,0.25)" font-family="'Liberation Sans', sans-serif" font-size="16.8" font-weight="bold" fill="#666" text-anchor="end" stroke="#666" stroke-width="0.5">1000</text>
<text x="0" y="0" transform="translate(357.00,323.80) scale(0.13750,0.25)" font-family="'Liberation Sans', sans-serif" font-size="16.8" font-weight="bold" fill="#666" text-anchor="end" stroke="#666" stroke-width="0.5">750</text>
<text x="0" y="0" transform="translate(357.00,357.10) scale(0.13750,0.25)" font-family="'Liberation Sans', sans-serif" font-size="16.8" font-weight="bold" fill="#666" text-anchor="end" stroke="#666" stroke-width="0.5">500</text>
<text x="0" y="0" transform="translate(357.00,390.30) scale(0.13750,0.25)" font-family="'Liberation Sans', sans-serif" font-size="16.8" font-weight="bold" fill="#666" text-anchor="end" stroke="#666" stroke-width="0.5">0</text>
<line x1="357.80" y1="388.80" x2="359.30" y2="388.80" stroke="#bbbbbb" stroke-width="0.6"/>
<line x1="357.80" y1="383.25" x2="359.30" y2="383.25" stroke="#bbbbbb" stroke-width="0.6"/>
<line x1="357.80" y1="377.71" x2="359.30" y2="377.71" stroke="#bbbbbb" stroke-width="0.6"/>
<line x1="357.80" y1="372.16" x2="359.30" y2="372.16" stroke="#bbbbbb" stroke-width="0.6"/>
<line x1="357.80" y1="366.61" x2="359.30" y2="366.61" stroke="#bbbbbb" stroke-width="0.6"/>
<line x1="357.80" y1="361.07" x2="359.30" y2="361.07" stroke="#bbbbbb" stroke-width="0.6"/>
<line x1="357.80" y1="355.52" x2="359.30" y2="355.52" stroke="#bbbbbb" stroke-width="0.6"/>
<line x1="357.80" y1="349.97" x2="359.30" y2="349.97" stroke="#bbbbbb" stroke-width="0.6"/>
<line x1="357.80" y1="344.43" x2="359.30" y2="344.43" stroke="#bbbbbb" stroke-width="0.6"/>
<line x1="357.80" y1="338.88" x2="359.30" y2="338.88" stroke="#bbbbbb" stroke-width="0.6"/>
<line x1="357.80" y1="333.33" x2="359.30" y2="333.33" stroke="#bbbbbb" stroke-width="0.6"/>
<line x1="357.80" y1="327.79" x2="359.30" y2="327.79" stroke="#bbbbbb" stroke-width="0.6"/>
<line x1="357.80" y1="322.24" x2="359.30" y2="322.24" stroke="#bbbbbb" stroke-width="0.6"/>
<line x1="357.80" y1="316.69" x2="359.30" y2="316.69" stroke="#bbbbbb" stroke-width="0.6"/>
<line x1="357.80" y1="311.15" x2="359.30" y2="311.15" stroke="#bbbbbb" stroke-width="0.6"/>
<line x1="357.80" y1="305.60" x2="359.30" y2="305.60" stroke="#bbbbbb" stroke-width="0.6"/>
<line x1="357.80" y1="300.05" x2="359.30" y2="300.05" stroke="#bbbbbb" stroke-width="0.6"/>
<line x1="357.80" y1="294.51" x2="359.30" y2="294.51" stroke="#bbbbbb" stroke-width="0.6"/>
<line x1="357.80" y1="288.96" x2="359.30" y2="288.96" stroke="#bbbbbb" stroke-width="0.6"/>
<line x1="357.80" y1="283.41" x2="359.30" y2="283.41" stroke="#bbbbbb" stroke-width="0.6"/>
<line x1="357.80" y1="277.87" x2="359.30" y2="277.87" stroke="#bbbbbb" stroke-width="0.6"/>
<line x1="357.80" y1="272.32" x2="359.30" y2="272.32" stroke="#bbbbbb" stroke-width="0.6"/>
<line x1="357.80" y1="266.77" x2="359.30" y2="266.77" stroke="#bbbbbb" stroke-width="0.6"/>
<line x1="357.80" y1="261.23" x2="359.30" y2="261.23" stroke="#bbbbbb" stroke-width="0.6"/>
<line x1="357.80" y1="255.68" x2="359.30" y2="255.68" stroke="#bbbbbb" stroke-width="0.6"/>
<line x1="357.80" y1="250.13" x2="359.30" y2="250.13" stroke="#bbbbbb" stroke-width="0.6"/>
<line x1="357.80" y1="244.59" x2="359.30" y2="244.59" stroke="#bbbbbb" stroke-width="0.6"/>
<line x1="357.80" y1="239.04" x2="359.30" y2="239.04" stroke="#bbbbbb" stroke-width="0.6"/>
<line x1="357.80" y1="233.49" x2="359.30" y2="233.49" stroke="#bbbbbb" stroke-width="0.6"/>
<line x1="357.80" y1="227.95" x2="359.30" y2="227.95" stroke="#bbbbbb" stroke-width="0.6"/>
<line x1="357.80" y1="222.40" x2="359.30" y2="222.40" stroke="#bbbbbb" stroke-width="0.6"/>
<rect x="362.40" y="391.70" width="1.4" height="3.6" fill="#999"/>
<rect x="362.50" y="396.20" width="1.2" height="1.1" fill="#8c8c8c"/>
<rect x="362.50" y="398.50" width="1.2" height="1.2" fill="#a0a0a0"/>
<rect x="365.70" y="391.70" width="1.4" height="3.6" fill="#999"/>
<rect x="365.80" y="396.20" width="1.2" height="1.1" fill="#8c8c8c"/>
<rect x="365.80" y="398.50" width="1.2" height="1.2" fill="#a0a0a0"/>
<rect x="369.00" y="391.70" width="1.4" height="3.6" fill="#999"/>
<rect x="369.10" y="396.20" width="1.2" height="1.1" fill="#8c8c8c"/>
<rect x="369.10" y="398.50" width="1.2" height="1.2" fill="#a0a0a0"/>
<rect x="372.30" y="391.70" width="1.4" height="3.6" fill="#999"/>
<rect x="372.40" y="396.20" width="1.2" height="1.1" fill="#8c8c8c"/>
<rect x="372.40" y="398.50" width="1.2" height="1.2" fill="#a0a0a0"/>
<rect x="375.60" y="391.70" width="1.4" height="3.6" fill="#999"/>
<rect x="375.70" y="396.20" width="1.2" height="1.1" fill="#8c8c8c"/>
<rect x="375.70" y="398.50" width="1.2" height="1.2" fill="#a0a0a0"/>
<rect x="378.90" y="391.70" width="1.4" height="3.6" fill="#999"/>
<rect x="379.00" y="396.20" width="1.2" height="1.1" fill="#8c8c8c"/>
<rect x="379.00" y="398.50" width="1.2" height="1.2" fill="#a0a0a0"/>
<rect x="382.20" y="391.70" width="1.4" height="3.6" fill="#999"/>
<rect x="382.30" y="396.20" width="1.2" height="1.1" fill="#8c8c8c"/>
<rect x="382.30" y="398.50" width="1.2" height="1.2" fill="#a0a0a0"/>
<rect x="385.50" y="391.70" width="1.4" height="3.6" fill="#999"/>
<rect x="385.60" y="396.20" width="1.2" height="1.1" fill="#8c8c8c"/>
<rect x="385.60" y="398.50" width="1.2" height="1.2" fill="#a0a0a0"/>
<rect x="388.80" y="391.70" width="1.4" height="3.6" fill="#999"/>
<rect x="388.90" y="396.20" width="1.2" height="1.1" fill="#8c8c8c"/>
<rect x="388.90" y="398.50" width="1.2" height="1.2" fill="#a0a0a0"/>
<rect x="392.10" y="391.70" width="1.4" height="3.6" fill="#999"/>
<rect x="392.20" y="396.20" width="1.2" height="1.1" fill="#8c8c8c"/>
<rect x="392.20" y="398.50" width="1.2" height="1.2" fill="#a0a0a0"/>
<rect x="395.40" y="391.70" width="1.4" height="3.6" fill="#999"/>
<rect x="395.50" y="396.20" width="1.2" height="1.1" fill="#8c8c8c"/>
<rect x="395.50" y="398.50" width="1.2" height="1.2" fill="#a0a0a0"/>
<rect x="398.70" y="391.70" width="1.4" height="3.6" fill="#999"/>
<rect x="398.80" y="396.20" width="1.2" height="1.1" fill="#8c8c8c"/>
<rect x="398.80" y="398.50" width="1.2" height="1.2" fill="#a0a0a0"/>
<rect x="402.00" y="391.70" width="1.4" height="3.6" fill="#999"/>
<rect x="402.10" y="396.20" width="1.2" height="1.1" fill="#8c8c8c"/>
<rect x="402.10" y="398.50" width="1.2" height="1.2" fill="#a0a0a0"/>
<rect x="405.30" y="391.70" width="1.4" height="3.6" fill="#999"/>
<rect x="405.40" y="396.20" width="1.2" height="1.1" fill="#8c8c8c"/>
<rect x="405.40" y="398.50" width="1.2" height="1.2" fill="#a0a0a0"/>
<rect x="408.60" y="391.70" width="1.4" height="3.6" fill="#999"/>
<rect x="408.70" y="396.20" width="1.2" height="1.1" fill="#8c8c8c"/>
<rect x="408.70" y="398.50" width="1.2" height="1.2" fill="#a0a0a0"/>
<rect x="411.90" y="391.70" width="1.4" height="3.6" fill="#999"/>
<rect x="412.00" y="396.20" width="1.2" height="1.1" fill="#8c8c8c"/>
<rect x="412.00" y="398.50" width="1.2" height="1.2" fill="#a0a0a0"/>
<rect x="415.20" y="391.70" width="1.4" height="3.6" fill="#999"/>
<rect x="415.30" y="396.20" width="1.2" height="1.1" fill="#8c8c8c"/>
<rect x="415.30" y="398.50" width="1.2" height="1.2" fill="#a0a0a0"/>
<rect x="418.50" y="391.70" width="1.4" height="3.6" fill="#999"/>
<rect x="418.60" y="396.20" width="1.2" height="1.1" fill="#8c8c8c"/>
<rect x="418.60" y="398.50" width="1.2" height="1.2" fill="#a0a0a0"/>
<rect x="421.80" y="391.70" width="1.4" height="3.6" fill="#999"/>
<rect x="421.90" y="396.20" width="1.2" height="1.1" fill="#8c8c8c"/>
<rect x="421.90" y="398.50" width="1.2" height="1.2" fill="#a0a0a0"/>
<rect x="425.10" y="391.70" width="1.4" height="3.6" fill="#999"/>
<rect x="425.20" y="396.20" width="1.2" height="1.1" fill="#8c8c8c"/>
<rect x="425.20" y="398.50" width="1.2" height="1.2" fill="#a0a0a0"/>
<rect x="428.40" y="391.70" width="1.4" height="3.6" fill="#999"/>
<rect x="428.50" y="396.20" width="1.2" height="1.1" fill="#8c8c8c"/>
<rect x="428.50" y="398.50" width="1.2" height="1.2" fill="#a0a0a0"/>
<rect x="431.70" y="391.70" width="1.4" height="3.6" fill="#999"/>
<rect x="431.80" y="396.20" width="1.2" height="1.1" fill="#8c8c8c"/>
<rect x="431.80" y="398.50" width="1.2" height="1.2" fill="#a0a0a0"/>
<rect x="435.00" y="391.70" width="1.4" height="3.6" fill="#999"/>
<rect x="435.10" y="396.20" width="1.2" height="1.1" fill="#8c8c8c"/>
<rect x="435.10" y="398.50" width="1.2" height="1.2" fill="#a0a0a0"/>
<rect x="438.30" y="391.70" width="1.4" height="3.6" fill="#999"/>
<rect x="438.40" y="396.20" width="1.2" height="1.1" fill="#8c8c8c"/>
<rect x="438.40" y="398.50" width="1.2" height="1.2" fill="#a0a0a0"/>
<rect x="441.60" y="391.70" width="1.4" height="3.6" fill="#999"/>
<rect x="441.70" y="396.20" width="1.2" height="1.1" fill="#8c8c8c"/>
<rect x="441.70" y="398.50" width="1.2" height="1.2" fill="#a0a0a0"/>
<rect x="444.90" y="391.70" width="1.4" height="3.6" fill="#999"/>
<rect x="445.00" y="396.20" width="1.2" height="1.1" fill="#8c8c8c"/>
<rect x="445.00" y="398.50" width="1.2" height="1.2" fill="#a0a0a0"/>
<rect x="448.20" y="391.70" width="1.4" height="3.6" fill="#999"/>
<rect x="448.30" y="396.20" width="1.2" height="1.1" fill="#8c8c8c"/>
<rect x="448.30" y="398.50" width="1.2" height="1.2" fill="#a0a0a0"/>
<rect x="451.50" y="391.70" width="1.4" height="3.6" fill="#999"/>
<rect x="451.60" y="396.20" width="1.2" height="1.1" fill="#8c8c8c"/>
<rect x="451.60" y="398.50" width="1.2" height="1.2" fill="#a0a0a0"/>
<rect x="454.80" y="391.70" width="1.4" height="3.6" fill="#999"/>
<rect x="454.90" y="396.20" width="1.2" height="1.1" fill="#8c8c8c"/>
<rect x="454.90" y="398.50" width="1.2" height="1.2" fill="#a0a0a0"/>
<rect x="458.10" y="391.70" width="1.4" height="3.6" fill="#999"/>
<rect x="458.20" y="396.20" width="1.2" height="1.1" fill="#8c8c8c"/>
<rect x="458.20" y="398.50" width="1.2" height="1.2" fill="#a0a0a0"/>
<rect x="461.40" y="391.70" width="1.4" height="3.6" fill="#999"/>
<rect x="461.50" y="396.20" width="1.2" height="1.1" fill="#8c8c8c"/>
<rect x="461.50" y="398.50" width="1.2" height="1.2" fill="#a0a0a0"/>
<rect x="464.70" y="391.70" width="1.4" height="3.6" fill="#999"/>
<rect x="464.80" y="396.20" width="1.2" height="1.1" fill="#8c8c8c"/>
<rect x="464.80" y="398.50" width="1.2" height="1.2" fill="#a0a0a0"/>
<rect x="468.00" y="391.70" width="1.4" height="3.6" fill="#999"/>
<rect x="468.10" y="396.20" width="1.2" height="1.1" fill="#8c8c8c"/>
<rect x="468.10" y="398.50" width="1.2" height="1.2" fill="#a0a0a0"/>
<rect x="471.30" y="391.70" width="1.4" height="3.6" fill="#999"/>
<rect x="471.40" y="396.20" width="1.2" height="1.1" fill="#8c8c8c"/>
<rect x="471.40" y="398.50" width="1.2" height="1.2" fill="#a0a0a0"/>
<rect x="474.60" y="391.70" width="1.4" height="3.6" fill="#999"/>
<rect x="474.70" y="396.20" width="1.2" height="1.1" fill="#8c8c8c"/>
<rect x="474.70" y="398.50" width="1.2" height="1.2" fill="#a0a0a0"/>
<rect x="477.90" y="391.70" width="1.4" height="3.6" fill="#999"/>
<rect x="478.00" y="396.20" width="1.2" height="1.1" fill="#8c8c8c"/>
<rect x="478.00" y="398.50" width="1.2" height="1.2" fill="#a0a0a0"/>
<rect x="481.20" y="391.70" width="1.4" height="3.6" fill="#999"/>
<rect x="481.30" y="396.20" width="1.2" height="1.1" fill="#8c8c8c"/>
<rect x="481.30" y="398.50" width="1.2" height="1.2" fill="#a0a0a0"/>
<rect x="484.50" y="391.70" width="1.4" height="3.6" fill="#999"/>
<rect x="484.60" y="396.20" width="1.2" height="1.1" fill="#8c8c8c"/>
<rect x="484.60" y="398.50" width="1.2" height="1.2" fill="#a0a0a0"/>
<rect x="487.80" y="391.70" width="1.4" height="3.6" fill="#999"/>
<rect x="487.90" y="396.20" width="1.2" height="1.1" fill="#8c8c8c"/>
<rect x="487.90" y="398.50" width="1.2" height="1.2" fill="#a0a0a0"/>
<rect x="491.10" y="391.70" width="1.4" height="3.6" fill="#999"/>
<rect x="491.20" y="396.20" width="1.2" height="1.1" fill="#8c8c8c"/>
<rect x="491.20" y="398.50" width="1.2" height="1.2" fill="#a0a0a0"/>
<rect x="494.40" y="391.70" width="1.4" height="3.6" fill="#999"/>
<rect x="494.50" y="396.20" width="1.2" height="1.1" fill="#8c8c8c"/>
<rect x="494.50" y="398.50" width="1.2" height="1.2" fill="#a0a0a0"/>
<rect x="497.70" y="391.70" width="1.4" height="3.6" fill="#999"/>
<rect x="497.80" y="396.20" width="1.2" height="1.1" fill="#8c8c8c"/>
<rect x="497.80" y="398.50" width="1.2" height="1.2" fill="#a0a0a0"/>
<rect x="501.00" y="391.70" width="1.4" height="3.6" fill="#999"/>
<rect x="501.10" y="396.20" width="1.2" height="1.1" fill="#8c8c8c"/>
<rect x="501.10" y="398.50" width="1.2" height="1.2" fill="#a0a0a0"/>
<rect x="504.30" y="391.70" width="1.4" height="3.6" fill="#999"/>
<rect x="504.40" y="396.20" width="1.2" height="1.1" fill="#8c8c8c"/>
<rect x="504.40" y="398.50" width="1.2" height="1.2" fill="#a0a0a0"/>
<rect x="507.60" y="391.70" width="1.4" height="3.6" fill="#999"/>
<rect x="507.70" y="396.20" width="1.2" height="1.1" fill="#8c8c8c"/>
<rect x="507.70" y="398.50" width="1.2" height="1.2" fill="#a0a0a0"/>
<rect x="510.90" y="391.70" width="1.4" height="3.6" fill="#999"/>
<rect x="511.00" y="396.20" width="1.2" height="1.1" fill="#8c8c8c"/>
<rect x="511.00" y="398.50" width="1.2" height="1.2" fill="#a0a0a0"/>
<rect x="514.20" y="391.70" width="1.4" height="3.6" fill="#999"/>
<rect x="514.30" y="396.20" width="1.2" height="1.1" fill="#8c8c8c"/>
<rect x="514.30" y="398.50" width="1.2" height="1.2" fill="#a0a0a0"/>
<rect x="517.50" y="391.70" width="1.4" height="3.6" fill="#999"/>
<rect x="517.60" y="396.20" width="1.2" height="1.1" fill="#8c8c8c"/>
<rect x="517.60" y="398.50" width="1.2" height="1.2" fill="#a0a0a0"/>
<rect x="520.80" y="391.70" width="1.4" height="3.6" fill="#999"/>
<rect x="520.90" y="396.20" width="1.2" height="1.1" fill="#8c8c8c"/>
<rect x="520.90" y="398.50" width="1.2" height="1.2" fill="#a0a0a0"/>
<rect x="524.10" y="391.70" width="1.4" height="3.6" fill="#999"/>
<rect x="524.20" y="396.20" width="1.2" height="1.1" fill="#8c8c8c"/>
<rect x="524.20" y="398.50" width="1.2" height="1.2" fill="#a0a0a0"/>
<rect x="527.40" y="391.70" width="1.4" height="3.6" fill="#999"/>
<rect x="527.50" y="396.20" width="1.2" height="1.1" fill="#8c8c8c"/>
<rect x="527.50" y="398.50" width="1.2" height="1.2" fill="#a0a0a0"/>
<rect x="530.70" y="391.70" width="1.4" height="3.6" fill="#999"/>
<rect x="530.80" y="396.20" width="1.2" height="1.1" fill="#8c8c8c"/>
<rect x="530.80" y="398.50" width="1.2" height="1.2" fill="#a0a0a0"/>
<rect x="534.00" y="391.70" width="1.4" height="3.6" fill="#999"/>
<rect x="534.10" y="396.20" width="1.2" height="1.1" fill="#8c8c8c"/>
<rect x="534.10" y="398.50" width="1.2" height="1.2" fill="#a0a0a0"/>
<rect x="537.30" y="391.70" width="1.4" height="3.6" fill="#999"/>
<rect x="537.40" y="396.20" width="1.2" height="1.1" fill="#8c8c8c"/>
<rect x="537.40" y="398.50" width="1.2" height="1.2" fill="#a0a0a0"/>
<rect x="540.60" y="391.70" width="1.4" height="3.6" fill="#999"/>
<rect x="540.70" y="396.20" width="1.2" height="1.1" fill="#8c8c8c"/>
<rect x="540.70" y="398.50" width="1.2" height="1.2" fill="#a0a0a0"/>
<rect x="543.90" y="391.70" width="1.4" height="3.6" fill="#999"/>
<rect x="544.00" y="396.20" width="1.2" height="1.1" fill="#8c8c8c"/>
<rect x="544.00" y="398.50" width="1.2" height="1.2" fill="#a0a0a0"/>
<rect x="547.20" y="391.70" width="1.4" height="3.6" fill="#999"/>
<rect x="547.30" y="396.20" width="1.2" height="1.1" fill="#8c8c8c"/>
<rect x="547.30" y="398.50" width="1.2" height="1.2" fill="#a0a0a0"/>
<rect x="550.50" y="391.70" width="1.4" height="3.6" fill="#999"/>
<rect x="550.60" y="396.20" width="1.2" height="1.1" fill="#8c8c8c"/>
<rect x="550.60" y="398.50" width="1.2" height="1.2" fill="#a0a0a0"/>
<rect x="553.80" y="391.70" width="1.4" height="3.6" fill="#999"/>
<rect x="553.90" y="396.20" width="1.2" height="1.1" fill="#8c8c8c"/>
<rect x="553.90" y="398.50" width="1.2" height="1.2" fill="#a0a0a0"/>
<rect x="557.10" y="391.70" width="1.4" height="3.6" fill="#999"/>
<rect x="557.20" y="396.20" width="1.2" height="1.1" fill="#8c8c8c"/>
<rect x="557.20" y="398.50" width="1.2" height="1.2" fill="#a0a0a0"/>
<rect x="560.40" y="391.70" width="1.4" height="3.6" fill="#999"/>
<rect x="560.50" y="396.20" width="1.2" height="1.1" fill="#8c8c8c"/>
<rect x="560.50" y="398.50" width="1.2" height="1.2" fill="#a0a0a0"/>
<rect x="563.85" y="391.40" width="1.1" height="3.6" fill="#b4b4b4"/>
<rect x="567.15" y="391.40" width="1.1" height="3.6" fill="#b4b4b4"/>
<rect x="570.45" y="391.40" width="1.1" height="3.6" fill="#b4b4b4"/>
<rect x="573.75" y="391.40" width="1.1" height="3.6" fill="#b4b4b4"/>
<rect x="577.05" y="391.40" width="1.1" height="3.6" fill="#b4b4b4"/>
<rect x="580.35" y="391.40" width="1.1" height="3.6" fill="#b4b4b4"/>
<rect x="583.65" y="391.40" width="1.1" height="3.6" fill="#b4b4b4"/>
<rect x="586.95" y="391.40" width="1.1" height="3.6" fill="#b4b4b4"/>
<rect x="590.25" y="391.40" width="1.1" height="3.6" fill="#b4b4b4"/>
<rect x="593.55" y="391.40" width="1.1" height="3.6" fill="#b4b4b4"/>
<rect x="596.85" y="391.40" width="1.1" height="3.6" fill="#b4b4b4"/>
<rect x="600.15" y="391.40" width="1.1" height="3.6" fill="#b4b4b4"/>
<rect x="603.45" y="391.40" width="1.1" height="3.6" fill="#b4b4b4"/>
<rect x="606.75" y="391.40" width="1.1" height="3.6" fill="#b4b4b4"/>
<rect x="610.05" y="391.40" width="1.1" height="3.6" fill="#b4b4b4"/>
<rect x="613.35" y="391.40" width="1.1" height="3.6" fill="#b4b4b4"/>
<rect x="616.65" y="391.40" width="1.1" height="3.6" fill="#b4b4b4"/>
<rect x="619.95" y="391.40" width="1.1" height="3.6" fill="#b4b4b4"/>
<rect x="623.25" y="391.40" width="1.1" height="3.6" fill="#b4b4b4"/>
<rect x="626.55" y="391.40" width="1.1" height="3.6" fill="#b4b4b4"/>
<rect x="629.85" y="391.40" width="1.1" height="3.6" fill="#b4b4b4"/>
<rect x="633.15" y="391.40" width="1.1" height="3.6" fill="#b4b4b4"/>
<rect x="636.45" y="391.40" width="1.1" height="3.6" fill="#b4b4b4"/>
<rect x="639.75" y="391.40" width="1.1" height="3.6" fill="#b4b4b4"/>
<rect x="643.05" y="391.40" width="1.1" height="3.6" fill="#b4b4b4"/>
<rect x="646.35" y="391.40" width="1.1" height="3.6" fill="#b4b4b4"/>
<rect x="649.65" y="391.40" width="1.1" height="3.6" fill="#b4b4b4"/>
<rect x="652.95" y="391.40" width="1.1" height="3.6" fill="#b4b4b4"/>
<rect x="656.25" y="391.40" width="1.1" height="3.6" fill="#b4b4b4"/>
<rect x="659.55" y="391.40" width="1.1" height="3.6" fill="#b4b4b4"/>
<rect x="662.85" y="391.40" width="1.1" height="3.6" fill="#b4b4b4"/>
<text x="0" y="0" transform="translate(352.50,302.80) rotate(-90) scale(1.1,0.9)" font-family="'Liberation Sans', sans-serif" font-size="3.6" font-weight="bold" fill="#666" text-anchor="end">TIC</text>
<text x="0" y="0" transform="translate(507.00,405.80) scale(0.15500,0.25)" font-family="'Liberation Sans', sans-serif" font-size="18.4" font-weight="bold" fill="#444" text-anchor="start" >RT (min)</text>
<path d="M359.80,388.78 L360.00,388.77 L360.20,388.74 L360.40,388.70 L360.60,388.63 L360.80,388.53 L361.00,388.39 L361.20,388.18 L361.40,387.91 L361.60,387.56 L361.80,387.05 L362.00,386.12 L362.20,384.10 L362.40,379.90 L362.60,372.87 L362.80,364.42 L363.00,358.36 L363.20,358.36 L363.40,364.40 L363.60,372.84 L363.80,379.85 L364.00,384.01 L364.20,385.98 L364.40,386.82 L364.60,387.22 L364.80,387.43 L365.00,387.51 L365.20,387.43 L365.40,387.08 L365.60,386.08 L365.80,383.87 L366.00,380.09 L366.20,375.52 L366.40,372.24 L366.60,372.23 L366.80,375.50 L367.00,380.06 L367.20,383.82 L367.40,386.02 L367.60,386.99 L367.80,387.33 L368.00,387.39 L368.20,387.29 L368.40,386.98 L368.60,386.15 L368.80,384.16 L369.00,380.30 L369.20,374.70 L369.40,369.27 L369.60,366.98 L369.80,369.29 L370.00,374.73 L370.20,380.36 L370.40,384.26 L370.60,386.30 L370.80,387.21 L371.00,387.62 L371.20,387.84 L371.40,387.96 L371.60,388.00 L371.80,387.88 L372.00,387.45 L372.20,386.44 L372.40,384.68 L372.60,382.54 L372.80,381.00 L373.00,381.00 L373.20,382.54 L373.40,384.69 L373.60,386.46 L373.80,387.50 L374.00,387.96 L374.20,388.12 L374.40,388.15 L374.60,388.10 L374.80,387.98 L375.00,387.68 L375.20,386.96 L375.40,385.40 L375.60,382.77 L375.80,379.59 L376.00,377.31 L376.20,377.31 L376.40,379.58 L376.60,382.75 L376.80,385.38 L377.00,386.91 L377.20,387.61 L377.40,387.86 L377.60,387.93 L377.80,387.89 L378.00,387.77 L378.20,387.48 L378.40,386.80 L378.60,385.23 L378.80,382.20 L379.00,377.81 L379.20,373.57 L379.40,371.76 L379.60,373.54 L379.80,377.74 L380.00,382.05 L380.20,384.98 L380.40,386.40 L380.60,386.86 L380.80,386.84 L381.00,386.56 L381.20,386.06 L381.40,385.22 L381.60,383.58 L381.80,379.85 L382.00,371.98 L382.20,358.78 L382.40,342.87 L382.60,331.47 L382.80,331.44 L383.00,342.76 L383.20,358.56 L383.40,371.60 L383.60,379.22 L383.80,382.61 L384.00,383.78 L384.20,383.98 L384.40,383.66 L384.60,382.75 L384.80,380.56 L385.00,375.21 L385.20,363.70 L385.40,344.25 L385.60,320.76 L385.80,303.94 L386.00,303.96 L386.20,320.82 L386.40,344.35 L386.60,363.87 L386.80,375.48 L387.00,380.94 L387.20,383.29 L387.40,384.39 L387.60,384.94 L387.80,385.12 L388.00,384.91 L388.20,384.09 L388.40,381.85 L388.60,376.52 L388.80,366.17 L389.00,351.17 L389.20,336.66 L389.40,330.47 L389.60,336.56 L389.80,350.97 L390.00,365.81 L390.20,375.97 L390.40,381.05 L390.60,382.98 L390.80,383.45 L391.00,383.19 L391.20,382.11 L391.40,379.18 L391.60,372.12 L391.80,358.36 L392.00,338.38 L392.20,319.01 L392.40,310.76 L392.60,318.90 L392.80,338.13 L393.00,357.91 L393.20,371.38 L393.40,378.00 L393.60,380.31 L393.80,380.57 L394.00,379.78 L394.20,377.92 L394.40,373.75 L394.60,363.80 L394.80,342.48 L395.00,306.51 L395.20,263.12 L395.40,232.05 L395.60,232.09 L395.80,263.25 L396.00,306.77 L396.20,342.91 L396.40,364.46 L396.60,374.75 L396.80,379.35 L397.00,381.76 L397.20,383.29 L397.40,384.29 L397.60,384.82 L397.80,384.74 L398.00,383.56 L398.20,380.17 L398.40,373.30 L398.60,363.24 L398.80,353.48 L399.00,349.34 L399.20,353.52 L399.40,363.35 L399.60,373.50 L399.80,380.52 L400.00,384.15 L400.20,385.69 L400.40,386.30 L400.60,386.50 L400.80,386.47 L401.00,386.20 L401.20,385.62 L401.40,384.32 L401.60,381.25 L401.80,374.71 L402.00,363.69 L402.20,350.41 L402.40,340.87 L402.60,340.81 L402.80,350.21 L403.00,363.32 L403.20,374.08 L403.40,380.25 L403.60,382.81 L403.80,383.43 L404.00,383.15 L404.20,382.25 L404.40,380.35 L404.60,375.92 L404.80,365.75 L405.00,346.20 L405.20,317.93 L405.40,290.59 L405.60,279.01 L405.80,290.59 L406.00,317.93 L406.20,346.19 L406.40,365.72 L406.60,375.83 L406.80,380.17 L407.00,381.93 L407.20,382.64 L407.40,382.74 L407.60,382.16 L407.80,380.20 L408.00,375.04 L408.20,363.68 L408.40,344.37 L408.60,321.04 L408.80,304.32 L409.00,304.36 L409.20,321.16 L409.40,344.61 L409.60,364.10 L409.80,375.73 L410.00,381.31 L410.20,383.84 L410.40,385.21 L410.60,386.14 L410.80,386.82 L411.00,387.24 L411.20,387.34 L411.40,386.98 L411.60,386.08 L411.80,384.89 L412.00,384.02 L412.20,384.04 L412.40,384.95 L412.60,386.18 L412.80,387.14 L413.00,387.58 L413.20,387.59 L413.40,387.29 L413.60,386.75 L413.80,385.99 L414.00,384.97 L414.20,383.47 L414.40,380.71 L414.60,374.67 L414.80,362.07 L415.00,340.96 L415.20,315.57 L415.40,297.39 L415.60,297.38 L415.80,315.54 L416.00,340.90 L416.20,361.95 L416.40,374.47 L416.60,380.38 L416.80,382.94 L417.00,384.17 L417.20,384.82 L417.40,385.09 L417.60,384.96 L417.80,384.23 L418.00,382.15 L418.20,377.12 L418.40,367.33 L418.60,353.12 L418.80,339.38 L419.00,333.55 L419.20,339.38 L419.40,353.13 L419.60,367.34 L419.80,377.16 L420.00,382.24 L420.20,384.40 L420.40,385.27 L420.60,385.59 L420.80,385.59 L421.00,385.23 L421.20,384.13 L421.40,381.27 L421.60,375.01 L421.80,364.38 L422.00,351.53 L422.20,342.30 L422.40,342.25 L422.60,351.37 L422.80,364.09 L423.00,374.53 L423.20,380.55 L423.40,383.08 L423.60,383.78 L423.80,383.61 L424.00,382.81 L424.20,380.77 L424.40,375.74 L424.60,364.86 L424.80,346.41 L425.00,324.14 L425.20,308.18 L425.40,308.20 L425.60,324.19 L425.80,346.51 L426.00,365.01 L426.20,375.97 L426.40,381.09 L426.60,383.23 L426.80,384.17 L427.00,384.57 L427.20,384.51 L427.40,383.66 L427.60,381.00 L427.80,374.92 L428.00,364.47 L428.20,351.80 L428.40,342.72 L428.60,342.74 L428.80,351.89 L429.00,364.65 L429.20,375.22 L429.40,381.49 L429.60,384.41 L429.80,385.63 L430.00,386.16 L430.20,386.39 L430.40,386.37 L430.60,386.01 L430.80,384.85 L431.00,381.99 L431.20,376.38 L431.40,368.21 L431.60,360.31 L431.80,356.95 L432.00,360.31 L432.20,368.22 L432.40,376.40 L432.60,382.03 L432.80,384.93 L433.00,386.13 L433.20,386.57 L433.40,386.69 L433.60,386.60 L433.80,386.18 L434.00,385.03 L434.20,382.23 L434.40,376.77 L434.60,368.85 L434.80,361.18 L435.00,357.90 L435.20,361.11 L435.40,368.69 L435.60,376.46 L435.80,381.69 L436.00,384.15 L436.20,384.80 L436.40,384.53 L436.60,383.70 L436.80,382.38 L437.00,380.28 L437.20,376.21 L437.40,367.10 L437.60,347.97 L437.80,315.86 L438.00,277.20 L438.20,249.52 L438.40,249.50 L438.60,277.16 L438.80,315.79 L439.00,347.84 L439.20,366.91 L439.40,375.91 L439.60,379.84 L439.80,381.76 L440.00,382.84 L440.20,383.31 L440.40,382.83 L440.60,380.44 L440.80,374.52 L441.00,364.13 L441.20,351.46 L441.40,342.38 L441.60,342.44 L441.80,351.68 L442.00,364.55 L442.20,375.24 L442.40,381.62 L442.60,384.68 L442.80,386.05 L443.00,386.79 L443.20,387.27 L443.40,387.61 L443.60,387.83 L443.80,387.90 L444.00,387.73 L444.20,387.14 L444.40,385.89 L444.60,384.04 L444.80,382.24 L445.00,381.46 L445.20,382.22 L445.40,384.00 L445.60,385.82 L445.80,387.02 L446.00,387.53 L446.20,387.58 L446.40,387.35 L446.60,386.94 L446.80,386.34 L447.00,385.49 L447.20,384.09 L447.40,381.17 L447.60,374.75 L447.80,362.54 L448.00,344.96 L448.20,327.98 L448.40,320.78 L448.60,327.97 L448.80,344.93 L449.00,362.48 L449.20,374.65 L449.40,381.03 L449.60,383.88 L449.80,385.20 L450.00,385.94 L450.20,386.38 L450.40,386.47 L450.60,385.93 L450.80,384.28 L451.00,381.25 L451.20,377.50 L451.40,374.80 L451.60,374.84 L451.80,377.62 L452.00,381.48 L452.20,384.68 L452.40,386.57 L452.60,387.45 L452.80,387.80 L453.00,387.95 L453.20,388.00 L453.40,387.97 L453.60,387.77 L453.80,387.21 L454.00,385.94 L454.20,383.77 L454.40,381.14 L454.60,379.26 L454.80,379.26 L455.00,381.16 L455.20,383.81 L455.40,386.01 L455.60,387.33 L455.80,387.96 L456.00,388.25 L456.20,388.41 L456.40,388.52 L456.60,388.61 L456.80,388.67 L457.00,388.72 L457.20,388.75 L457.40,388.77 L457.60,388.78 L457.80,388.79 L458.00,388.79 L458.20,388.80 L458.40,388.80 L458.60,388.80 L458.80,388.80 L459.00,388.80 L459.20,388.80 L459.40,388.80 L459.60,388.80 L459.80,388.80 L460.00,388.80 L460.20,388.80 L460.40,388.80 L460.60,388.80 L460.80,388.80 L461.00,388.79 L461.20,388.79 L461.40,388.78 L461.60,388.76 L461.80,388.73 L462.00,388.69 L462.20,388.63 L462.40,388.55 L462.60,388.44 L462.80,388.29 L463.00,388.08 L463.20,387.70 L463.40,386.88 L463.60,385.16 L463.80,382.29 L464.00,378.82 L464.20,376.34 L464.40,376.33 L464.60,378.79 L464.80,382.22 L465.00,385.04 L465.20,386.67 L465.40,387.36 L465.60,387.55 L465.80,387.49 L466.00,387.29 L466.20,386.94 L466.40,386.37 L466.60,385.23 L466.80,382.67 L467.00,377.28 L467.20,368.22 L467.40,357.31 L467.60,349.50 L467.80,349.49 L468.00,357.28 L468.20,368.15 L468.40,377.14 L468.60,382.44 L468.80,384.85 L469.00,385.76 L469.20,386.01 L469.40,385.91 L469.60,385.54 L469.80,384.83 L470.00,383.46 L470.20,380.43 L470.40,373.57 L470.60,360.47 L470.80,341.57 L471.00,323.29 L471.20,315.54 L471.40,323.24 L471.60,341.44 L471.80,360.25 L472.00,373.21 L472.20,379.86 L472.40,382.62 L472.60,383.62 L472.80,383.87 L473.00,383.62 L473.20,382.62 L473.40,379.86 L473.60,373.21 L473.80,360.25 L474.00,341.44 L474.20,323.24 L474.40,315.53 L474.60,323.29 L474.80,341.56 L475.00,360.47 L475.20,373.57 L475.40,380.44 L475.60,383.50 L475.80,384.92 L476.00,385.71 L476.20,386.18 L476.40,386.34 L476.60,385.93 L476.80,384.45 L477.00,381.28 L477.20,376.57 L477.40,371.97 L477.60,370.02 L477.80,372.00 L478.00,376.63 L478.20,381.40 L478.40,384.65 L478.60,386.24 L478.80,386.79 L479.00,386.82 L479.20,386.59 L479.40,386.14 L479.60,385.37 L479.80,383.82 L480.00,380.30 L480.20,372.86 L480.40,360.36 L480.60,345.30 L480.80,334.52 L481.00,334.52 L481.20,345.31 L481.40,360.37 L481.60,372.87 L481.80,380.31 L482.00,383.84 L482.20,385.39 L482.40,386.17 L482.60,386.64 L482.80,386.89 L483.00,386.89 L483.20,386.41 L483.40,384.96 L483.60,381.99 L483.80,377.61 L484.00,373.36 L484.20,371.56 L484.40,373.38 L484.60,377.66 L484.80,382.08 L485.00,385.12 L485.20,386.67 L485.40,387.29 L485.60,387.49 L485.80,387.50 L486.00,387.38 L486.20,387.09 L486.40,386.43 L486.60,384.86 L486.80,381.48 L487.00,375.78 L487.20,368.91 L487.40,363.98 L487.60,363.97 L487.80,368.88 L488.00,375.73 L488.20,381.39 L488.40,384.71 L488.60,386.21 L488.80,386.77 L489.00,386.91 L489.20,386.86 L489.40,386.58 L489.60,385.83 L489.80,383.98 L490.00,379.94 L490.20,373.10 L490.40,364.84 L490.60,358.92 L490.80,358.92 L491.00,364.85 L491.20,373.13 L491.40,380.00 L491.60,384.07 L491.80,385.97 L492.00,386.78 L492.20,387.14 L492.40,387.30 L492.60,387.32 L492.80,387.12 L493.00,386.45 L493.20,384.78 L493.40,381.48 L493.60,376.68 L493.80,372.03 L494.00,370.05 L494.20,372.01 L494.40,376.64 L494.60,381.39 L494.80,384.62 L495.00,386.20 L495.20,386.73 L495.40,386.73 L495.60,386.46 L495.80,385.96 L496.00,385.12 L496.20,383.44 L496.40,379.62 L496.60,371.58 L496.80,358.07 L497.00,341.78 L497.20,330.11 L497.40,330.08 L497.60,341.67 L497.80,357.84 L498.00,371.19 L498.20,378.97 L498.40,382.40 L498.60,383.54 L498.80,383.65 L499.00,383.19 L499.20,382.17 L499.40,380.11 L499.60,375.38 L499.80,364.60 L500.00,343.91 L500.20,314.03 L500.40,285.14 L500.60,272.88 L500.80,285.08 L501.00,313.88 L501.20,343.65 L501.40,364.17 L501.60,374.74 L501.80,379.18 L502.00,380.88 L502.20,381.43 L502.40,381.15 L502.60,379.44 L502.80,374.45 L503.00,363.17 L503.20,343.85 L503.40,320.43 L503.60,303.63 L503.80,303.68 L504.00,320.57 L504.20,344.12 L504.40,363.62 L504.60,375.15 L504.80,380.47 L505.00,382.62 L505.20,383.44 L505.40,383.65 L505.60,383.35 L505.80,382.24 L506.00,379.23 L506.20,372.00 L506.40,357.96 L506.60,337.59 L506.80,317.88 L507.00,309.52 L507.20,317.90 L507.40,337.63 L507.60,358.04 L507.80,372.15 L508.00,379.46 L508.20,382.60 L508.40,383.89 L508.60,384.42 L508.80,384.52 L509.00,384.14 L509.20,382.79 L509.40,379.22 L509.60,371.33 L509.80,357.93 L510.00,341.71 L510.20,330.09 L510.40,330.10 L510.60,341.75 L510.80,357.99 L511.00,371.45 L511.20,379.41 L511.40,383.10 L511.60,384.61 L511.80,385.21 L512.00,385.40 L512.20,385.26 L512.40,384.59 L512.60,382.70 L512.80,378.15 L513.00,369.27 L513.20,356.40 L513.40,343.93 L513.60,338.65 L513.80,343.95 L514.00,356.43 L514.20,369.34 L514.40,378.27 L514.60,382.90 L514.80,384.89 L515.00,385.71 L515.20,386.05 L515.40,386.12 L515.60,385.89 L515.80,385.06 L516.00,382.85 L516.20,377.96 L516.40,369.65 L516.60,359.59 L516.80,352.38 L517.00,352.37 L517.20,359.58 L517.40,369.63 L517.60,377.93 L517.80,382.79 L518.00,384.97 L518.20,385.75 L518.40,385.92 L518.60,385.76 L518.80,385.30 L519.00,384.30 L519.20,381.93 L519.40,376.47 L519.60,365.99 L519.80,350.83 L520.00,336.16 L520.20,329.94 L520.40,336.14 L520.60,350.76 L520.80,365.87 L521.00,376.27 L521.20,381.60 L521.40,383.78 L521.60,384.53 L521.80,384.66 L522.00,384.37 L522.20,383.58 L522.40,381.65 L522.60,376.97 L522.80,366.90 L523.00,349.89 L523.20,329.36 L523.40,314.66 L523.60,314.67 L523.80,329.40 L524.00,349.96 L524.20,367.03 L524.40,377.19 L524.60,382.01 L524.80,384.12 L525.00,385.17 L525.20,385.78 L525.40,386.10 L525.60,386.05 L525.80,385.31 L526.00,383.14 L526.20,378.72 L526.40,372.22 L526.60,365.91 L526.80,363.23 L527.00,365.91 L527.20,372.24 L527.40,378.76 L527.60,383.22 L527.80,385.45 L528.00,386.30 L528.20,386.48 L528.40,386.36 L528.60,385.98 L528.80,385.17 L529.00,383.28 L529.20,378.91 L529.40,370.51 L529.60,358.37 L529.80,346.63 L530.00,341.64 L530.20,346.59 L530.40,358.30 L530.60,370.38 L530.80,378.69 L531.00,382.92 L531.20,384.63 L531.40,385.19 L531.60,385.24 L531.80,384.92 L532.00,384.03 L532.20,381.74 L532.40,376.35 L532.60,365.91 L532.80,350.78 L533.00,336.14 L533.20,329.93 L533.40,336.13 L533.60,350.76 L533.80,365.87 L534.00,376.29 L534.20,381.64 L534.40,383.87 L534.60,384.69 L534.80,384.91 L535.00,384.73 L535.20,383.97 L535.40,381.84 L535.60,376.69 L535.80,366.64 L536.00,352.05 L536.20,337.92 L536.40,331.94 L536.60,337.95 L536.80,352.11 L537.00,366.75 L537.20,376.88 L537.40,382.13 L537.60,384.41 L537.80,385.36 L538.00,385.77 L538.20,385.89 L538.40,385.68 L538.60,384.83 L538.80,382.52 L539.00,377.40 L539.20,368.67 L539.40,358.11 L539.60,350.54 L539.80,350.55 L540.00,358.15 L540.20,368.76 L540.40,377.55 L540.60,382.77 L540.80,385.22 L541.00,386.26 L541.20,386.72 L541.40,386.93 L541.60,386.95 L541.80,386.79 L542.00,386.30 L542.20,385.05 L542.40,382.12 L542.60,376.45 L542.80,368.26 L543.00,360.33 L543.20,356.97 L543.40,360.32 L543.60,368.23 L543.80,376.41 L544.00,382.05 L544.20,384.95 L544.40,386.16 L544.60,386.62 L544.80,386.76 L545.00,386.69 L545.20,386.32 L545.40,385.25 L545.60,382.64 L545.80,377.55 L546.00,370.15 L546.20,362.98 L546.40,359.93 L546.60,362.95 L546.80,370.08 L547.00,377.42 L547.20,382.43 L547.40,384.91 L547.60,385.80 L547.80,385.93 L548.00,385.68 L548.20,385.11 L548.40,383.97 L548.60,381.36 L548.80,375.41 L549.00,363.98 L549.20,347.48 L549.40,331.53 L549.60,324.78 L549.80,331.56 L550.00,347.55 L550.20,364.10 L550.40,375.60 L550.60,381.67 L550.80,384.44 L551.00,385.79 L551.20,386.65 L551.40,387.28 L551.60,387.76 L551.80,388.12 L552.00,388.37 L552.20,388.54 L552.40,388.65 L552.60,388.71 L552.80,388.75 L553.00,388.77 L553.20,388.77 L553.40,388.76 L553.60,388.73 L553.80,388.68 L554.00,388.59 L554.20,388.46 L554.40,388.28 L554.60,388.02 L554.80,387.68 L555.00,387.23 L555.20,386.59 L555.40,385.43 L555.60,382.89 L555.80,377.60 L556.00,368.74 L556.20,358.08 L556.40,350.44 L556.60,350.40 L556.80,357.94 L557.00,368.46 L557.20,377.10 L557.40,382.08 L557.60,384.18 L557.80,384.73 L558.00,384.56 L558.20,383.93 L558.40,382.74 L558.60,380.21 L558.80,374.31 L559.00,361.79 L559.20,340.69 L559.40,315.26 L559.60,297.05 L559.80,297.05 L560.00,315.27 L560.20,340.71 L560.40,361.81 L560.60,374.35 L560.80,380.27 L561.00,382.83 L561.20,384.06 L561.40,384.74 L561.60,384.99 L561.80,384.57 L562.00,382.77 L562.20,378.41 L562.40,370.80 L562.60,361.52 L562.80,354.87 L563.00,354.91 L563.20,361.67 L563.40,371.08 L563.60,378.90 L563.80,383.58 L564.00,385.82 L564.20,386.85 L564.40,387.42 L564.60,387.81 L564.80,388.11 L565.00,388.34 L565.20,388.50 L565.40,388.62 L565.60,388.69 L565.80,388.74 L566.00,388.77 L566.20,388.78 L566.40,388.79 L566.60,388.80 L566.80,388.80 L567.00,388.80 L567.20,388.80 L567.40,388.80 L567.60,388.80 L567.80,388.80 L568.00,388.80 L568.20,388.80 L568.40,388.80 L568.60,388.80 L568.80,388.80 L569.00,388.80 L569.20,388.80 L569.40,388.80 L569.60,388.80 L569.80,388.80 L570.00,388.80 L570.20,388.80 L570.40,388.80 L570.60,388.80 L570.80,388.80 L571.00,388.80 L571.20,388.80 L571.40,388.80 L571.60,388.80 L571.80,388.80 L572.00,388.80 L572.20,388.80 L572.40,388.80 L572.60,388.80 L572.80,388.80 L573.00,388.80 L573.20,388.80 L573.40,388.80 L573.60,388.80 L573.80,388.80 L574.00,388.80 L574.20,388.80 L574.40,388.80 L574.60,388.80 L574.80,388.80 L575.00,388.80 L575.20,388.80 L575.40,388.80 L575.60,388.80 L575.80,388.80 L576.00,388.80 L576.20,388.80 L576.40,388.80 L576.60,388.80 L576.80,388.80 L577.00,388.80 L577.20,388.80 L577.40,388.80 L577.60,388.80 L577.80,388.80 L578.00,388.80 L578.20,388.80 L578.40,388.80 L578.60,388.80 L578.80,388.80 L579.00,388.80 L579.20,388.80 L579.40,388.80 L579.60,388.80 L579.80,388.80 L580.00,388.80 L580.20,388.80 L580.40,388.80 L580.60,388.80 L580.80,388.80 L581.00,388.80 L581.20,388.80 L581.40,388.80 L581.60,388.80 L581.80,388.80 L582.00,388.80 L582.20,388.80 L582.40,388.80 L582.60,388.80 L582.80,388.80 L583.00,388.80 L583.20,388.80 L583.40,388.80 L583.60,388.80 L583.80,388.80 L584.00,388.80 L584.20,388.80 L584.40,388.80 L584.60,388.80 L584.80,388.80 L585.00,388.80 L585.20,388.80 L585.40,388.80 L585.60,388.80 L585.80,388.80 L586.00,388.80 L586.20,388.79 L586.40,388.79 L586.60,388.78 L586.80,388.76 L587.00,388.74 L587.20,388.72 L587.40,388.68 L587.60,388.64 L587.80,388.56 L588.00,388.41 L588.20,388.08 L588.40,387.45 L588.60,386.54 L588.80,385.67 L589.00,385.30 L589.20,385.67 L589.40,386.54 L589.60,387.45 L589.80,388.08 L590.00,388.41 L590.20,388.56 L590.40,388.64 L590.60,388.68 L590.80,388.72 L591.00,388.74 L591.20,388.76 L591.40,388.78 L591.60,388.79 L591.80,388.79 L592.00,388.80 L592.20,388.80 L592.40,388.80 L592.60,388.80 L592.80,388.80 L593.00,388.80 L593.20,388.80 L593.40,388.80 L593.60,388.80 L593.80,388.80 L594.00,388.80 L594.20,388.80 L594.40,388.80 L594.60,388.80 L594.80,388.80 L595.00,388.80 L595.20,388.80 L595.40,388.80 L595.60,388.80 L595.80,388.80 L596.00,388.80 L596.20,388.80 L596.40,388.80 L596.60,388.80 L596.80,388.80 L597.00,388.80 L597.20,388.80 L597.40,388.80 L597.60,388.80 L597.80,388.80 L598.00,388.80 L598.20,388.80 L598.40,388.80 L598.60,388.80 L598.80,388.80 L599.00,388.80 L599.20,388.80 L599.40,388.80 L599.60,388.80 L599.80,388.80 L600.00,388.80 L600.20,388.80 L600.40,388.80 L600.60,388.80 L600.80,388.80 L601.00,388.80 L601.20,388.80 L601.40,388.80 L601.60,388.80 L601.80,388.80 L602.00,388.80 L602.20,388.80 L602.40,388.80 L602.60,388.80 L602.80,388.80 L603.00,388.80 L603.20,388.80 L603.40,388.80 L603.60,388.80 L603.80,388.80 L604.00,388.80 L604.20,388.80 L604.40,388.80 L604.60,388.80 L604.80,388.80 L605.00,388.80 L605.20,388.80 L605.40,388.80 L605.60,388.80 L605.80,388.80 L606.00,388.80 L606.20,388.80 L606.40,388.80 L606.60,388.80 L606.80,388.80 L607.00,388.80 L607.20,388.80 L607.40,388.80 L607.60,388.80 L607.80,388.80 L608.00,388.80 L608.20,388.80 L608.40,388.80 L608.60,388.80 L608.80,388.80 L609.00,388.80 L609.20,388.80 L609.40,388.80 L609.60,388.80 L609.80,388.80 L610.00,388.80 L610.20,388.80 L610.40,388.80 L610.60,388.80 L610.80,388.80 L611.00,388.80 L611.20,388.80 L611.40,388.80 L611.60,388.80 L611.80,388.80 L612.00,388.80 L612.20,388.80 L612.40,388.80 L612.60,388.80 L612.80,388.80 L613.00,388.80 L613.20,388.80 L613.40,388.80 L613.60,388.80 L613.80,388.80 L614.00,388.80 L614.20,388.80 L614.40,388.80 L614.60,388.80 L614.80,388.80 L615.00,388.80 L615.20,388.80 L615.40,388.80 L615.60,388.80 L615.80,388.80 L616.00,388.80 L616.20,388.80 L616.40,388.80 L616.60,388.80 L616.80,388.80 L617.00,388.80 L617.20,388.80 L617.40,388.80 L617.60,388.80 L617.80,388.80 L618.00,388.80 L618.20,388.80 L618.40,388.80 L618.60,388.80 L618.80,388.80 L619.00,388.80 L619.20,388.80 L619.40,388.80 L619.60,388.80 L619.80,388.80 L620.00,388.80 L620.20,388.80 L620.40,388.80 L620.60,388.80 L620.80,388.80 L621.00,388.80 L621.20,388.80 L621.40,388.80 L621.60,388.80 L621.80,388.80 L622.00,388.80 L622.20,388.80 L622.40,388.80 L622.60,388.80 L622.80,388.80 L623.00,388.80 L623.20,388.80 L623.40,388.80 L623.60,388.80 L623.80,388.80 L624.00,388.80 L624.20,388.80 L624.40,388.80 L624.60,388.80 L624.80,388.80 L625.00,388.80 L625.20,388.80 L625.40,388.80 L625.60,388.80 L625.80,388.80 L626.00,388.80 L626.20,388.80 L626.40,388.80 L626.60,388.80 L626.80,388.80 L627.00,388.80 L627.20,388.80 L627.40,388.80 L627.60,388.80 L627.80,388.80 L628.00,388.80 L628.20,388.80 L628.40,388.80 L628.60,388.80 L628.80,388.80 L629.00,388.80 L629.20,388.80 L629.40,388.80 L629.60,388.80 L629.80,388.80 L630.00,388.80 L630.20,388.80 L630.40,388.80 L630.60,388.80 L630.80,388.80 L631.00,388.80 L631.20,388.80 L631.40,388.80 L631.60,388.80 L631.80,388.80 L632.00,388.80 L632.20,388.80 L632.40,388.80 L632.60,388.80 L632.80,388.80 L633.00,388.80 L633.20,388.80 L633.40,388.80 L633.60,388.80 L633.80,388.80 L634.00,388.80 L634.20,388.80 L634.40,388.80 L634.60,388.80 L634.80,388.80 L635.00,388.80 L635.20,388.80 L635.40,388.80 L635.60,388.80 L635.80,388.80 L636.00,388.80 L636.20,388.80 L636.40,388.80 L636.60,388.80 L636.80,388.80 L637.00,388.80 L637.20,388.80 L637.40,388.80 L637.60,388.80 L637.80,388.80 L638.00,388.80 L638.20,388.80 L638.40,388.80 L638.60,388.80 L638.80,388.80 L639.00,388.80 L639.20,388.80 L639.40,388.80 L639.60,388.80 L639.80,388.80 L640.00,388.80 L640.20,388.80 L640.40,388.80 L640.60,388.80 L640.80,388.80 L641.00,388.80 L641.20,388.80 L641.40,388.80 L641.60,388.80 L641.80,388.80 L642.00,388.80 L642.20,388.80 L642.40,388.80 L642.60,388.80 L642.80,388.80 L643.00,388.80 L643.20,388.80 L643.40,388.80 L643.60,388.80 L643.80,388.80 L644.00,388.80 L644.20,388.80 L644.40,388.80 L644.60,388.80 L644.80,388.80 L645.00,388.80 L645.20,388.80 L645.40,388.80 L645.60,388.80 L645.80,388.80 L646.00,388.80 L646.20,388.80 L646.40,388.80 L646.60,388.80 L646.80,388.80 L647.00,388.80 L647.20,388.80 L647.40,388.80 L647.60,388.80 L647.80,388.80 L648.00,388.80 L648.20,388.80 L648.40,388.80 L648.60,388.80 L648.80,388.80 L649.00,388.80 L649.20,388.80 L649.40,388.80 L649.60,388.80 L649.80,388.80 L650.00,388.80 L650.20,388.80 L650.40,388.80 L650.60,388.80 L650.80,388.80 L651.00,388.80 L651.20,388.80 L651.40,388.80 L651.60,388.80 L651.80,388.80 L652.00,388.80 L652.20,388.80 L652.40,388.80 L652.60,388.80 L652.80,388.80 L653.00,388.80 L653.20,388.80 L653.40,388.80 L653.60,388.80 L653.80,388.80 L654.00,388.80 L654.20,388.80 L654.40,388.80 L654.60,388.80 L654.80,388.80 L655.00,388.80 L655.20,388.80 L655.40,388.80 L655.60,388.80 L655.80,388.80 L656.00,388.80 L656.20,388.80 L656.40,388.80 L656.60,388.80 L656.80,388.80 L657.00,388.80 L657.20,388.80 L657.40,388.80 L657.60,388.80 L657.80,388.80 L658.00,388.80 L658.20,388.80 L658.40,388.80 L658.60,388.80 L658.80,388.80 L659.00,388.80 L659.20,388.80 L659.40,388.80 L659.60,388.80 L659.80,388.80 L660.00,388.80 L660.20,388.80 L660.40,388.80 L660.60,388.80 L660.80,388.80 L661.00,388.80 L661.20,388.80 L661.40,388.80 L661.60,388.80 L661.80,388.80 L662.00,388.80 L662.20,388.80 L662.40,388.80 L662.60,388.80 L662.80,388.80 L663.00,388.80 L663.20,388.80 L663.40,388.80 L663.60,388.80 L663.80,388.80" fill="none" stroke="#bcbcbc" stroke-width="0.7"/>
<line x1="363.10" y1="357.50" x2="363.10" y2="387.80" stroke="#b8b8b8" stroke-width="0.85"/>
<text x="0" y="0" transform="translate(363.10,355.10) scale(0.15000,0.25)" font-family="'Liberation Sans', sans-serif" font-size="15.2" font-weight="bold" fill="#8c8c8c" text-anchor="middle" >1</text>
<line x1="366.50" y1="371.80" x2="366.50" y2="387.80" stroke="#b8b8b8" stroke-width="0.85"/>
<text x="0" y="0" transform="translate(366.50,369.40) scale(0.15000,0.25)" font-family="'Liberation Sans', sans-serif" font-size="15.2" font-weight="bold" fill="#8c8c8c" text-anchor="middle" >2</text>
<line x1="369.60" y1="367.00" x2="369.60" y2="387.80" stroke="#b8b8b8" stroke-width="0.85"/>
<text x="0" y="0" transform="translate(369.60,364.60) scale(0.15000,0.25)" font-family="'Liberation Sans', sans-serif" font-size="15.2" font-weight="bold" fill="#8c8c8c" text-anchor="middle" >3</text>
<line x1="372.90" y1="380.80" x2="372.90" y2="387.80" stroke="#b8b8b8" stroke-width="0.85"/>
<text x="0" y="0" transform="translate(372.90,378.40) scale(0.15000,0.25)" font-family="'Liberation Sans', sans-serif" font-size="15.2" font-weight="bold" fill="#8c8c8c" text-anchor="middle" >4</text>
<line x1="376.10" y1="377.00" x2="376.10" y2="387.80" stroke="#b8b8b8" stroke-width="0.85"/>
<text x="0" y="0" transform="translate(376.10,374.60) scale(0.15000,0.25)" font-family="'Liberation Sans', sans-serif" font-size="15.2" font-weight="bold" fill="#8c8c8c" text-anchor="middle" >5</text>
<line x1="379.40" y1="371.80" x2="379.40" y2="387.80" stroke="#b8b8b8" stroke-width="0.85"/>
<text x="0" y="0" transform="translate(379.40,369.40) scale(0.15000,0.25)" font-family="'Liberation Sans', sans-serif" font-size="15.2" font-weight="bold" fill="#8c8c8c" text-anchor="middle" >6</text>
<line x1="382.70" y1="329.90" x2="382.70" y2="387.80" stroke="#b8b8b8" stroke-width="0.85"/>
<text x="0" y="0" transform="translate(382.70,327.50) scale(0.15000,0.25)" font-family="'Liberation Sans', sans-serif" font-size="15.2" font-weight="bold" fill="#8c8c8c" text-anchor="middle" >7</text>
<line x1="385.90" y1="301.60" x2="385.90" y2="387.80" stroke="#b8b8b8" stroke-width="0.85"/>
<text x="0" y="0" transform="translate(385.90,299.20) scale(0.15000,0.25)" font-family="'Liberation Sans', sans-serif" font-size="15.2" font-weight="bold" fill="#8c8c8c" text-anchor="middle" >8</text>
<line x1="389.40" y1="330.60" x2="389.40" y2="387.80" stroke="#b8b8b8" stroke-width="0.85"/>
<text x="0" y="0" transform="translate(389.40,328.20) scale(0.15000,0.25)" font-family="'Liberation Sans', sans-serif" font-size="15.2" font-weight="bold" fill="#8c8c8c" text-anchor="middle" >9</text>
<line x1="392.40" y1="311.00" x2="392.40" y2="387.80" stroke="#b8b8b8" stroke-width="0.85"/>
<text x="0" y="0" transform="translate(392.40,308.60) scale(0.15000,0.25)" font-family="'Liberation Sans', sans-serif" font-size="15.2" font-weight="bold" fill="#8c8c8c" text-anchor="middle" >10</text>
<line x1="395.50" y1="227.70" x2="395.50" y2="387.80" stroke="#b8b8b8" stroke-width="0.85"/>
<rect x="390.60" y="227.00" width="2.2" height="2.2" fill="#a8a8a8"/>
<line x1="393.20" y1="229.10" x2="394.30" y2="227.30" stroke="#c8c8c8" stroke-width="0.6"/>
<line x1="399.00" y1="349.40" x2="399.00" y2="387.80" stroke="#b8b8b8" stroke-width="0.85"/>
<text x="0" y="0" transform="translate(399.00,347.00) scale(0.15000,0.25)" font-family="'Liberation Sans', sans-serif" font-size="15.2" font-weight="bold" fill="#8c8c8c" text-anchor="middle" >12</text>
<line x1="402.50" y1="339.60" x2="402.50" y2="387.80" stroke="#b8b8b8" stroke-width="0.85"/>
<text x="0" y="0" transform="translate(402.50,337.20) scale(0.15000,0.25)" font-family="'Liberation Sans', sans-serif" font-size="15.2" font-weight="bold" fill="#8c8c8c" text-anchor="middle" >13</text>
<line x1="405.60" y1="279.10" x2="405.60" y2="387.80" stroke="#b8b8b8" stroke-width="0.85"/>
<text x="0" y="0" transform="translate(405.60,276.70) scale(0.15000,0.25)" font-family="'Liberation Sans', sans-serif" font-size="15.2" font-weight="bold" fill="#8c8c8c" text-anchor="middle" >14</text>
<line x1="408.90" y1="302.00" x2="408.90" y2="387.80" stroke="#b8b8b8" stroke-width="0.85"/>
<text x="0" y="0" transform="translate(408.90,299.60) scale(0.15000,0.25)" font-family="'Liberation Sans', sans-serif" font-size="15.2" font-weight="bold" fill="#8c8c8c" text-anchor="middle" >15</text>
<line x1="412.10" y1="384.00" x2="412.10" y2="387.80" stroke="#b8b8b8" stroke-width="0.85"/>
<text x="0" y="0" transform="translate(412.10,381.60) scale(0.15000,0.25)" font-family="'Liberation Sans', sans-serif" font-size="15.2" font-weight="bold" fill="#8c8c8c" text-anchor="middle" >16</text>
<line x1="415.50" y1="294.80" x2="415.50" y2="387.80" stroke="#b8b8b8" stroke-width="0.85"/>
<text x="0" y="0" transform="translate(415.50,292.40) scale(0.15000,0.25)" font-family="'Liberation Sans', sans-serif" font-size="15.2" font-weight="bold" fill="#8c8c8c" text-anchor="middle" >17</text>
<line x1="419.00" y1="333.60" x2="419.00" y2="387.80" stroke="#b8b8b8" stroke-width="0.85"/>
<text x="0" y="0" transform="translate(419.00,331.20) scale(0.15000,0.25)" font-family="'Liberation Sans', sans-serif" font-size="15.2" font-weight="bold" fill="#8c8c8c" text-anchor="middle" >18</text>
<line x1="422.30" y1="341.10" x2="422.30" y2="387.80" stroke="#b8b8b8" stroke-width="0.85"/>
<text x="0" y="0" transform="translate(422.30,338.70) scale(0.15000,0.25)" font-family="'Liberation Sans', sans-serif" font-size="15.2" font-weight="bold" fill="#8c8c8c" text-anchor="middle" >19</text>
<line x1="425.30" y1="306.00" x2="425.30" y2="387.80" stroke="#b8b8b8" stroke-width="0.85"/>
<text x="0" y="0" transform="translate(425.30,303.60) scale(0.15000,0.25)" font-family="'Liberation Sans', sans-serif" font-size="15.2" font-weight="bold" fill="#8c8c8c" text-anchor="middle" >20</text>
<line x1="428.50" y1="341.50" x2="428.50" y2="387.80" stroke="#b8b8b8" stroke-width="0.85"/>
<text x="0" y="0" transform="translate(428.50,339.10) scale(0.15000,0.25)" font-family="'Liberation Sans', sans-serif" font-size="15.2" font-weight="bold" fill="#8c8c8c" text-anchor="middle" >21</text>
<line x1="431.80" y1="357.00" x2="431.80" y2="387.80" stroke="#b8b8b8" stroke-width="0.85"/>
<text x="0" y="0" transform="translate(431.80,354.60) scale(0.15000,0.25)" font-family="'Liberation Sans', sans-serif" font-size="15.2" font-weight="bold" fill="#8c8c8c" text-anchor="middle" >22</text>
<line x1="435.00" y1="358.00" x2="435.00" y2="387.80" stroke="#b8b8b8" stroke-width="0.85"/>
<text x="0" y="0" transform="translate(435.00,355.60) scale(0.15000,0.25)" font-family="'Liberation Sans', sans-serif" font-size="15.2" font-weight="bold" fill="#8c8c8c" text-anchor="middle" >23</text>
<line x1="438.30" y1="245.60" x2="438.30" y2="387.80" stroke="#b8b8b8" stroke-width="0.85"/>
<text x="0" y="0" transform="translate(438.30,243.20) scale(0.15000,0.25)" font-family="'Liberation Sans', sans-serif" font-size="15.2" font-weight="bold" fill="#8c8c8c" text-anchor="middle" >24</text>
<line x1="441.50" y1="341.20" x2="441.50" y2="387.80" stroke="#b8b8b8" stroke-width="0.85"/>
<text x="0" y="0" transform="translate(441.50,338.80) scale(0.15000,0.25)" font-family="'Liberation Sans', sans-serif" font-size="15.2" font-weight="bold" fill="#8c8c8c" text-anchor="middle" >25</text>
<line x1="445.00" y1="381.50" x2="445.00" y2="387.80" stroke="#b8b8b8" stroke-width="0.85"/>
<text x="0" y="0" transform="translate(445.00,379.10) scale(0.15000,0.25)" font-family="'Liberation Sans', sans-serif" font-size="15.2" font-weight="bold" fill="#8c8c8c" text-anchor="middle" >26</text>
<line x1="448.40" y1="320.80" x2="448.40" y2="387.80" stroke="#b8b8b8" stroke-width="0.85"/>
<text x="0" y="0" transform="translate(448.40,318.40) scale(0.15000,0.25)" font-family="'Liberation Sans', sans-serif" font-size="15.2" font-weight="bold" fill="#8c8c8c" text-anchor="middle" >27</text>
<line x1="451.50" y1="374.50" x2="451.50" y2="387.80" stroke="#b8b8b8" stroke-width="0.85"/>
<text x="0" y="0" transform="translate(451.50,372.10) scale(0.15000,0.25)" font-family="'Liberation Sans', sans-serif" font-size="15.2" font-weight="bold" fill="#8c8c8c" text-anchor="middle" >28</text>
<line x1="454.70" y1="379.00" x2="454.70" y2="387.80" stroke="#b8b8b8" stroke-width="0.85"/>
<text x="0" y="0" transform="translate(454.70,376.60) scale(0.15000,0.25)" font-family="'Liberation Sans', sans-serif" font-size="15.2" font-weight="bold" fill="#8c8c8c" text-anchor="middle" >29</text>
<line x1="464.30" y1="376.00" x2="464.30" y2="387.80" stroke="#b8b8b8" stroke-width="0.85"/>
<text x="0" y="0" transform="translate(464.30,373.60) scale(0.15000,0.25)" font-family="'Liberation Sans', sans-serif" font-size="15.2" font-weight="bold" fill="#8c8c8c" text-anchor="middle" >30</text>
<line x1="467.70" y1="348.40" x2="467.70" y2="387.80" stroke="#b8b8b8" stroke-width="0.85"/>
<text x="0" y="0" transform="translate(467.70,346.00) scale(0.15000,0.25)" font-family="'Liberation Sans', sans-serif" font-size="15.2" font-weight="bold" fill="#8c8c8c" text-anchor="middle" >31</text>
<line x1="471.20" y1="315.60" x2="471.20" y2="387.80" stroke="#b8b8b8" stroke-width="0.85"/>
<text x="0" y="0" transform="translate(471.20,313.20) scale(0.15000,0.25)" font-family="'Liberation Sans', sans-serif" font-size="15.2" font-weight="bold" fill="#8c8c8c" text-anchor="middle" >32</text>
<line x1="474.40" y1="315.60" x2="474.40" y2="387.80" stroke="#b8b8b8" stroke-width="0.85"/>
<text x="0" y="0" transform="translate(474.40,313.20) scale(0.15000,0.25)" font-family="'Liberation Sans', sans-serif" font-size="15.2" font-weight="bold" fill="#8c8c8c" text-anchor="middle" >33</text>
<line x1="477.60" y1="370.10" x2="477.60" y2="387.80" stroke="#b8b8b8" stroke-width="0.85"/>
<text x="0" y="0" transform="translate(477.60,367.70) scale(0.15000,0.25)" font-family="'Liberation Sans', sans-serif" font-size="15.2" font-weight="bold" fill="#8c8c8c" text-anchor="middle" >34</text>
<line x1="480.90" y1="333.00" x2="480.90" y2="387.80" stroke="#b8b8b8" stroke-width="0.85"/>
<text x="0" y="0" transform="translate(480.90,330.60) scale(0.15000,0.25)" font-family="'Liberation Sans', sans-serif" font-size="15.2" font-weight="bold" fill="#8c8c8c" text-anchor="middle" >35</text>
<line x1="484.20" y1="371.60" x2="484.20" y2="387.80" stroke="#b8b8b8" stroke-width="0.85"/>
<text x="0" y="0" transform="translate(484.20,369.20) scale(0.15000,0.25)" font-family="'Liberation Sans', sans-serif" font-size="15.2" font-weight="bold" fill="#8c8c8c" text-anchor="middle" >36</text>
<line x1="487.50" y1="363.30" x2="487.50" y2="387.80" stroke="#b8b8b8" stroke-width="0.85"/>
<text x="0" y="0" transform="translate(487.50,360.90) scale(0.15000,0.25)" font-family="'Liberation Sans', sans-serif" font-size="15.2" font-weight="bold" fill="#8c8c8c" text-anchor="middle" >37</text>
<line x1="490.70" y1="358.10" x2="490.70" y2="387.80" stroke="#b8b8b8" stroke-width="0.85"/>
<text x="0" y="0" transform="translate(490.70,355.70) scale(0.15000,0.25)" font-family="'Liberation Sans', sans-serif" font-size="15.2" font-weight="bold" fill="#8c8c8c" text-anchor="middle" >38</text>
<line x1="494.00" y1="370.10" x2="494.00" y2="387.80" stroke="#b8b8b8" stroke-width="0.85"/>
<text x="0" y="0" transform="translate(494.00,367.70) scale(0.15000,0.25)" font-family="'Liberation Sans', sans-serif" font-size="15.2" font-weight="bold" fill="#8c8c8c" text-anchor="middle" >39</text>
<line x1="497.30" y1="328.50" x2="497.30" y2="387.80" stroke="#b8b8b8" stroke-width="0.85"/>
<text x="0" y="0" transform="translate(497.30,326.10) scale(0.15000,0.25)" font-family="'Liberation Sans', sans-serif" font-size="15.2" font-weight="bold" fill="#8c8c8c" text-anchor="middle" >40</text>
<line x1="500.60" y1="273.00" x2="500.60" y2="387.80" stroke="#b8b8b8" stroke-width="0.85"/>
<text x="0" y="0" transform="translate(500.60,270.60) scale(0.15000,0.25)" font-family="'Liberation Sans', sans-serif" font-size="15.2" font-weight="bold" fill="#8c8c8c" text-anchor="middle" >41</text>
<line x1="503.70" y1="301.40" x2="503.70" y2="387.80" stroke="#b8b8b8" stroke-width="0.85"/>
<text x="0" y="0" transform="translate(503.70,299.00) scale(0.15000,0.25)" font-family="'Liberation Sans', sans-serif" font-size="15.2" font-weight="bold" fill="#8c8c8c" text-anchor="middle" >42</text>
<line x1="507.00" y1="309.60" x2="507.00" y2="387.80" stroke="#b8b8b8" stroke-width="0.85"/>
<text x="0" y="0" transform="translate(507.00,307.20) scale(0.15000,0.25)" font-family="'Liberation Sans', sans-serif" font-size="15.2" font-weight="bold" fill="#8c8c8c" text-anchor="middle" >43</text>
<line x1="510.30" y1="328.50" x2="510.30" y2="387.80" stroke="#b8b8b8" stroke-width="0.85"/>
<text x="0" y="0" transform="translate(510.30,326.10) scale(0.15000,0.25)" font-family="'Liberation Sans', sans-serif" font-size="15.2" font-weight="bold" fill="#8c8c8c" text-anchor="middle" >44</text>
<line x1="513.60" y1="338.70" x2="513.60" y2="387.80" stroke="#b8b8b8" stroke-width="0.85"/>
<text x="0" y="0" transform="translate(513.60,336.30) scale(0.15000,0.25)" font-family="'Liberation Sans', sans-serif" font-size="15.2" font-weight="bold" fill="#8c8c8c" text-anchor="middle" >45</text>
<line x1="516.90" y1="351.40" x2="516.90" y2="387.80" stroke="#b8b8b8" stroke-width="0.85"/>
<text x="0" y="0" transform="translate(516.90,349.00) scale(0.15000,0.25)" font-family="'Liberation Sans', sans-serif" font-size="15.2" font-weight="bold" fill="#8c8c8c" text-anchor="middle" >46</text>
<line x1="520.20" y1="330.00" x2="520.20" y2="387.80" stroke="#b8b8b8" stroke-width="0.85"/>
<text x="0" y="0" transform="translate(520.20,327.60) scale(0.15000,0.25)" font-family="'Liberation Sans', sans-serif" font-size="15.2" font-weight="bold" fill="#8c8c8c" text-anchor="middle" >47</text>
<line x1="523.50" y1="312.60" x2="523.50" y2="387.80" stroke="#b8b8b8" stroke-width="0.85"/>
<text x="0" y="0" transform="translate(523.50,310.20) scale(0.15000,0.25)" font-family="'Liberation Sans', sans-serif" font-size="15.2" font-weight="bold" fill="#8c8c8c" text-anchor="middle" >48</text>
<line x1="526.80" y1="363.30" x2="526.80" y2="387.80" stroke="#b8b8b8" stroke-width="0.85"/>
<text x="0" y="0" transform="translate(526.80,360.90) scale(0.15000,0.25)" font-family="'Liberation Sans', sans-serif" font-size="15.2" font-weight="bold" fill="#8c8c8c" text-anchor="middle" >49</text>
<line x1="530.00" y1="341.70" x2="530.00" y2="387.80" stroke="#b8b8b8" stroke-width="0.85"/>
<text x="0" y="0" transform="translate(530.00,339.30) scale(0.15000,0.25)" font-family="'Liberation Sans', sans-serif" font-size="15.2" font-weight="bold" fill="#8c8c8c" text-anchor="middle" >50</text>
<line x1="533.20" y1="330.00" x2="533.20" y2="387.80" stroke="#b8b8b8" stroke-width="0.85"/>
<text x="0" y="0" transform="translate(533.20,327.60) scale(0.15000,0.25)" font-family="'Liberation Sans', sans-serif" font-size="15.2" font-weight="bold" fill="#8c8c8c" text-anchor="middle" >51</text>
<line x1="536.40" y1="332.00" x2="536.40" y2="387.80" stroke="#b8b8b8" stroke-width="0.85"/>
<text x="0" y="0" transform="translate(536.40,329.60) scale(0.15000,0.25)" font-family="'Liberation Sans', sans-serif" font-size="15.2" font-weight="bold" fill="#8c8c8c" text-anchor="middle" >52</text>
<line x1="539.70" y1="349.50" x2="539.70" y2="387.80" stroke="#b8b8b8" stroke-width="0.85"/>
<text x="0" y="0" transform="translate(539.70,347.10) scale(0.15000,0.25)" font-family="'Liberation Sans', sans-serif" font-size="15.2" font-weight="bold" fill="#8c8c8c" text-anchor="middle" >53</text>
<line x1="543.20" y1="357.00" x2="543.20" y2="387.80" stroke="#b8b8b8" stroke-width="0.85"/>
<text x="0" y="0" transform="translate(543.20,354.60) scale(0.15000,0.25)" font-family="'Liberation Sans', sans-serif" font-size="15.2" font-weight="bold" fill="#8c8c8c" text-anchor="middle" >54</text>
<line x1="546.40" y1="360.00" x2="546.40" y2="387.80" stroke="#b8b8b8" stroke-width="0.85"/>
<text x="0" y="0" transform="translate(546.40,357.60) scale(0.15000,0.25)" font-family="'Liberation Sans', sans-serif" font-size="15.2" font-weight="bold" fill="#8c8c8c" text-anchor="middle" >55</text>
<line x1="549.60" y1="324.80" x2="549.60" y2="387.80" stroke="#b8b8b8" stroke-width="0.85"/>
<text x="0" y="0" transform="translate(549.60,322.40) scale(0.15000,0.25)" font-family="'Liberation Sans', sans-serif" font-size="15.2" font-weight="bold" fill="#8c8c8c" text-anchor="middle" >56</text>
<line x1="556.50" y1="349.40" x2="556.50" y2="387.80" stroke="#b8b8b8" stroke-width="0.85"/>
<text x="0" y="0" transform="translate(556.50,347.00) scale(0.15000,0.25)" font-family="'Liberation Sans', sans-serif" font-size="15.2" font-weight="bold" fill="#8c8c8c" text-anchor="middle" >57</text>
<line x1="559.70" y1="294.50" x2="559.70" y2="387.80" stroke="#b8b8b8" stroke-width="0.85"/>
<text x="0" y="0" transform="translate(559.70,292.10) scale(0.15000,0.25)" font-family="'Liberation Sans', sans-serif" font-size="15.2" font-weight="bold" fill="#8c8c8c" text-anchor="middle" >58</text>
<line x1="562.90" y1="354.00" x2="562.90" y2="387.80" stroke="#b8b8b8" stroke-width="0.85"/>
<text x="0" y="0" transform="translate(562.90,351.60) scale(0.15000,0.25)" font-family="'Liberation Sans', sans-serif" font-size="15.2" font-weight="bold" fill="#8c8c8c" text-anchor="middle" >59</text>
<line x1="589.00" y1="385.30" x2="589.00" y2="387.80" stroke="#b8b8b8" stroke-width="0.85"/>
<text x="0" y="0" transform="translate(589.00,382.90) scale(0.15000,0.25)" font-family="'Liberation Sans', sans-serif" font-size="15.2" font-weight="bold" fill="#8c8c8c" text-anchor="middle" >60</text>
<text x="0" y="0" transform="translate(367.80,246.00) scale(0.17000,0.25)" font-family="'Liberation Serif', serif" font-size="70" font-weight="bold" fill="#111" text-anchor="start" stroke="#111" stroke-width="3">D</text>
</g>
<text x="0" y="0" transform="translate(180.45,252.60) scale(0.20563,0.25)" font-family="'Liberation Serif', serif" font-size="44" font-weight="normal" fill="#111" text-anchor="start" stroke="#222" stroke-width="1.2">10-epi-γ-eudesmol</text>
<polyline points="268.30,267.50 268.30,248.90" fill="none" stroke="#444" stroke-width="1.0" />
<polyline points="268.80,248.90 252.30,248.90" fill="none" stroke="#111" stroke-width="1.4" />
<polygon points="249.20,248.90 253.62,246.01 253.62,251.79" fill="#111"/>
<text x="0" y="0" transform="translate(277.26,253.20) scale(0.20970,0.25)" font-family="'Liberation Serif', serif" font-size="44" font-weight="normal" fill="#111" text-anchor="start" stroke="#222" stroke-width="1.2">β-eudesmol</text>
<polyline points="285.60,254.50 286.60,255.50 287.60,254.50 288.60,255.50 289.60,254.50 290.60,255.50 291.60,254.50 292.60,255.50 293.60,254.50 294.60,255.50 295.60,254.50 296.60,255.50 297.60,254.50 298.60,255.50 299.60,254.50 300.60,255.50 301.60,254.50 302.60,255.50 303.60,254.50 304.60,255.50 305.60,254.50 306.60,255.50 307.60,254.50 308.60,255.50 309.60,254.50 310.60,255.50 311.60,254.50 312.60,255.50 313.60,254.50 314.60,255.50 315.60,254.50 316.60,255.50 317.60,254.50 318.60,255.50 319.60,254.50 320.60,255.50" fill="none" stroke="#7a7a7a" stroke-width="0.95" />
<polyline points="274.50,232.60 290.30,232.60 290.30,239.00" fill="none" stroke="#222" stroke-width="1.1" />
<polygon points="290.30,242.20 287.58,238.04 293.02,238.04" fill="#111"/>
<text x="0" y="0" transform="translate(413.30,236.80) scale(0.20060,0.25)" font-family="'Liberation Serif', serif" font-size="46" font-weight="normal" fill="#111" text-anchor="start" stroke="#222" stroke-width="1.2">limonene</text>
<polyline points="398.00,232.60 409.50,232.60" fill="none" stroke="#111" stroke-width="1.4" />
<polygon points="412.40,232.60 407.98,229.71 407.98,235.49" fill="#111"/>
<text x="0" y="0" transform="translate(455.61,257.90) scale(0.19848,0.25)" font-family="'Liberation Serif', serif" font-size="46" font-weight="normal" fill="#111" text-anchor="start" stroke="#222" stroke-width="1.2">isomenthol</text>
<polyline points="456.50,260.20 457.50,261.20 458.50,260.20 459.50,261.20 460.50,260.20 461.50,261.20 462.50,260.20 463.50,261.20 464.50,260.20 465.50,261.20 466.50,260.20 467.50,261.20 468.50,260.20 469.50,261.20 470.50,260.20 471.50,261.20 472.50,260.20 473.50,261.20 474.50,260.20 475.50,261.20 476.50,260.20 477.50,261.20 478.50,260.20 479.50,261.20 480.50,260.20 481.50,261.20 482.50,260.20 483.50,261.20 484.50,260.20 485.50,261.20 486.50,260.20 487.50,261.20 488.50,260.20 489.50,261.20 490.50,260.20 491.50,261.20 492.50,260.20 493.50,261.20 494.50,260.20 495.50,261.20" fill="none" stroke="#7a7a7a" stroke-width="0.95" />
<polyline points="441.00,254.60 450.80,254.60" fill="none" stroke="#111" stroke-width="1.4" />
<polygon points="453.80,254.60 449.38,251.71 449.38,257.49" fill="#111"/>
<text x="0" y="0" transform="translate(565.57,271.00) scale(0.20405,0.25)" font-family="'Liberation Serif', serif" font-size="44" font-weight="normal" fill="#111" text-anchor="start" stroke="#222" stroke-width="1.2">10-epi-γ-eudesmol</text>
<polyline points="536.30,324.50 536.30,267.20" fill="none" stroke="#444" stroke-width="1.0" />
<polyline points="535.80,267.20 562.20,267.20" fill="none" stroke="#111" stroke-width="1.4" />
<polygon points="565.20,267.20 560.78,264.31 560.78,270.09" fill="#111"/>
</svg>
</body></html>
